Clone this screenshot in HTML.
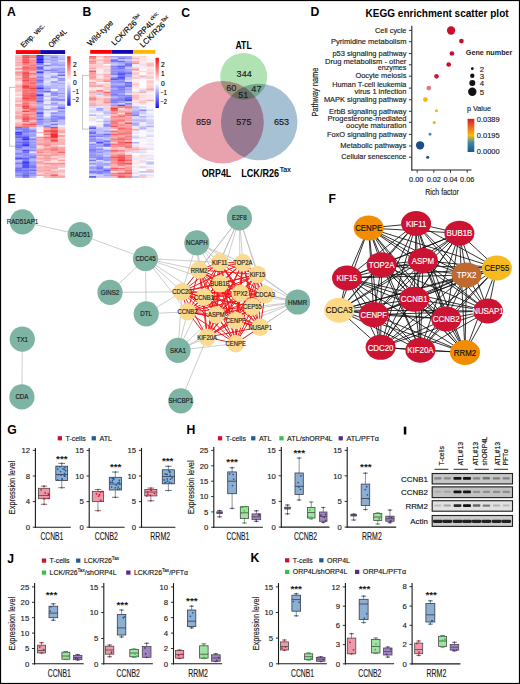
<!DOCTYPE html>
<html><head><meta charset="utf-8"><style>
html,body{margin:0;padding:0;background:#fff;}
svg{display:block;font-family:"Liberation Sans", sans-serif;}
</style></head><body>
<svg width="520" height="684" viewBox="0 0 520 684">
<defs>
<linearGradient id="hmgrad" x1="0" y1="0" x2="0" y2="1">
<stop offset="0" stop-color="#f80c10"/><stop offset="0.5" stop-color="#ffffff"/><stop offset="1" stop-color="#1010f8"/>
</linearGradient>
<linearGradient id="pgrad" x1="0" y1="0" x2="0" y2="1">
<stop offset="0" stop-color="#d01c2c"/><stop offset="0.25" stop-color="#ec6a20"/><stop offset="0.5" stop-color="#f6bc14"/>
<stop offset="0.72" stop-color="#3c8aa4"/><stop offset="1" stop-color="#1b5592"/>
</linearGradient>
<filter id="blur1" x="-50%" y="-50%" width="200%" height="200%"><feGaussianBlur stdDeviation="0.55"/></filter>
</defs>
<rect x="0" y="0" width="520" height="684" fill="#fff"/>
<text x="7.00" y="15.80" font-size="12.2" text-anchor="start" font-weight="bold" fill="#000" >A</text>
<text x="82.60" y="15.50" font-size="12.2" text-anchor="start" font-weight="bold" fill="#000" >B</text>
<rect x="15.80" y="50.10" width="24.40" height="3.90" fill="#fa0208" />
<rect x="40.20" y="50.10" width="24.90" height="3.90" fill="#1206b0" />
<rect x="15.20" y="55.00" width="7.35" height="1.88" fill="#fcc3c4" />
<rect x="22.30" y="55.00" width="7.35" height="1.88" fill="#f75d60" />
<rect x="29.40" y="55.00" width="7.35" height="1.88" fill="#f97e81" />
<rect x="36.50" y="55.00" width="7.35" height="1.88" fill="#2a2af5" />
<rect x="43.60" y="55.00" width="7.35" height="1.88" fill="#9f9ffa" />
<rect x="50.70" y="55.00" width="7.35" height="1.88" fill="#afaffb" />
<rect x="57.80" y="55.00" width="7.35" height="1.88" fill="#c6c6fc" />
<rect x="15.20" y="56.63" width="7.35" height="1.88" fill="#fbaeb0" />
<rect x="22.30" y="56.63" width="7.35" height="1.88" fill="#f74d51" />
<rect x="29.40" y="56.63" width="7.35" height="1.88" fill="#f87073" />
<rect x="36.50" y="56.63" width="7.35" height="1.88" fill="#4040f6" />
<rect x="43.60" y="56.63" width="7.35" height="1.88" fill="#c1c1fc" />
<rect x="50.70" y="56.63" width="7.35" height="1.88" fill="#8383f9" />
<rect x="57.80" y="56.63" width="7.35" height="1.88" fill="#bebefc" />
<rect x="15.20" y="58.27" width="7.35" height="1.88" fill="#fbacad" />
<rect x="22.30" y="58.27" width="7.35" height="1.88" fill="#f75d61" />
<rect x="29.40" y="58.27" width="7.35" height="1.88" fill="#fbabad" />
<rect x="36.50" y="58.27" width="7.35" height="1.88" fill="#1e1ef5" />
<rect x="43.60" y="58.27" width="7.35" height="1.88" fill="#a0a0fa" />
<rect x="50.70" y="58.27" width="7.35" height="1.88" fill="#a7a7fb" />
<rect x="57.80" y="58.27" width="7.35" height="1.88" fill="#aeaefb" />
<rect x="15.20" y="59.90" width="7.35" height="1.88" fill="#fcbcbe" />
<rect x="22.30" y="59.90" width="7.35" height="1.88" fill="#f75c60" />
<rect x="29.40" y="59.90" width="7.35" height="1.88" fill="#f98b8e" />
<rect x="36.50" y="59.90" width="7.35" height="1.88" fill="#3d3df6" />
<rect x="43.60" y="59.90" width="7.35" height="1.88" fill="#c7c7fc" />
<rect x="50.70" y="59.90" width="7.35" height="1.88" fill="#a1a1fa" />
<rect x="57.80" y="59.90" width="7.35" height="1.88" fill="#d9d9fd" />
<rect x="15.20" y="61.54" width="7.35" height="1.88" fill="#fbaaac" />
<rect x="22.30" y="61.54" width="7.35" height="1.88" fill="#f6484c" />
<rect x="29.40" y="61.54" width="7.35" height="1.88" fill="#f98a8d" />
<rect x="36.50" y="61.54" width="7.35" height="1.88" fill="#1e1ef5" />
<rect x="43.60" y="61.54" width="7.35" height="1.88" fill="#b1b1fb" />
<rect x="50.70" y="61.54" width="7.35" height="1.88" fill="#b2b2fb" />
<rect x="57.80" y="61.54" width="7.35" height="1.88" fill="#b8b8fb" />
<rect x="15.20" y="63.17" width="7.35" height="1.88" fill="#fbb3b5" />
<rect x="22.30" y="63.17" width="7.35" height="1.88" fill="#f97a7d" />
<rect x="29.40" y="63.17" width="7.35" height="1.88" fill="#fa9597" />
<rect x="36.50" y="63.17" width="7.35" height="1.88" fill="#7979f9" />
<rect x="43.60" y="63.17" width="7.35" height="1.88" fill="#e0e0fd" />
<rect x="50.70" y="63.17" width="7.35" height="1.88" fill="#9d9dfa" />
<rect x="57.80" y="63.17" width="7.35" height="1.88" fill="#acacfb" />
<rect x="15.20" y="64.81" width="7.35" height="1.88" fill="#fbaeb0" />
<rect x="22.30" y="64.81" width="7.35" height="1.88" fill="#fa9a9c" />
<rect x="29.40" y="64.81" width="7.35" height="1.88" fill="#f87679" />
<rect x="36.50" y="64.81" width="7.35" height="1.88" fill="#b0b0fb" />
<rect x="43.60" y="64.81" width="7.35" height="1.88" fill="#7e7ef9" />
<rect x="50.70" y="64.81" width="7.35" height="1.88" fill="#acacfb" />
<rect x="57.80" y="64.81" width="7.35" height="1.88" fill="#a1a1fa" />
<rect x="15.20" y="66.44" width="7.35" height="1.88" fill="#fdd4d5" />
<rect x="22.30" y="66.44" width="7.35" height="1.88" fill="#f75d61" />
<rect x="29.40" y="66.44" width="7.35" height="1.88" fill="#f9797c" />
<rect x="36.50" y="66.44" width="7.35" height="1.88" fill="#5c5cf7" />
<rect x="43.60" y="66.44" width="7.35" height="1.88" fill="#d4d4fd" />
<rect x="50.70" y="66.44" width="7.35" height="1.88" fill="#cacafc" />
<rect x="57.80" y="66.44" width="7.35" height="1.88" fill="#c1c1fc" />
<rect x="15.20" y="68.08" width="7.35" height="1.88" fill="#fa8f92" />
<rect x="22.30" y="68.08" width="7.35" height="1.88" fill="#f86165" />
<rect x="29.40" y="68.08" width="7.35" height="1.88" fill="#f87477" />
<rect x="36.50" y="68.08" width="7.35" height="1.88" fill="#6161f7" />
<rect x="43.60" y="68.08" width="7.35" height="1.88" fill="#cecefc" />
<rect x="50.70" y="68.08" width="7.35" height="1.88" fill="#a3a3fa" />
<rect x="57.80" y="68.08" width="7.35" height="1.88" fill="#9797fa" />
<rect x="15.20" y="69.71" width="7.35" height="1.88" fill="#fde1e2" />
<rect x="22.30" y="69.71" width="7.35" height="1.88" fill="#f98a8c" />
<rect x="29.40" y="69.71" width="7.35" height="1.88" fill="#f9888a" />
<rect x="36.50" y="69.71" width="7.35" height="1.88" fill="#b0b0fb" />
<rect x="43.60" y="69.71" width="7.35" height="1.88" fill="#7d7df9" />
<rect x="50.70" y="69.71" width="7.35" height="1.88" fill="#8989f9" />
<rect x="57.80" y="69.71" width="7.35" height="1.88" fill="#acacfb" />
<rect x="15.20" y="71.35" width="7.35" height="1.88" fill="#fa8f92" />
<rect x="22.30" y="71.35" width="7.35" height="1.88" fill="#f75b5e" />
<rect x="29.40" y="71.35" width="7.35" height="1.88" fill="#fbb1b3" />
<rect x="36.50" y="71.35" width="7.35" height="1.88" fill="#3c3cf6" />
<rect x="43.60" y="71.35" width="7.35" height="1.88" fill="#c6c6fc" />
<rect x="50.70" y="71.35" width="7.35" height="1.88" fill="#9f9ffa" />
<rect x="57.80" y="71.35" width="7.35" height="1.88" fill="#8282f9" />
<rect x="15.20" y="72.98" width="7.35" height="1.88" fill="#fa9d9f" />
<rect x="22.30" y="72.98" width="7.35" height="1.88" fill="#f74b4f" />
<rect x="29.40" y="72.98" width="7.35" height="1.88" fill="#f87376" />
<rect x="36.50" y="72.98" width="7.35" height="1.88" fill="#9090fa" />
<rect x="43.60" y="72.98" width="7.35" height="1.88" fill="#c8c8fc" />
<rect x="50.70" y="72.98" width="7.35" height="1.88" fill="#e6e6fd" />
<rect x="57.80" y="72.98" width="7.35" height="1.88" fill="#b7b7fb" />
<rect x="15.20" y="74.62" width="7.35" height="1.88" fill="#fbabad" />
<rect x="22.30" y="74.62" width="7.35" height="1.88" fill="#f75c5f" />
<rect x="29.40" y="74.62" width="7.35" height="1.88" fill="#fba7a9" />
<rect x="36.50" y="74.62" width="7.35" height="1.88" fill="#afaffb" />
<rect x="43.60" y="74.62" width="7.35" height="1.88" fill="#d8d8fd" />
<rect x="50.70" y="74.62" width="7.35" height="1.88" fill="#c5c5fc" />
<rect x="57.80" y="74.62" width="7.35" height="1.88" fill="#6969f8" />
<rect x="15.20" y="76.25" width="7.35" height="1.88" fill="#fccecf" />
<rect x="22.30" y="76.25" width="7.35" height="1.88" fill="#f75356" />
<rect x="29.40" y="76.25" width="7.35" height="1.88" fill="#fbafb0" />
<rect x="36.50" y="76.25" width="7.35" height="1.88" fill="#8383f9" />
<rect x="43.60" y="76.25" width="7.35" height="1.88" fill="#dadafd" />
<rect x="50.70" y="76.25" width="7.35" height="1.88" fill="#8e8ef9" />
<rect x="57.80" y="76.25" width="7.35" height="1.88" fill="#d5d5fd" />
<rect x="15.20" y="77.89" width="7.35" height="1.88" fill="#fbaaac" />
<rect x="22.30" y="77.89" width="7.35" height="1.88" fill="#f87174" />
<rect x="29.40" y="77.89" width="7.35" height="1.88" fill="#f86e71" />
<rect x="36.50" y="77.89" width="7.35" height="1.88" fill="#9c9cfa" />
<rect x="43.60" y="77.89" width="7.35" height="1.88" fill="#bfbffc" />
<rect x="50.70" y="77.89" width="7.35" height="1.88" fill="#d8d8fd" />
<rect x="57.80" y="77.89" width="7.35" height="1.88" fill="#9090fa" />
<rect x="15.20" y="79.52" width="7.35" height="1.88" fill="#fcc8c9" />
<rect x="22.30" y="79.52" width="7.35" height="1.88" fill="#f74d51" />
<rect x="29.40" y="79.52" width="7.35" height="1.88" fill="#f8777a" />
<rect x="36.50" y="79.52" width="7.35" height="1.88" fill="#6e6ef8" />
<rect x="43.60" y="79.52" width="7.35" height="1.88" fill="#d8d8fd" />
<rect x="50.70" y="79.52" width="7.35" height="1.88" fill="#e2e2fd" />
<rect x="57.80" y="79.52" width="7.35" height="1.88" fill="#9797fa" />
<rect x="15.20" y="81.15" width="7.35" height="1.88" fill="#fde5e5" />
<rect x="22.30" y="81.15" width="7.35" height="1.88" fill="#f87074" />
<rect x="29.40" y="81.15" width="7.35" height="1.88" fill="#f97c7f" />
<rect x="36.50" y="81.15" width="7.35" height="1.88" fill="#7f7ff9" />
<rect x="43.60" y="81.15" width="7.35" height="1.88" fill="#e6e6fd" />
<rect x="50.70" y="81.15" width="7.35" height="1.88" fill="#9696fa" />
<rect x="57.80" y="81.15" width="7.35" height="1.88" fill="#cbcbfc" />
<rect x="15.20" y="82.79" width="7.35" height="1.88" fill="#fde2e2" />
<rect x="22.30" y="82.79" width="7.35" height="1.88" fill="#f98487" />
<rect x="29.40" y="82.79" width="7.35" height="1.88" fill="#f86468" />
<rect x="36.50" y="82.79" width="7.35" height="1.88" fill="#ababfb" />
<rect x="43.60" y="82.79" width="7.35" height="1.88" fill="#d5d5fd" />
<rect x="50.70" y="82.79" width="7.35" height="1.88" fill="#c0c0fc" />
<rect x="57.80" y="82.79" width="7.35" height="1.88" fill="#a9a9fb" />
<rect x="15.20" y="84.42" width="7.35" height="1.88" fill="#fbb6b8" />
<rect x="22.30" y="84.42" width="7.35" height="1.88" fill="#f75b5e" />
<rect x="29.40" y="84.42" width="7.35" height="1.88" fill="#f97d80" />
<rect x="36.50" y="84.42" width="7.35" height="1.88" fill="#9191fa" />
<rect x="43.60" y="84.42" width="7.35" height="1.88" fill="#ccccfc" />
<rect x="50.70" y="84.42" width="7.35" height="1.88" fill="#b5b5fb" />
<rect x="57.80" y="84.42" width="7.35" height="1.88" fill="#bcbcfc" />
<rect x="15.20" y="86.06" width="7.35" height="1.88" fill="#fbaaac" />
<rect x="22.30" y="86.06" width="7.35" height="1.88" fill="#f52f34" />
<rect x="29.40" y="86.06" width="7.35" height="1.88" fill="#f86e71" />
<rect x="36.50" y="86.06" width="7.35" height="1.88" fill="#7b7bf9" />
<rect x="43.60" y="86.06" width="7.35" height="1.88" fill="#b0b0fb" />
<rect x="50.70" y="86.06" width="7.35" height="1.88" fill="#b5b5fb" />
<rect x="57.80" y="86.06" width="7.35" height="1.88" fill="#c1c1fc" />
<rect x="15.20" y="87.69" width="7.35" height="1.88" fill="#fcc5c6" />
<rect x="22.30" y="87.69" width="7.35" height="1.88" fill="#f76164" />
<rect x="29.40" y="87.69" width="7.35" height="1.88" fill="#f64044" />
<rect x="36.50" y="87.69" width="7.35" height="1.88" fill="#3a3af6" />
<rect x="43.60" y="87.69" width="7.35" height="1.88" fill="#9999fa" />
<rect x="50.70" y="87.69" width="7.35" height="1.88" fill="#bdbdfc" />
<rect x="57.80" y="87.69" width="7.35" height="1.88" fill="#b1b1fb" />
<rect x="15.20" y="89.33" width="7.35" height="1.88" fill="#fbb4b5" />
<rect x="22.30" y="89.33" width="7.35" height="1.88" fill="#f9797c" />
<rect x="29.40" y="89.33" width="7.35" height="1.88" fill="#f86467" />
<rect x="36.50" y="89.33" width="7.35" height="1.88" fill="#9191fa" />
<rect x="43.60" y="89.33" width="7.35" height="1.88" fill="#ababfb" />
<rect x="50.70" y="89.33" width="7.35" height="1.88" fill="#fefefe" />
<rect x="57.80" y="89.33" width="7.35" height="1.88" fill="#afaffb" />
<rect x="15.20" y="90.96" width="7.35" height="1.88" fill="#fccccd" />
<rect x="22.30" y="90.96" width="7.35" height="1.88" fill="#f86f72" />
<rect x="29.40" y="90.96" width="7.35" height="1.88" fill="#f97e81" />
<rect x="36.50" y="90.96" width="7.35" height="1.88" fill="#8686f9" />
<rect x="43.60" y="90.96" width="7.35" height="1.88" fill="#6868f8" />
<rect x="50.70" y="90.96" width="7.35" height="1.88" fill="#a7a7fb" />
<rect x="57.80" y="90.96" width="7.35" height="1.88" fill="#c3c3fc" />
<rect x="15.20" y="92.60" width="7.35" height="1.88" fill="#fddedf" />
<rect x="22.30" y="92.60" width="7.35" height="1.88" fill="#f86e71" />
<rect x="29.40" y="92.60" width="7.35" height="1.88" fill="#f75b5e" />
<rect x="36.50" y="92.60" width="7.35" height="1.88" fill="#a2a2fa" />
<rect x="43.60" y="92.60" width="7.35" height="1.88" fill="#e8e8fe" />
<rect x="50.70" y="92.60" width="7.35" height="1.88" fill="#8282f9" />
<rect x="57.80" y="92.60" width="7.35" height="1.88" fill="#9a9afa" />
<rect x="15.20" y="94.23" width="7.35" height="1.88" fill="#fcc5c7" />
<rect x="22.30" y="94.23" width="7.35" height="1.88" fill="#f7595d" />
<rect x="29.40" y="94.23" width="7.35" height="1.88" fill="#f7565a" />
<rect x="36.50" y="94.23" width="7.35" height="1.88" fill="#3737f6" />
<rect x="43.60" y="94.23" width="7.35" height="1.88" fill="#dcdcfd" />
<rect x="50.70" y="94.23" width="7.35" height="1.88" fill="#8989f9" />
<rect x="57.80" y="94.23" width="7.35" height="1.88" fill="#b9b9fb" />
<rect x="15.20" y="95.87" width="7.35" height="1.88" fill="#fee8e9" />
<rect x="22.30" y="95.87" width="7.35" height="1.88" fill="#f8676a" />
<rect x="29.40" y="95.87" width="7.35" height="1.88" fill="#f75357" />
<rect x="36.50" y="95.87" width="7.35" height="1.88" fill="#8484f9" />
<rect x="43.60" y="95.87" width="7.35" height="1.88" fill="#c1c1fc" />
<rect x="50.70" y="95.87" width="7.35" height="1.88" fill="#cecefc" />
<rect x="57.80" y="95.87" width="7.35" height="1.88" fill="#a9a9fb" />
<rect x="15.20" y="97.50" width="7.35" height="1.88" fill="#fcbebf" />
<rect x="22.30" y="97.50" width="7.35" height="1.88" fill="#f63e42" />
<rect x="29.40" y="97.50" width="7.35" height="1.88" fill="#f7585b" />
<rect x="36.50" y="97.50" width="7.35" height="1.88" fill="#7f7ff9" />
<rect x="43.60" y="97.50" width="7.35" height="1.88" fill="#feefef" />
<rect x="50.70" y="97.50" width="7.35" height="1.88" fill="#9393fa" />
<rect x="57.80" y="97.50" width="7.35" height="1.88" fill="#c0c0fc" />
<rect x="15.20" y="99.14" width="7.35" height="1.88" fill="#fcc3c4" />
<rect x="22.30" y="99.14" width="7.35" height="1.88" fill="#f8686c" />
<rect x="29.40" y="99.14" width="7.35" height="1.88" fill="#f86266" />
<rect x="36.50" y="99.14" width="7.35" height="1.88" fill="#8f8ffa" />
<rect x="43.60" y="99.14" width="7.35" height="1.88" fill="#cecefc" />
<rect x="50.70" y="99.14" width="7.35" height="1.88" fill="#8787f9" />
<rect x="57.80" y="99.14" width="7.35" height="1.88" fill="#7777f8" />
<rect x="15.20" y="100.77" width="7.35" height="1.88" fill="#fba8aa" />
<rect x="22.30" y="100.77" width="7.35" height="1.88" fill="#f98a8c" />
<rect x="29.40" y="100.77" width="7.35" height="1.88" fill="#fa9799" />
<rect x="36.50" y="100.77" width="7.35" height="1.88" fill="#5c5cf7" />
<rect x="43.60" y="100.77" width="7.35" height="1.88" fill="#e1e1fd" />
<rect x="50.70" y="100.77" width="7.35" height="1.88" fill="#ccccfc" />
<rect x="57.80" y="100.77" width="7.35" height="1.88" fill="#d1d1fc" />
<rect x="15.20" y="102.41" width="7.35" height="1.88" fill="#fdd7d8" />
<rect x="22.30" y="102.41" width="7.35" height="1.88" fill="#f86c6f" />
<rect x="29.40" y="102.41" width="7.35" height="1.88" fill="#fa9a9c" />
<rect x="36.50" y="102.41" width="7.35" height="1.88" fill="#a0a0fa" />
<rect x="43.60" y="102.41" width="7.35" height="1.88" fill="#ebebfe" />
<rect x="50.70" y="102.41" width="7.35" height="1.88" fill="#9a9afa" />
<rect x="57.80" y="102.41" width="7.35" height="1.88" fill="#d4d4fd" />
<rect x="15.20" y="104.04" width="7.35" height="1.88" fill="#fa9d9f" />
<rect x="22.30" y="104.04" width="7.35" height="1.88" fill="#f87275" />
<rect x="29.40" y="104.04" width="7.35" height="1.88" fill="#fbb3b5" />
<rect x="36.50" y="104.04" width="7.35" height="1.88" fill="#b3b3fb" />
<rect x="43.60" y="104.04" width="7.35" height="1.88" fill="#b8b8fb" />
<rect x="50.70" y="104.04" width="7.35" height="1.88" fill="#a3a3fa" />
<rect x="57.80" y="104.04" width="7.35" height="1.88" fill="#b1b1fb" />
<rect x="15.20" y="105.67" width="7.35" height="1.88" fill="#fbafb0" />
<rect x="22.30" y="105.67" width="7.35" height="1.88" fill="#f63f43" />
<rect x="29.40" y="105.67" width="7.35" height="1.88" fill="#fa9699" />
<rect x="36.50" y="105.67" width="7.35" height="1.88" fill="#ababfb" />
<rect x="43.60" y="105.67" width="7.35" height="1.88" fill="#e8e8fe" />
<rect x="50.70" y="105.67" width="7.35" height="1.88" fill="#e1e1fd" />
<rect x="57.80" y="105.67" width="7.35" height="1.88" fill="#9f9ffa" />
<rect x="15.20" y="107.31" width="7.35" height="1.88" fill="#fdd2d3" />
<rect x="22.30" y="107.31" width="7.35" height="1.88" fill="#f74d51" />
<rect x="29.40" y="107.31" width="7.35" height="1.88" fill="#f87477" />
<rect x="36.50" y="107.31" width="7.35" height="1.88" fill="#8c8cf9" />
<rect x="43.60" y="107.31" width="7.35" height="1.88" fill="#e6e6fd" />
<rect x="50.70" y="107.31" width="7.35" height="1.88" fill="#adadfb" />
<rect x="57.80" y="107.31" width="7.35" height="1.88" fill="#5f5ff7" />
<rect x="15.20" y="108.94" width="7.35" height="1.88" fill="#fcc7c8" />
<rect x="22.30" y="108.94" width="7.35" height="1.88" fill="#fba5a7" />
<rect x="29.40" y="108.94" width="7.35" height="1.88" fill="#f75f62" />
<rect x="36.50" y="108.94" width="7.35" height="1.88" fill="#9292fa" />
<rect x="43.60" y="108.94" width="7.35" height="1.88" fill="#a8a8fb" />
<rect x="50.70" y="108.94" width="7.35" height="1.88" fill="#b5b5fb" />
<rect x="57.80" y="108.94" width="7.35" height="1.88" fill="#bebefc" />
<rect x="15.20" y="110.58" width="7.35" height="1.88" fill="#fbb9ba" />
<rect x="22.30" y="110.58" width="7.35" height="1.88" fill="#f64448" />
<rect x="29.40" y="110.58" width="7.35" height="1.88" fill="#f9797c" />
<rect x="36.50" y="110.58" width="7.35" height="1.88" fill="#a8a8fb" />
<rect x="43.60" y="110.58" width="7.35" height="1.88" fill="#e8e8fe" />
<rect x="50.70" y="110.58" width="7.35" height="1.88" fill="#e6e6fd" />
<rect x="57.80" y="110.58" width="7.35" height="1.88" fill="#9090fa" />
<rect x="15.20" y="112.21" width="7.35" height="1.88" fill="#faa0a2" />
<rect x="22.30" y="112.21" width="7.35" height="1.88" fill="#fba5a7" />
<rect x="29.40" y="112.21" width="7.35" height="1.88" fill="#fa989b" />
<rect x="36.50" y="112.21" width="7.35" height="1.88" fill="#4d4df7" />
<rect x="43.60" y="112.21" width="7.35" height="1.88" fill="#dbdbfd" />
<rect x="50.70" y="112.21" width="7.35" height="1.88" fill="#9090fa" />
<rect x="57.80" y="112.21" width="7.35" height="1.88" fill="#a4a4fa" />
<rect x="15.20" y="113.85" width="7.35" height="1.88" fill="#fcc1c2" />
<rect x="22.30" y="113.85" width="7.35" height="1.88" fill="#f86d70" />
<rect x="29.40" y="113.85" width="7.35" height="1.88" fill="#f9898c" />
<rect x="36.50" y="113.85" width="7.35" height="1.88" fill="#8f8ffa" />
<rect x="43.60" y="113.85" width="7.35" height="1.88" fill="#f1f1fe" />
<rect x="50.70" y="113.85" width="7.35" height="1.88" fill="#b7b7fb" />
<rect x="57.80" y="113.85" width="7.35" height="1.88" fill="#b5b5fb" />
<rect x="15.20" y="115.48" width="7.35" height="1.88" fill="#fa9d9f" />
<rect x="22.30" y="115.48" width="7.35" height="1.88" fill="#f87275" />
<rect x="29.40" y="115.48" width="7.35" height="1.88" fill="#fa9ea0" />
<rect x="36.50" y="115.48" width="7.35" height="1.88" fill="#7878f9" />
<rect x="43.60" y="115.48" width="7.35" height="1.88" fill="#dcdcfd" />
<rect x="50.70" y="115.48" width="7.35" height="1.88" fill="#8383f9" />
<rect x="57.80" y="115.48" width="7.35" height="1.88" fill="#9292fa" />
<rect x="15.20" y="117.12" width="7.35" height="1.88" fill="#fa9c9f" />
<rect x="22.30" y="117.12" width="7.35" height="1.88" fill="#f75458" />
<rect x="29.40" y="117.12" width="7.35" height="1.88" fill="#f8777a" />
<rect x="36.50" y="117.12" width="7.35" height="1.88" fill="#a1a1fa" />
<rect x="43.60" y="117.12" width="7.35" height="1.88" fill="#c0c0fc" />
<rect x="50.70" y="117.12" width="7.35" height="1.88" fill="#9292fa" />
<rect x="57.80" y="117.12" width="7.35" height="1.88" fill="#7575f8" />
<rect x="15.20" y="118.75" width="7.35" height="1.88" fill="#fccecf" />
<rect x="22.30" y="118.75" width="7.35" height="1.88" fill="#f75054" />
<rect x="29.40" y="118.75" width="7.35" height="1.88" fill="#f9898b" />
<rect x="36.50" y="118.75" width="7.35" height="1.88" fill="#6d6df8" />
<rect x="43.60" y="118.75" width="7.35" height="1.88" fill="#a4a4fa" />
<rect x="50.70" y="118.75" width="7.35" height="1.88" fill="#8787f9" />
<rect x="57.80" y="118.75" width="7.35" height="1.88" fill="#a1a1fa" />
<rect x="15.20" y="120.39" width="7.35" height="1.88" fill="#fddfe0" />
<rect x="22.30" y="120.39" width="7.35" height="1.88" fill="#f86165" />
<rect x="29.40" y="120.39" width="7.35" height="1.88" fill="#fcbfc1" />
<rect x="36.50" y="120.39" width="7.35" height="1.88" fill="#9292fa" />
<rect x="43.60" y="120.39" width="7.35" height="1.88" fill="#a8a8fb" />
<rect x="50.70" y="120.39" width="7.35" height="1.88" fill="#7a7af9" />
<rect x="57.80" y="120.39" width="7.35" height="1.88" fill="#bbbbfb" />
<rect x="15.20" y="122.02" width="7.35" height="1.88" fill="#fcc3c5" />
<rect x="22.30" y="122.02" width="7.35" height="1.88" fill="#fbb0b2" />
<rect x="29.40" y="122.02" width="7.35" height="1.88" fill="#fa9294" />
<rect x="36.50" y="122.02" width="7.35" height="1.88" fill="#9191fa" />
<rect x="43.60" y="122.02" width="7.35" height="1.88" fill="#adadfb" />
<rect x="50.70" y="122.02" width="7.35" height="1.88" fill="#cdcdfc" />
<rect x="57.80" y="122.02" width="7.35" height="1.88" fill="#bbbbfc" />
<rect x="15.20" y="123.66" width="7.35" height="1.88" fill="#fba7a9" />
<rect x="22.30" y="123.66" width="7.35" height="1.88" fill="#f86266" />
<rect x="29.40" y="123.66" width="7.35" height="1.88" fill="#f74f53" />
<rect x="36.50" y="123.66" width="7.35" height="1.88" fill="#9c9cfa" />
<rect x="43.60" y="123.66" width="7.35" height="1.88" fill="#c9c9fc" />
<rect x="50.70" y="123.66" width="7.35" height="1.88" fill="#7676f8" />
<rect x="57.80" y="123.66" width="7.35" height="1.88" fill="#c0c0fc" />
<rect x="15.20" y="125.29" width="7.35" height="1.88" fill="#fa9396" />
<rect x="22.30" y="125.29" width="7.35" height="1.88" fill="#f87578" />
<rect x="29.40" y="125.29" width="7.35" height="1.88" fill="#f98688" />
<rect x="36.50" y="125.29" width="7.35" height="1.88" fill="#c3c3fc" />
<rect x="43.60" y="125.29" width="7.35" height="1.88" fill="#8686f9" />
<rect x="50.70" y="125.29" width="7.35" height="1.88" fill="#c4c4fc" />
<rect x="57.80" y="125.29" width="7.35" height="1.88" fill="#eeeefe" />
<rect x="15.20" y="126.93" width="7.35" height="1.88" fill="#6c6cf8" />
<rect x="22.30" y="126.93" width="7.35" height="1.88" fill="#8787f9" />
<rect x="29.40" y="126.93" width="7.35" height="1.88" fill="#cdcdfc" />
<rect x="36.50" y="126.93" width="7.35" height="1.88" fill="#feecec" />
<rect x="43.60" y="126.93" width="7.35" height="1.88" fill="#f98e90" />
<rect x="50.70" y="126.93" width="7.35" height="1.88" fill="#f64044" />
<rect x="57.80" y="126.93" width="7.35" height="1.88" fill="#fcd1d2" />
<rect x="15.20" y="128.56" width="7.35" height="1.88" fill="#8686f9" />
<rect x="22.30" y="128.56" width="7.35" height="1.88" fill="#7b7bf9" />
<rect x="29.40" y="128.56" width="7.35" height="1.88" fill="#adadfb" />
<rect x="36.50" y="128.56" width="7.35" height="1.88" fill="#fee9ea" />
<rect x="43.60" y="128.56" width="7.35" height="1.88" fill="#fba5a7" />
<rect x="50.70" y="128.56" width="7.35" height="1.88" fill="#f97a7d" />
<rect x="57.80" y="128.56" width="7.35" height="1.88" fill="#fcc0c2" />
<rect x="15.20" y="130.19" width="7.35" height="1.88" fill="#a3a3fa" />
<rect x="22.30" y="130.19" width="7.35" height="1.88" fill="#7575f8" />
<rect x="29.40" y="130.19" width="7.35" height="1.88" fill="#7a7af9" />
<rect x="36.50" y="130.19" width="7.35" height="1.88" fill="#fbfbfe" />
<rect x="43.60" y="130.19" width="7.35" height="1.88" fill="#f74e52" />
<rect x="50.70" y="130.19" width="7.35" height="1.88" fill="#f6393d" />
<rect x="57.80" y="130.19" width="7.35" height="1.88" fill="#faa2a4" />
<rect x="15.20" y="131.83" width="7.35" height="1.88" fill="#3a3af6" />
<rect x="22.30" y="131.83" width="7.35" height="1.88" fill="#8585f9" />
<rect x="29.40" y="131.83" width="7.35" height="1.88" fill="#a2a2fa" />
<rect x="36.50" y="131.83" width="7.35" height="1.88" fill="#fbb5b6" />
<rect x="43.60" y="131.83" width="7.35" height="1.88" fill="#fa9294" />
<rect x="50.70" y="131.83" width="7.35" height="1.88" fill="#f75d61" />
<rect x="57.80" y="131.83" width="7.35" height="1.88" fill="#fba6a7" />
<rect x="15.20" y="133.46" width="7.35" height="1.88" fill="#4d4df7" />
<rect x="22.30" y="133.46" width="7.35" height="1.88" fill="#9191fa" />
<rect x="29.40" y="133.46" width="7.35" height="1.88" fill="#9d9dfa" />
<rect x="36.50" y="133.46" width="7.35" height="1.88" fill="#fefdfd" />
<rect x="43.60" y="133.46" width="7.35" height="1.88" fill="#f8777a" />
<rect x="50.70" y="133.46" width="7.35" height="1.88" fill="#f52429" />
<rect x="57.80" y="133.46" width="7.35" height="1.88" fill="#fde0e1" />
<rect x="15.20" y="135.10" width="7.35" height="1.88" fill="#7474f8" />
<rect x="22.30" y="135.10" width="7.35" height="1.88" fill="#7b7bf9" />
<rect x="29.40" y="135.10" width="7.35" height="1.88" fill="#9999fa" />
<rect x="36.50" y="135.10" width="7.35" height="1.88" fill="#fef4f4" />
<rect x="43.60" y="135.10" width="7.35" height="1.88" fill="#fcbcbe" />
<rect x="50.70" y="135.10" width="7.35" height="1.88" fill="#f51e23" />
<rect x="57.80" y="135.10" width="7.35" height="1.88" fill="#fa9698" />
<rect x="15.20" y="136.73" width="7.35" height="1.88" fill="#6464f8" />
<rect x="22.30" y="136.73" width="7.35" height="1.88" fill="#4949f6" />
<rect x="29.40" y="136.73" width="7.35" height="1.88" fill="#c7c7fc" />
<rect x="36.50" y="136.73" width="7.35" height="1.88" fill="#fa9294" />
<rect x="43.60" y="136.73" width="7.35" height="1.88" fill="#f8686b" />
<rect x="50.70" y="136.73" width="7.35" height="1.88" fill="#f64347" />
<rect x="57.80" y="136.73" width="7.35" height="1.88" fill="#fcd0d1" />
<rect x="15.20" y="138.37" width="7.35" height="1.88" fill="#9090fa" />
<rect x="22.30" y="138.37" width="7.35" height="1.88" fill="#3030f5" />
<rect x="29.40" y="138.37" width="7.35" height="1.88" fill="#7d7df9" />
<rect x="36.50" y="138.37" width="7.35" height="1.88" fill="#fbb2b3" />
<rect x="43.60" y="138.37" width="7.35" height="1.88" fill="#fa8f91" />
<rect x="50.70" y="138.37" width="7.35" height="1.88" fill="#f87175" />
<rect x="57.80" y="138.37" width="7.35" height="1.88" fill="#fbb9bb" />
<rect x="15.20" y="140.00" width="7.35" height="1.88" fill="#9696fa" />
<rect x="22.30" y="140.00" width="7.35" height="1.88" fill="#7d7df9" />
<rect x="29.40" y="140.00" width="7.35" height="1.88" fill="#a7a7fb" />
<rect x="36.50" y="140.00" width="7.35" height="1.88" fill="#fba9ab" />
<rect x="43.60" y="140.00" width="7.35" height="1.88" fill="#fba9ab" />
<rect x="50.70" y="140.00" width="7.35" height="1.88" fill="#f64348" />
<rect x="57.80" y="140.00" width="7.35" height="1.88" fill="#fbb4b6" />
<rect x="15.20" y="141.64" width="7.35" height="1.88" fill="#6f6ff8" />
<rect x="22.30" y="141.64" width="7.35" height="1.88" fill="#5f5ff7" />
<rect x="29.40" y="141.64" width="7.35" height="1.88" fill="#9494fa" />
<rect x="36.50" y="141.64" width="7.35" height="1.88" fill="#fbb3b5" />
<rect x="43.60" y="141.64" width="7.35" height="1.88" fill="#fa9a9c" />
<rect x="50.70" y="141.64" width="7.35" height="1.88" fill="#fba5a7" />
<rect x="57.80" y="141.64" width="7.35" height="1.88" fill="#fbb0b2" />
<rect x="15.20" y="143.27" width="7.35" height="1.88" fill="#8484f9" />
<rect x="22.30" y="143.27" width="7.35" height="1.88" fill="#4c4cf7" />
<rect x="29.40" y="143.27" width="7.35" height="1.88" fill="#a0a0fa" />
<rect x="36.50" y="143.27" width="7.35" height="1.88" fill="#fa9092" />
<rect x="43.60" y="143.27" width="7.35" height="1.88" fill="#fa9294" />
<rect x="50.70" y="143.27" width="7.35" height="1.88" fill="#fbaaac" />
<rect x="57.80" y="143.27" width="7.35" height="1.88" fill="#fba8aa" />
<rect x="15.20" y="144.91" width="7.35" height="1.88" fill="#6b6bf8" />
<rect x="22.30" y="144.91" width="7.35" height="1.88" fill="#3838f6" />
<rect x="29.40" y="144.91" width="7.35" height="1.88" fill="#9595fa" />
<rect x="36.50" y="144.91" width="7.35" height="1.88" fill="#fccccd" />
<rect x="43.60" y="144.91" width="7.35" height="1.88" fill="#f9888b" />
<rect x="50.70" y="144.91" width="7.35" height="1.88" fill="#fcc5c7" />
<rect x="57.80" y="144.91" width="7.35" height="1.88" fill="#f8f8fe" />
<rect x="15.20" y="146.54" width="7.35" height="1.88" fill="#6969f8" />
<rect x="22.30" y="146.54" width="7.35" height="1.88" fill="#a2a2fa" />
<rect x="29.40" y="146.54" width="7.35" height="1.88" fill="#8888f9" />
<rect x="36.50" y="146.54" width="7.35" height="1.88" fill="#fdd9da" />
<rect x="43.60" y="146.54" width="7.35" height="1.88" fill="#fbb6b8" />
<rect x="50.70" y="146.54" width="7.35" height="1.88" fill="#fa9597" />
<rect x="57.80" y="146.54" width="7.35" height="1.88" fill="#fba6a8" />
<rect x="15.20" y="148.18" width="7.35" height="1.88" fill="#8e8ef9" />
<rect x="22.30" y="148.18" width="7.35" height="1.88" fill="#9f9ffa" />
<rect x="29.40" y="148.18" width="7.35" height="1.88" fill="#a9a9fb" />
<rect x="36.50" y="148.18" width="7.35" height="1.88" fill="#fbb0b2" />
<rect x="43.60" y="148.18" width="7.35" height="1.88" fill="#f98d8f" />
<rect x="50.70" y="148.18" width="7.35" height="1.88" fill="#f87275" />
<rect x="57.80" y="148.18" width="7.35" height="1.88" fill="#fa989a" />
<rect x="15.20" y="149.81" width="7.35" height="1.88" fill="#a7a7fb" />
<rect x="22.30" y="149.81" width="7.35" height="1.88" fill="#5151f7" />
<rect x="29.40" y="149.81" width="7.35" height="1.88" fill="#8f8ffa" />
<rect x="36.50" y="149.81" width="7.35" height="1.88" fill="#fa9a9c" />
<rect x="43.60" y="149.81" width="7.35" height="1.88" fill="#fba8aa" />
<rect x="50.70" y="149.81" width="7.35" height="1.88" fill="#f98487" />
<rect x="57.80" y="149.81" width="7.35" height="1.88" fill="#faa3a5" />
<rect x="15.20" y="151.45" width="7.35" height="1.88" fill="#a4a4fa" />
<rect x="22.30" y="151.45" width="7.35" height="1.88" fill="#6b6bf8" />
<rect x="29.40" y="151.45" width="7.35" height="1.88" fill="#e1e1fd" />
<rect x="36.50" y="151.45" width="7.35" height="1.88" fill="#f98a8d" />
<rect x="43.60" y="151.45" width="7.35" height="1.88" fill="#fba5a7" />
<rect x="50.70" y="151.45" width="7.35" height="1.88" fill="#faa2a4" />
<rect x="57.80" y="151.45" width="7.35" height="1.88" fill="#f8676a" />
<rect x="15.20" y="153.08" width="7.35" height="1.88" fill="#7e7ef9" />
<rect x="22.30" y="153.08" width="7.35" height="1.88" fill="#8c8cf9" />
<rect x="29.40" y="153.08" width="7.35" height="1.88" fill="#b1b1fb" />
<rect x="36.50" y="153.08" width="7.35" height="1.88" fill="#fbb0b1" />
<rect x="43.60" y="153.08" width="7.35" height="1.88" fill="#fcc2c4" />
<rect x="50.70" y="153.08" width="7.35" height="1.88" fill="#fa9fa1" />
<rect x="57.80" y="153.08" width="7.35" height="1.88" fill="#fbaaac" />
<rect x="15.20" y="154.71" width="7.35" height="1.88" fill="#ababfb" />
<rect x="22.30" y="154.71" width="7.35" height="1.88" fill="#8a8af9" />
<rect x="29.40" y="154.71" width="7.35" height="1.88" fill="#9494fa" />
<rect x="36.50" y="154.71" width="7.35" height="1.88" fill="#fa9698" />
<rect x="43.60" y="154.71" width="7.35" height="1.88" fill="#fa8e91" />
<rect x="50.70" y="154.71" width="7.35" height="1.88" fill="#fa9ea0" />
<rect x="57.80" y="154.71" width="7.35" height="1.88" fill="#fbb4b5" />
<rect x="15.20" y="156.35" width="7.35" height="1.88" fill="#8181f9" />
<rect x="22.30" y="156.35" width="7.35" height="1.88" fill="#8787f9" />
<rect x="29.40" y="156.35" width="7.35" height="1.88" fill="#7474f8" />
<rect x="36.50" y="156.35" width="7.35" height="1.88" fill="#fcc3c4" />
<rect x="43.60" y="156.35" width="7.35" height="1.88" fill="#fa9fa1" />
<rect x="50.70" y="156.35" width="7.35" height="1.88" fill="#fcd1d2" />
<rect x="57.80" y="156.35" width="7.35" height="1.88" fill="#fcc3c4" />
<rect x="15.20" y="157.98" width="7.35" height="1.88" fill="#4b4bf7" />
<rect x="22.30" y="157.98" width="7.35" height="1.88" fill="#5d5df7" />
<rect x="29.40" y="157.98" width="7.35" height="1.88" fill="#a5a5fb" />
<rect x="36.50" y="157.98" width="7.35" height="1.88" fill="#fa9fa1" />
<rect x="43.60" y="157.98" width="7.35" height="1.88" fill="#faa1a3" />
<rect x="50.70" y="157.98" width="7.35" height="1.88" fill="#fbacad" />
<rect x="57.80" y="157.98" width="7.35" height="1.88" fill="#fde0e1" />
<rect x="15.20" y="159.62" width="7.35" height="1.88" fill="#c0c0fc" />
<rect x="22.30" y="159.62" width="7.35" height="1.88" fill="#8282f9" />
<rect x="29.40" y="159.62" width="7.35" height="1.88" fill="#b5b5fb" />
<rect x="36.50" y="159.62" width="7.35" height="1.88" fill="#fccbcc" />
<rect x="43.60" y="159.62" width="7.35" height="1.88" fill="#fba5a7" />
<rect x="50.70" y="159.62" width="7.35" height="1.88" fill="#fddcdd" />
<rect x="57.80" y="159.62" width="7.35" height="1.88" fill="#fa9ea0" />
<rect x="15.20" y="161.25" width="7.35" height="1.88" fill="#a5a5fb" />
<rect x="22.30" y="161.25" width="7.35" height="1.88" fill="#3838f6" />
<rect x="29.40" y="161.25" width="7.35" height="1.88" fill="#9292fa" />
<rect x="36.50" y="161.25" width="7.35" height="1.88" fill="#fa9d9f" />
<rect x="43.60" y="161.25" width="7.35" height="1.88" fill="#fdd4d5" />
<rect x="50.70" y="161.25" width="7.35" height="1.88" fill="#fddcdd" />
<rect x="57.80" y="161.25" width="7.35" height="1.88" fill="#fdd6d7" />
<rect x="15.20" y="162.89" width="7.35" height="1.88" fill="#7575f8" />
<rect x="22.30" y="162.89" width="7.35" height="1.88" fill="#4747f6" />
<rect x="29.40" y="162.89" width="7.35" height="1.88" fill="#9595fa" />
<rect x="36.50" y="162.89" width="7.35" height="1.88" fill="#fba8aa" />
<rect x="43.60" y="162.89" width="7.35" height="1.88" fill="#f98c8e" />
<rect x="50.70" y="162.89" width="7.35" height="1.88" fill="#fa8f92" />
<rect x="57.80" y="162.89" width="7.35" height="1.88" fill="#f9888a" />
<rect x="15.20" y="164.52" width="7.35" height="1.88" fill="#acacfb" />
<rect x="22.30" y="164.52" width="7.35" height="1.88" fill="#4a4af6" />
<rect x="29.40" y="164.52" width="7.35" height="1.88" fill="#8484f9" />
<rect x="36.50" y="164.52" width="7.35" height="1.88" fill="#fcd0d1" />
<rect x="43.60" y="164.52" width="7.35" height="1.88" fill="#fcc0c1" />
<rect x="50.70" y="164.52" width="7.35" height="1.88" fill="#fba7a9" />
<rect x="57.80" y="164.52" width="7.35" height="1.88" fill="#fbb5b7" />
<rect x="15.20" y="166.16" width="7.35" height="1.88" fill="#9797fa" />
<rect x="22.30" y="166.16" width="7.35" height="1.88" fill="#4242f6" />
<rect x="29.40" y="166.16" width="7.35" height="1.88" fill="#6e6ef8" />
<rect x="36.50" y="166.16" width="7.35" height="1.88" fill="#fbb0b2" />
<rect x="43.60" y="166.16" width="7.35" height="1.88" fill="#fba5a7" />
<rect x="50.70" y="166.16" width="7.35" height="1.88" fill="#fbaeb0" />
<rect x="57.80" y="166.16" width="7.35" height="1.88" fill="#fbb7b9" />
<rect x="15.20" y="167.79" width="7.35" height="1.88" fill="#7171f8" />
<rect x="22.30" y="167.79" width="7.35" height="1.88" fill="#8787f9" />
<rect x="29.40" y="167.79" width="7.35" height="1.88" fill="#9e9efa" />
<rect x="36.50" y="167.79" width="7.35" height="1.88" fill="#fbb2b4" />
<rect x="43.60" y="167.79" width="7.35" height="1.88" fill="#fbb3b5" />
<rect x="50.70" y="167.79" width="7.35" height="1.88" fill="#fbaaac" />
<rect x="57.80" y="167.79" width="7.35" height="1.88" fill="#f5f5fe" />
<rect x="15.20" y="169.43" width="7.35" height="1.88" fill="#6b6bf8" />
<rect x="22.30" y="169.43" width="7.35" height="1.88" fill="#7373f8" />
<rect x="29.40" y="169.43" width="7.35" height="1.88" fill="#6666f8" />
<rect x="36.50" y="169.43" width="7.35" height="1.88" fill="#fbaaac" />
<rect x="43.60" y="169.43" width="7.35" height="1.88" fill="#fa9a9d" />
<rect x="50.70" y="169.43" width="7.35" height="1.88" fill="#fccecf" />
<rect x="57.80" y="169.43" width="7.35" height="1.88" fill="#fcbdbe" />
<rect x="15.20" y="171.06" width="7.35" height="1.88" fill="#7f7ff9" />
<rect x="22.30" y="171.06" width="7.35" height="1.88" fill="#8080f9" />
<rect x="29.40" y="171.06" width="7.35" height="1.88" fill="#a6a6fb" />
<rect x="36.50" y="171.06" width="7.35" height="1.88" fill="#fbb1b3" />
<rect x="43.60" y="171.06" width="7.35" height="1.88" fill="#fbb9ba" />
<rect x="50.70" y="171.06" width="7.35" height="1.88" fill="#fba9ab" />
<rect x="57.80" y="171.06" width="7.35" height="1.88" fill="#fbb7b9" />
<rect x="15.20" y="172.70" width="7.35" height="1.88" fill="#9f9ffa" />
<rect x="22.30" y="172.70" width="7.35" height="1.88" fill="#7b7bf9" />
<rect x="29.40" y="172.70" width="7.35" height="1.88" fill="#7e7ef9" />
<rect x="36.50" y="172.70" width="7.35" height="1.88" fill="#fdd9da" />
<rect x="43.60" y="172.70" width="7.35" height="1.88" fill="#fbaaac" />
<rect x="50.70" y="172.70" width="7.35" height="1.88" fill="#fbbbbc" />
<rect x="57.80" y="172.70" width="7.35" height="1.88" fill="#fdd7d8" />
<rect x="15.20" y="174.33" width="7.35" height="1.88" fill="#8585f9" />
<rect x="22.30" y="174.33" width="7.35" height="1.88" fill="#6363f8" />
<rect x="29.40" y="174.33" width="7.35" height="1.88" fill="#9797fa" />
<rect x="36.50" y="174.33" width="7.35" height="1.88" fill="#faa0a2" />
<rect x="43.60" y="174.33" width="7.35" height="1.88" fill="#fbabad" />
<rect x="50.70" y="174.33" width="7.35" height="1.88" fill="#f75e61" />
<rect x="57.80" y="174.33" width="7.35" height="1.88" fill="#fcbfc1" />
<rect x="15.20" y="175.97" width="7.35" height="1.88" fill="#aaaafb" />
<rect x="22.30" y="175.97" width="7.35" height="1.88" fill="#7676f8" />
<rect x="29.40" y="175.97" width="7.35" height="1.88" fill="#b6b6fb" />
<rect x="36.50" y="175.97" width="7.35" height="1.88" fill="#fef8f8" />
<rect x="43.60" y="175.97" width="7.35" height="1.88" fill="#fbb6b7" />
<rect x="50.70" y="175.97" width="7.35" height="1.88" fill="#fa9d9f" />
<rect x="57.80" y="175.97" width="7.35" height="1.88" fill="#faa3a5" />
<line x1="9.60" y1="87.40" x2="9.60" y2="146.20" stroke="#b4b4b4" stroke-width="0.8" />
<line x1="9.20" y1="87.40" x2="15.20" y2="87.40" stroke="#b4b4b4" stroke-width="0.8" />
<line x1="9.20" y1="146.20" x2="15.20" y2="146.20" stroke="#b4b4b4" stroke-width="0.8" />
<rect x="67.2" y="56.3" width="3.4" height="49.400000000000006" fill="url(#hmgrad)"/>
<text x="72.90" y="67.20" font-size="6.6" text-anchor="start" font-weight="normal" fill="#000" stroke="#000" stroke-width="0.15" >2</text>
<text x="72.90" y="75.80" font-size="6.6" text-anchor="start" font-weight="normal" fill="#000" stroke="#000" stroke-width="0.15" >1</text>
<text x="72.90" y="84.70" font-size="6.6" text-anchor="start" font-weight="normal" fill="#000" stroke="#000" stroke-width="0.15" >0</text>
<text x="72.60" y="93.50" font-size="6.6" text-anchor="start" font-weight="normal" fill="#000" stroke="#000" stroke-width="0.15" textLength="6.40" lengthAdjust="spacingAndGlyphs" >−1</text>
<text x="72.60" y="102.40" font-size="6.6" text-anchor="start" font-weight="normal" fill="#000" stroke="#000" stroke-width="0.15" textLength="6.40" lengthAdjust="spacingAndGlyphs" >−2</text>
<text transform="translate(23.80,48.00) rotate(-45)" x="0" y="0" font-size="7.6" text-anchor="start" font-weight="normal" fill="#000" stroke="#000" stroke-width="0.15" textLength="30.41" lengthAdjust="spacingAndGlyphs">Emp. vec.</text>
<text transform="translate(51.60,48.00) rotate(-45)" x="0" y="0" font-size="7.6" text-anchor="start" font-weight="normal" fill="#000" stroke="#000" stroke-width="0.15" textLength="22.43" lengthAdjust="spacingAndGlyphs">ORP4L</text>
<rect x="90.20" y="50.00" width="21.60" height="3.80" fill="#fa0208" />
<rect x="111.80" y="50.00" width="21.50" height="3.80" fill="#1206b0" />
<rect x="133.30" y="50.00" width="22.00" height="3.80" fill="#ffb800" />
<rect x="89.10" y="56.00" width="7.42" height="1.87" fill="#f8676a" />
<rect x="96.27" y="56.00" width="7.42" height="1.87" fill="#fcc1c2" />
<rect x="103.43" y="56.00" width="7.42" height="1.87" fill="#fa9598" />
<rect x="110.60" y="56.00" width="7.42" height="1.87" fill="#a2a2fa" />
<rect x="117.77" y="56.00" width="7.42" height="1.87" fill="#a3a3fa" />
<rect x="124.93" y="56.00" width="7.42" height="1.87" fill="#a5a5fb" />
<rect x="132.10" y="56.00" width="7.42" height="1.87" fill="#fde2e3" />
<rect x="139.27" y="56.00" width="7.42" height="1.87" fill="#fdd5d5" />
<rect x="146.43" y="56.00" width="7.42" height="1.87" fill="#fcfcfe" />
<rect x="89.10" y="57.62" width="7.42" height="1.87" fill="#f98e90" />
<rect x="96.27" y="57.62" width="7.42" height="1.87" fill="#feeeef" />
<rect x="103.43" y="57.62" width="7.42" height="1.87" fill="#fbb8ba" />
<rect x="110.60" y="57.62" width="7.42" height="1.87" fill="#d0d0fc" />
<rect x="117.77" y="57.62" width="7.42" height="1.87" fill="#7b7bf9" />
<rect x="124.93" y="57.62" width="7.42" height="1.87" fill="#9494fa" />
<rect x="132.10" y="57.62" width="7.42" height="1.87" fill="#fbb5b7" />
<rect x="139.27" y="57.62" width="7.42" height="1.87" fill="#fde5e5" />
<rect x="146.43" y="57.62" width="7.42" height="1.87" fill="#fef8f8" />
<rect x="89.10" y="59.24" width="7.42" height="1.87" fill="#fbadae" />
<rect x="96.27" y="59.24" width="7.42" height="1.87" fill="#fbb8ba" />
<rect x="103.43" y="59.24" width="7.42" height="1.87" fill="#fba9ab" />
<rect x="110.60" y="59.24" width="7.42" height="1.87" fill="#6e6ef8" />
<rect x="117.77" y="59.24" width="7.42" height="1.87" fill="#bebefc" />
<rect x="124.93" y="59.24" width="7.42" height="1.87" fill="#ccccfc" />
<rect x="132.10" y="59.24" width="7.42" height="1.87" fill="#fddcdd" />
<rect x="139.27" y="59.24" width="7.42" height="1.87" fill="#fddddd" />
<rect x="146.43" y="59.24" width="7.42" height="1.87" fill="#feebec" />
<rect x="89.10" y="60.86" width="7.42" height="1.87" fill="#f98688" />
<rect x="96.27" y="60.86" width="7.42" height="1.87" fill="#fde4e4" />
<rect x="103.43" y="60.86" width="7.42" height="1.87" fill="#fbaaac" />
<rect x="110.60" y="60.86" width="7.42" height="1.87" fill="#7878f9" />
<rect x="117.77" y="60.86" width="7.42" height="1.87" fill="#6b6bf8" />
<rect x="124.93" y="60.86" width="7.42" height="1.87" fill="#acacfb" />
<rect x="132.10" y="60.86" width="7.42" height="1.87" fill="#fbb0b1" />
<rect x="139.27" y="60.86" width="7.42" height="1.87" fill="#fde6e7" />
<rect x="146.43" y="60.86" width="7.42" height="1.87" fill="#fef4f4" />
<rect x="89.10" y="62.49" width="7.42" height="1.87" fill="#fa9a9c" />
<rect x="96.27" y="62.49" width="7.42" height="1.87" fill="#fccecf" />
<rect x="103.43" y="62.49" width="7.42" height="1.87" fill="#fbb6b8" />
<rect x="110.60" y="62.49" width="7.42" height="1.87" fill="#bcbcfc" />
<rect x="117.77" y="62.49" width="7.42" height="1.87" fill="#a9a9fb" />
<rect x="124.93" y="62.49" width="7.42" height="1.87" fill="#8282f9" />
<rect x="132.10" y="62.49" width="7.42" height="1.87" fill="#fa9092" />
<rect x="139.27" y="62.49" width="7.42" height="1.87" fill="#fde6e6" />
<rect x="146.43" y="62.49" width="7.42" height="1.87" fill="#fcc2c4" />
<rect x="89.10" y="64.11" width="7.42" height="1.87" fill="#fccbcc" />
<rect x="96.27" y="64.11" width="7.42" height="1.87" fill="#fccdce" />
<rect x="103.43" y="64.11" width="7.42" height="1.87" fill="#fefcfc" />
<rect x="110.60" y="64.11" width="7.42" height="1.87" fill="#c5c5fc" />
<rect x="117.77" y="64.11" width="7.42" height="1.87" fill="#b1b1fb" />
<rect x="124.93" y="64.11" width="7.42" height="1.87" fill="#6b6bf8" />
<rect x="132.10" y="64.11" width="7.42" height="1.87" fill="#ededfe" />
<rect x="139.27" y="64.11" width="7.42" height="1.87" fill="#e1e1fd" />
<rect x="146.43" y="64.11" width="7.42" height="1.87" fill="#fbb5b7" />
<rect x="89.10" y="65.73" width="7.42" height="1.87" fill="#fcc5c6" />
<rect x="96.27" y="65.73" width="7.42" height="1.87" fill="#fccecf" />
<rect x="103.43" y="65.73" width="7.42" height="1.87" fill="#fccbcc" />
<rect x="110.60" y="65.73" width="7.42" height="1.87" fill="#8484f9" />
<rect x="117.77" y="65.73" width="7.42" height="1.87" fill="#5e5ef7" />
<rect x="124.93" y="65.73" width="7.42" height="1.87" fill="#9494fa" />
<rect x="132.10" y="65.73" width="7.42" height="1.87" fill="#f0f0fe" />
<rect x="139.27" y="65.73" width="7.42" height="1.87" fill="#fee8e9" />
<rect x="146.43" y="65.73" width="7.42" height="1.87" fill="#fdd2d3" />
<rect x="89.10" y="67.35" width="7.42" height="1.87" fill="#fba6a8" />
<rect x="96.27" y="67.35" width="7.42" height="1.87" fill="#fdd4d5" />
<rect x="103.43" y="67.35" width="7.42" height="1.87" fill="#fddfe0" />
<rect x="110.60" y="67.35" width="7.42" height="1.87" fill="#8e8ef9" />
<rect x="117.77" y="67.35" width="7.42" height="1.87" fill="#7272f8" />
<rect x="124.93" y="67.35" width="7.42" height="1.87" fill="#c8c8fc" />
<rect x="132.10" y="67.35" width="7.42" height="1.87" fill="#fcc3c4" />
<rect x="139.27" y="67.35" width="7.42" height="1.87" fill="#feeaea" />
<rect x="146.43" y="67.35" width="7.42" height="1.87" fill="#feeded" />
<rect x="89.10" y="68.97" width="7.42" height="1.87" fill="#fccdce" />
<rect x="96.27" y="68.97" width="7.42" height="1.87" fill="#feecec" />
<rect x="103.43" y="68.97" width="7.42" height="1.87" fill="#fccdce" />
<rect x="110.60" y="68.97" width="7.42" height="1.87" fill="#9292fa" />
<rect x="117.77" y="68.97" width="7.42" height="1.87" fill="#9494fa" />
<rect x="124.93" y="68.97" width="7.42" height="1.87" fill="#a7a7fb" />
<rect x="132.10" y="68.97" width="7.42" height="1.87" fill="#fa9698" />
<rect x="139.27" y="68.97" width="7.42" height="1.87" fill="#fefefe" />
<rect x="146.43" y="68.97" width="7.42" height="1.87" fill="#fddcdd" />
<rect x="89.10" y="70.59" width="7.42" height="1.87" fill="#f7575b" />
<rect x="96.27" y="70.59" width="7.42" height="1.87" fill="#f2f2fe" />
<rect x="103.43" y="70.59" width="7.42" height="1.87" fill="#fdd2d3" />
<rect x="110.60" y="70.59" width="7.42" height="1.87" fill="#8e8efa" />
<rect x="117.77" y="70.59" width="7.42" height="1.87" fill="#8888f9" />
<rect x="124.93" y="70.59" width="7.42" height="1.87" fill="#a1a1fa" />
<rect x="132.10" y="70.59" width="7.42" height="1.87" fill="#fde5e5" />
<rect x="139.27" y="70.59" width="7.42" height="1.87" fill="#fdd9da" />
<rect x="146.43" y="70.59" width="7.42" height="1.87" fill="#fddbdc" />
<rect x="89.10" y="72.21" width="7.42" height="1.87" fill="#fa9b9e" />
<rect x="96.27" y="72.21" width="7.42" height="1.87" fill="#f1f1fe" />
<rect x="103.43" y="72.21" width="7.42" height="1.87" fill="#fddedf" />
<rect x="110.60" y="72.21" width="7.42" height="1.87" fill="#8888f9" />
<rect x="117.77" y="72.21" width="7.42" height="1.87" fill="#6060f7" />
<rect x="124.93" y="72.21" width="7.42" height="1.87" fill="#7070f8" />
<rect x="132.10" y="72.21" width="7.42" height="1.87" fill="#fcc8c9" />
<rect x="139.27" y="72.21" width="7.42" height="1.87" fill="#fefcfc" />
<rect x="146.43" y="72.21" width="7.42" height="1.87" fill="#fcc7c9" />
<rect x="89.10" y="73.83" width="7.42" height="1.87" fill="#fa9c9e" />
<rect x="96.27" y="73.83" width="7.42" height="1.87" fill="#fcc2c3" />
<rect x="103.43" y="73.83" width="7.42" height="1.87" fill="#fbafb1" />
<rect x="110.60" y="73.83" width="7.42" height="1.87" fill="#8585f9" />
<rect x="117.77" y="73.83" width="7.42" height="1.87" fill="#5353f7" />
<rect x="124.93" y="73.83" width="7.42" height="1.87" fill="#9393fa" />
<rect x="132.10" y="73.83" width="7.42" height="1.87" fill="#fccdcf" />
<rect x="139.27" y="73.83" width="7.42" height="1.87" fill="#fef8f8" />
<rect x="146.43" y="73.83" width="7.42" height="1.87" fill="#fde0e1" />
<rect x="89.10" y="75.46" width="7.42" height="1.87" fill="#fa9c9e" />
<rect x="96.27" y="75.46" width="7.42" height="1.87" fill="#feeaea" />
<rect x="103.43" y="75.46" width="7.42" height="1.87" fill="#fbabad" />
<rect x="110.60" y="75.46" width="7.42" height="1.87" fill="#c7c7fc" />
<rect x="117.77" y="75.46" width="7.42" height="1.87" fill="#7070f8" />
<rect x="124.93" y="75.46" width="7.42" height="1.87" fill="#9999fa" />
<rect x="132.10" y="75.46" width="7.42" height="1.87" fill="#fde2e2" />
<rect x="139.27" y="75.46" width="7.42" height="1.87" fill="#fbb2b3" />
<rect x="146.43" y="75.46" width="7.42" height="1.87" fill="#fdd2d3" />
<rect x="89.10" y="77.08" width="7.42" height="1.87" fill="#fa9799" />
<rect x="96.27" y="77.08" width="7.42" height="1.87" fill="#fde3e4" />
<rect x="103.43" y="77.08" width="7.42" height="1.87" fill="#fcc1c3" />
<rect x="110.60" y="77.08" width="7.42" height="1.87" fill="#8888f9" />
<rect x="117.77" y="77.08" width="7.42" height="1.87" fill="#4747f6" />
<rect x="124.93" y="77.08" width="7.42" height="1.87" fill="#c4c4fc" />
<rect x="132.10" y="77.08" width="7.42" height="1.87" fill="#fcbec0" />
<rect x="139.27" y="77.08" width="7.42" height="1.87" fill="#dcdcfd" />
<rect x="146.43" y="77.08" width="7.42" height="1.87" fill="#fcc4c5" />
<rect x="89.10" y="78.70" width="7.42" height="1.87" fill="#fbbabb" />
<rect x="96.27" y="78.70" width="7.42" height="1.87" fill="#fcbdbe" />
<rect x="103.43" y="78.70" width="7.42" height="1.87" fill="#fbb4b6" />
<rect x="110.60" y="78.70" width="7.42" height="1.87" fill="#5656f7" />
<rect x="117.77" y="78.70" width="7.42" height="1.87" fill="#7c7cf9" />
<rect x="124.93" y="78.70" width="7.42" height="1.87" fill="#c6c6fc" />
<rect x="132.10" y="78.70" width="7.42" height="1.87" fill="#fef0f0" />
<rect x="139.27" y="78.70" width="7.42" height="1.87" fill="#f5f5fe" />
<rect x="146.43" y="78.70" width="7.42" height="1.87" fill="#f2f2fe" />
<rect x="89.10" y="80.32" width="7.42" height="1.87" fill="#fddfdf" />
<rect x="96.27" y="80.32" width="7.42" height="1.87" fill="#fcc1c2" />
<rect x="103.43" y="80.32" width="7.42" height="1.87" fill="#f9888a" />
<rect x="110.60" y="80.32" width="7.42" height="1.87" fill="#9797fa" />
<rect x="117.77" y="80.32" width="7.42" height="1.87" fill="#8b8bf9" />
<rect x="124.93" y="80.32" width="7.42" height="1.87" fill="#dfdffd" />
<rect x="132.10" y="80.32" width="7.42" height="1.87" fill="#feeeef" />
<rect x="139.27" y="80.32" width="7.42" height="1.87" fill="#fefcfd" />
<rect x="146.43" y="80.32" width="7.42" height="1.87" fill="#fccbcc" />
<rect x="89.10" y="81.94" width="7.42" height="1.87" fill="#faa3a5" />
<rect x="96.27" y="81.94" width="7.42" height="1.87" fill="#feeeee" />
<rect x="103.43" y="81.94" width="7.42" height="1.87" fill="#fee8e9" />
<rect x="110.60" y="81.94" width="7.42" height="1.87" fill="#9292fa" />
<rect x="117.77" y="81.94" width="7.42" height="1.87" fill="#8b8bf9" />
<rect x="124.93" y="81.94" width="7.42" height="1.87" fill="#6868f8" />
<rect x="132.10" y="81.94" width="7.42" height="1.87" fill="#fde4e4" />
<rect x="139.27" y="81.94" width="7.42" height="1.87" fill="#fef8f8" />
<rect x="146.43" y="81.94" width="7.42" height="1.87" fill="#fccdce" />
<rect x="89.10" y="83.56" width="7.42" height="1.87" fill="#fbb9bb" />
<rect x="96.27" y="83.56" width="7.42" height="1.87" fill="#fccfd0" />
<rect x="103.43" y="83.56" width="7.42" height="1.87" fill="#fccdce" />
<rect x="110.60" y="83.56" width="7.42" height="1.87" fill="#acacfb" />
<rect x="117.77" y="83.56" width="7.42" height="1.87" fill="#b2b2fb" />
<rect x="124.93" y="83.56" width="7.42" height="1.87" fill="#8787f9" />
<rect x="132.10" y="83.56" width="7.42" height="1.87" fill="#fcc0c2" />
<rect x="139.27" y="83.56" width="7.42" height="1.87" fill="#fefefe" />
<rect x="146.43" y="83.56" width="7.42" height="1.87" fill="#fddadb" />
<rect x="89.10" y="85.18" width="7.42" height="1.87" fill="#fa9c9e" />
<rect x="96.27" y="85.18" width="7.42" height="1.87" fill="#fa999b" />
<rect x="103.43" y="85.18" width="7.42" height="1.87" fill="#fccecf" />
<rect x="110.60" y="85.18" width="7.42" height="1.87" fill="#8686f9" />
<rect x="117.77" y="85.18" width="7.42" height="1.87" fill="#8989f9" />
<rect x="124.93" y="85.18" width="7.42" height="1.87" fill="#6161f8" />
<rect x="132.10" y="85.18" width="7.42" height="1.87" fill="#fddcdd" />
<rect x="139.27" y="85.18" width="7.42" height="1.87" fill="#fefdfd" />
<rect x="146.43" y="85.18" width="7.42" height="1.87" fill="#fcd0d1" />
<rect x="89.10" y="86.81" width="7.42" height="1.87" fill="#fddcdc" />
<rect x="96.27" y="86.81" width="7.42" height="1.87" fill="#eeeefe" />
<rect x="103.43" y="86.81" width="7.42" height="1.87" fill="#fcbfc1" />
<rect x="110.60" y="86.81" width="7.42" height="1.87" fill="#9191fa" />
<rect x="117.77" y="86.81" width="7.42" height="1.87" fill="#7070f8" />
<rect x="124.93" y="86.81" width="7.42" height="1.87" fill="#b2b2fb" />
<rect x="132.10" y="86.81" width="7.42" height="1.87" fill="#fde6e7" />
<rect x="139.27" y="86.81" width="7.42" height="1.87" fill="#fefafa" />
<rect x="146.43" y="86.81" width="7.42" height="1.87" fill="#fccdce" />
<rect x="89.10" y="88.43" width="7.42" height="1.87" fill="#feeaeb" />
<rect x="96.27" y="88.43" width="7.42" height="1.87" fill="#fde3e3" />
<rect x="103.43" y="88.43" width="7.42" height="1.87" fill="#fcc1c3" />
<rect x="110.60" y="88.43" width="7.42" height="1.87" fill="#a5a5fb" />
<rect x="117.77" y="88.43" width="7.42" height="1.87" fill="#7d7df9" />
<rect x="124.93" y="88.43" width="7.42" height="1.87" fill="#9e9efa" />
<rect x="132.10" y="88.43" width="7.42" height="1.87" fill="#fef3f3" />
<rect x="139.27" y="88.43" width="7.42" height="1.87" fill="#fddcdc" />
<rect x="146.43" y="88.43" width="7.42" height="1.87" fill="#fba5a7" />
<rect x="89.10" y="90.05" width="7.42" height="1.87" fill="#fccdce" />
<rect x="96.27" y="90.05" width="7.42" height="1.87" fill="#f97c7f" />
<rect x="103.43" y="90.05" width="7.42" height="1.87" fill="#fdd6d7" />
<rect x="110.60" y="90.05" width="7.42" height="1.87" fill="#8989f9" />
<rect x="117.77" y="90.05" width="7.42" height="1.87" fill="#8989f9" />
<rect x="124.93" y="90.05" width="7.42" height="1.87" fill="#b6b6fb" />
<rect x="132.10" y="90.05" width="7.42" height="1.87" fill="#f7f7fe" />
<rect x="139.27" y="90.05" width="7.42" height="1.87" fill="#d0d0fc" />
<rect x="146.43" y="90.05" width="7.42" height="1.87" fill="#fcc8ca" />
<rect x="89.10" y="91.67" width="7.42" height="1.87" fill="#fa9b9d" />
<rect x="96.27" y="91.67" width="7.42" height="1.87" fill="#fbb7b8" />
<rect x="103.43" y="91.67" width="7.42" height="1.87" fill="#f8686b" />
<rect x="110.60" y="91.67" width="7.42" height="1.87" fill="#8f8ffa" />
<rect x="117.77" y="91.67" width="7.42" height="1.87" fill="#8b8bf9" />
<rect x="124.93" y="91.67" width="7.42" height="1.87" fill="#b3b3fb" />
<rect x="132.10" y="91.67" width="7.42" height="1.87" fill="#fcd0d1" />
<rect x="139.27" y="91.67" width="7.42" height="1.87" fill="#fbaeaf" />
<rect x="146.43" y="91.67" width="7.42" height="1.87" fill="#f6f6fe" />
<rect x="89.10" y="93.29" width="7.42" height="1.87" fill="#fcc2c3" />
<rect x="96.27" y="93.29" width="7.42" height="1.87" fill="#bdbdfc" />
<rect x="103.43" y="93.29" width="7.42" height="1.87" fill="#fba5a7" />
<rect x="110.60" y="93.29" width="7.42" height="1.87" fill="#7c7cf9" />
<rect x="117.77" y="93.29" width="7.42" height="1.87" fill="#a2a2fa" />
<rect x="124.93" y="93.29" width="7.42" height="1.87" fill="#dcdcfd" />
<rect x="132.10" y="93.29" width="7.42" height="1.87" fill="#fdddde" />
<rect x="139.27" y="93.29" width="7.42" height="1.87" fill="#feeeef" />
<rect x="146.43" y="93.29" width="7.42" height="1.87" fill="#feeeee" />
<rect x="89.10" y="94.91" width="7.42" height="1.87" fill="#fdd2d3" />
<rect x="96.27" y="94.91" width="7.42" height="1.87" fill="#fde1e2" />
<rect x="103.43" y="94.91" width="7.42" height="1.87" fill="#fbabad" />
<rect x="110.60" y="94.91" width="7.42" height="1.87" fill="#8a8af9" />
<rect x="117.77" y="94.91" width="7.42" height="1.87" fill="#8585f9" />
<rect x="124.93" y="94.91" width="7.42" height="1.87" fill="#8e8ef9" />
<rect x="132.10" y="94.91" width="7.42" height="1.87" fill="#fcbebf" />
<rect x="139.27" y="94.91" width="7.42" height="1.87" fill="#fdd5d6" />
<rect x="146.43" y="94.91" width="7.42" height="1.87" fill="#fde2e2" />
<rect x="89.10" y="96.53" width="7.42" height="1.87" fill="#fa9fa1" />
<rect x="96.27" y="96.53" width="7.42" height="1.87" fill="#fcd1d2" />
<rect x="103.43" y="96.53" width="7.42" height="1.87" fill="#fde8e8" />
<rect x="110.60" y="96.53" width="7.42" height="1.87" fill="#b9b9fb" />
<rect x="117.77" y="96.53" width="7.42" height="1.87" fill="#9292fa" />
<rect x="124.93" y="96.53" width="7.42" height="1.87" fill="#7373f8" />
<rect x="132.10" y="96.53" width="7.42" height="1.87" fill="#fbb8ba" />
<rect x="139.27" y="96.53" width="7.42" height="1.87" fill="#fddadb" />
<rect x="146.43" y="96.53" width="7.42" height="1.87" fill="#ebebfe" />
<rect x="89.10" y="98.15" width="7.42" height="1.87" fill="#f97f82" />
<rect x="96.27" y="98.15" width="7.42" height="1.87" fill="#fcc1c2" />
<rect x="103.43" y="98.15" width="7.42" height="1.87" fill="#faa3a5" />
<rect x="110.60" y="98.15" width="7.42" height="1.87" fill="#8f8ffa" />
<rect x="117.77" y="98.15" width="7.42" height="1.87" fill="#7e7ef9" />
<rect x="124.93" y="98.15" width="7.42" height="1.87" fill="#5f5ff7" />
<rect x="132.10" y="98.15" width="7.42" height="1.87" fill="#fcbcbd" />
<rect x="139.27" y="98.15" width="7.42" height="1.87" fill="#fde5e5" />
<rect x="146.43" y="98.15" width="7.42" height="1.87" fill="#fde6e7" />
<rect x="89.10" y="99.78" width="7.42" height="1.87" fill="#fbaaab" />
<rect x="96.27" y="99.78" width="7.42" height="1.87" fill="#fcc9ca" />
<rect x="103.43" y="99.78" width="7.42" height="1.87" fill="#fbaaac" />
<rect x="110.60" y="99.78" width="7.42" height="1.87" fill="#7c7cf9" />
<rect x="117.77" y="99.78" width="7.42" height="1.87" fill="#8282f9" />
<rect x="124.93" y="99.78" width="7.42" height="1.87" fill="#4b4bf7" />
<rect x="132.10" y="99.78" width="7.42" height="1.87" fill="#feebeb" />
<rect x="139.27" y="99.78" width="7.42" height="1.87" fill="#fccfd0" />
<rect x="146.43" y="99.78" width="7.42" height="1.87" fill="#fbb0b1" />
<rect x="89.10" y="101.40" width="7.42" height="1.87" fill="#fcc2c3" />
<rect x="96.27" y="101.40" width="7.42" height="1.87" fill="#fcd0d1" />
<rect x="103.43" y="101.40" width="7.42" height="1.87" fill="#f98b8e" />
<rect x="110.60" y="101.40" width="7.42" height="1.87" fill="#7d7df9" />
<rect x="117.77" y="101.40" width="7.42" height="1.87" fill="#9c9cfa" />
<rect x="124.93" y="101.40" width="7.42" height="1.87" fill="#ccccfc" />
<rect x="132.10" y="101.40" width="7.42" height="1.87" fill="#fddbdc" />
<rect x="139.27" y="101.40" width="7.42" height="1.87" fill="#fcbcbe" />
<rect x="146.43" y="101.40" width="7.42" height="1.87" fill="#fef5f5" />
<rect x="89.10" y="103.02" width="7.42" height="1.87" fill="#fbaeb0" />
<rect x="96.27" y="103.02" width="7.42" height="1.87" fill="#fcced0" />
<rect x="103.43" y="103.02" width="7.42" height="1.87" fill="#fcbdbe" />
<rect x="110.60" y="103.02" width="7.42" height="1.87" fill="#afaffb" />
<rect x="117.77" y="103.02" width="7.42" height="1.87" fill="#d3d3fd" />
<rect x="124.93" y="103.02" width="7.42" height="1.87" fill="#7d7df9" />
<rect x="132.10" y="103.02" width="7.42" height="1.87" fill="#fef0f0" />
<rect x="139.27" y="103.02" width="7.42" height="1.87" fill="#fdd5d6" />
<rect x="146.43" y="103.02" width="7.42" height="1.87" fill="#fdfdfe" />
<rect x="89.10" y="104.64" width="7.42" height="1.87" fill="#fba5a7" />
<rect x="96.27" y="104.64" width="7.42" height="1.87" fill="#fbb9ba" />
<rect x="103.43" y="104.64" width="7.42" height="1.87" fill="#fccacb" />
<rect x="110.60" y="104.64" width="7.42" height="1.87" fill="#9a9afa" />
<rect x="117.77" y="104.64" width="7.42" height="1.87" fill="#4e4ef7" />
<rect x="124.93" y="104.64" width="7.42" height="1.87" fill="#adadfb" />
<rect x="132.10" y="104.64" width="7.42" height="1.87" fill="#ececfe" />
<rect x="139.27" y="104.64" width="7.42" height="1.87" fill="#fefdfd" />
<rect x="146.43" y="104.64" width="7.42" height="1.87" fill="#fef0f0" />
<rect x="89.10" y="106.26" width="7.42" height="1.87" fill="#d5d5fd" />
<rect x="96.27" y="106.26" width="7.42" height="1.87" fill="#e9e9fe" />
<rect x="103.43" y="106.26" width="7.42" height="1.87" fill="#dadafd" />
<rect x="110.60" y="106.26" width="7.42" height="1.87" fill="#f98b8d" />
<rect x="117.77" y="106.26" width="7.42" height="1.87" fill="#f98184" />
<rect x="124.93" y="106.26" width="7.42" height="1.87" fill="#f86a6d" />
<rect x="132.10" y="106.26" width="7.42" height="1.87" fill="#bbbbfc" />
<rect x="139.27" y="106.26" width="7.42" height="1.87" fill="#d8d8fd" />
<rect x="146.43" y="106.26" width="7.42" height="1.87" fill="#fef6f7" />
<rect x="89.10" y="107.88" width="7.42" height="1.87" fill="#ebebfe" />
<rect x="96.27" y="107.88" width="7.42" height="1.87" fill="#a1a1fa" />
<rect x="103.43" y="107.88" width="7.42" height="1.87" fill="#fdd2d3" />
<rect x="110.60" y="107.88" width="7.42" height="1.87" fill="#f53337" />
<rect x="117.77" y="107.88" width="7.42" height="1.87" fill="#fdd7d8" />
<rect x="124.93" y="107.88" width="7.42" height="1.87" fill="#faa0a2" />
<rect x="132.10" y="107.88" width="7.42" height="1.87" fill="#c9c9fc" />
<rect x="139.27" y="107.88" width="7.42" height="1.87" fill="#ececfe" />
<rect x="146.43" y="107.88" width="7.42" height="1.87" fill="#f3f3fe" />
<rect x="89.10" y="109.50" width="7.42" height="1.87" fill="#d9d9fd" />
<rect x="96.27" y="109.50" width="7.42" height="1.87" fill="#a8a8fb" />
<rect x="103.43" y="109.50" width="7.42" height="1.87" fill="#dbdbfd" />
<rect x="110.60" y="109.50" width="7.42" height="1.87" fill="#f75a5e" />
<rect x="117.77" y="109.50" width="7.42" height="1.87" fill="#fbb8ba" />
<rect x="124.93" y="109.50" width="7.42" height="1.87" fill="#fcc2c3" />
<rect x="132.10" y="109.50" width="7.42" height="1.87" fill="#babafb" />
<rect x="139.27" y="109.50" width="7.42" height="1.87" fill="#8a8af9" />
<rect x="146.43" y="109.50" width="7.42" height="1.87" fill="#d4d4fd" />
<rect x="89.10" y="111.13" width="7.42" height="1.87" fill="#d4d4fd" />
<rect x="96.27" y="111.13" width="7.42" height="1.87" fill="#dbdbfd" />
<rect x="103.43" y="111.13" width="7.42" height="1.87" fill="#bfbffc" />
<rect x="110.60" y="111.13" width="7.42" height="1.87" fill="#fa9b9d" />
<rect x="117.77" y="111.13" width="7.42" height="1.87" fill="#faa1a3" />
<rect x="124.93" y="111.13" width="7.42" height="1.87" fill="#faa1a3" />
<rect x="132.10" y="111.13" width="7.42" height="1.87" fill="#a5a5fb" />
<rect x="139.27" y="111.13" width="7.42" height="1.87" fill="#ccccfc" />
<rect x="146.43" y="111.13" width="7.42" height="1.87" fill="#f6f6fe" />
<rect x="89.10" y="112.75" width="7.42" height="1.87" fill="#fef3f3" />
<rect x="96.27" y="112.75" width="7.42" height="1.87" fill="#fef8f8" />
<rect x="103.43" y="112.75" width="7.42" height="1.87" fill="#bdbdfc" />
<rect x="110.60" y="112.75" width="7.42" height="1.87" fill="#f98b8e" />
<rect x="117.77" y="112.75" width="7.42" height="1.87" fill="#fde7e8" />
<rect x="124.93" y="112.75" width="7.42" height="1.87" fill="#f75f62" />
<rect x="132.10" y="112.75" width="7.42" height="1.87" fill="#a3a3fa" />
<rect x="139.27" y="112.75" width="7.42" height="1.87" fill="#cbcbfc" />
<rect x="146.43" y="112.75" width="7.42" height="1.87" fill="#eeeefe" />
<rect x="89.10" y="114.37" width="7.42" height="1.87" fill="#b5b5fb" />
<rect x="96.27" y="114.37" width="7.42" height="1.87" fill="#dcdcfd" />
<rect x="103.43" y="114.37" width="7.42" height="1.87" fill="#d6d6fd" />
<rect x="110.60" y="114.37" width="7.42" height="1.87" fill="#fbbbbc" />
<rect x="117.77" y="114.37" width="7.42" height="1.87" fill="#f98a8c" />
<rect x="124.93" y="114.37" width="7.42" height="1.87" fill="#f8777a" />
<rect x="132.10" y="114.37" width="7.42" height="1.87" fill="#7c7cf9" />
<rect x="139.27" y="114.37" width="7.42" height="1.87" fill="#e7e7fd" />
<rect x="146.43" y="114.37" width="7.42" height="1.87" fill="#e4e4fd" />
<rect x="89.10" y="115.99" width="7.42" height="1.87" fill="#f2f2fe" />
<rect x="96.27" y="115.99" width="7.42" height="1.87" fill="#dbdbfd" />
<rect x="103.43" y="115.99" width="7.42" height="1.87" fill="#fefafa" />
<rect x="110.60" y="115.99" width="7.42" height="1.87" fill="#f98587" />
<rect x="117.77" y="115.99" width="7.42" height="1.87" fill="#f87679" />
<rect x="124.93" y="115.99" width="7.42" height="1.87" fill="#fbadaf" />
<rect x="132.10" y="115.99" width="7.42" height="1.87" fill="#d4d4fd" />
<rect x="139.27" y="115.99" width="7.42" height="1.87" fill="#b0b0fb" />
<rect x="146.43" y="115.99" width="7.42" height="1.87" fill="#d9d9fd" />
<rect x="89.10" y="117.61" width="7.42" height="1.87" fill="#fde0e1" />
<rect x="96.27" y="117.61" width="7.42" height="1.87" fill="#dbdbfd" />
<rect x="103.43" y="117.61" width="7.42" height="1.87" fill="#d2d2fd" />
<rect x="110.60" y="117.61" width="7.42" height="1.87" fill="#faa4a6" />
<rect x="117.77" y="117.61" width="7.42" height="1.87" fill="#fbaeb0" />
<rect x="124.93" y="117.61" width="7.42" height="1.87" fill="#fa989b" />
<rect x="132.10" y="117.61" width="7.42" height="1.87" fill="#dbdbfd" />
<rect x="139.27" y="117.61" width="7.42" height="1.87" fill="#dadafd" />
<rect x="146.43" y="117.61" width="7.42" height="1.87" fill="#eeeefe" />
<rect x="89.10" y="119.23" width="7.42" height="1.87" fill="#e1e1fd" />
<rect x="96.27" y="119.23" width="7.42" height="1.87" fill="#fafafe" />
<rect x="103.43" y="119.23" width="7.42" height="1.87" fill="#cacafc" />
<rect x="110.60" y="119.23" width="7.42" height="1.87" fill="#fa9092" />
<rect x="117.77" y="119.23" width="7.42" height="1.87" fill="#f87679" />
<rect x="124.93" y="119.23" width="7.42" height="1.87" fill="#fa9d9f" />
<rect x="132.10" y="119.23" width="7.42" height="1.87" fill="#b2b2fb" />
<rect x="139.27" y="119.23" width="7.42" height="1.87" fill="#b8b8fb" />
<rect x="146.43" y="119.23" width="7.42" height="1.87" fill="#d4d4fd" />
<rect x="89.10" y="120.85" width="7.42" height="1.87" fill="#f7f7fe" />
<rect x="96.27" y="120.85" width="7.42" height="1.87" fill="#d8d8fd" />
<rect x="103.43" y="120.85" width="7.42" height="1.87" fill="#aeaefb" />
<rect x="110.60" y="120.85" width="7.42" height="1.87" fill="#f86f72" />
<rect x="117.77" y="120.85" width="7.42" height="1.87" fill="#f98e90" />
<rect x="124.93" y="120.85" width="7.42" height="1.87" fill="#fcc1c2" />
<rect x="132.10" y="120.85" width="7.42" height="1.87" fill="#d5d5fd" />
<rect x="139.27" y="120.85" width="7.42" height="1.87" fill="#c2c2fc" />
<rect x="146.43" y="120.85" width="7.42" height="1.87" fill="#d1d1fc" />
<rect x="89.10" y="122.47" width="7.42" height="1.87" fill="#fdfdfe" />
<rect x="96.27" y="122.47" width="7.42" height="1.87" fill="#f8f8fe" />
<rect x="103.43" y="122.47" width="7.42" height="1.87" fill="#c0c0fc" />
<rect x="110.60" y="122.47" width="7.42" height="1.87" fill="#f86e72" />
<rect x="117.77" y="122.47" width="7.42" height="1.87" fill="#fbb1b3" />
<rect x="124.93" y="122.47" width="7.42" height="1.87" fill="#f75155" />
<rect x="132.10" y="122.47" width="7.42" height="1.87" fill="#aaaafb" />
<rect x="139.27" y="122.47" width="7.42" height="1.87" fill="#f4f4fe" />
<rect x="146.43" y="122.47" width="7.42" height="1.87" fill="#c7c7fc" />
<rect x="89.10" y="124.10" width="7.42" height="1.87" fill="#fefefe" />
<rect x="96.27" y="124.10" width="7.42" height="1.87" fill="#fde6e7" />
<rect x="103.43" y="124.10" width="7.42" height="1.87" fill="#8181f9" />
<rect x="110.60" y="124.10" width="7.42" height="1.87" fill="#f98c8e" />
<rect x="117.77" y="124.10" width="7.42" height="1.87" fill="#f98385" />
<rect x="124.93" y="124.10" width="7.42" height="1.87" fill="#faa2a4" />
<rect x="132.10" y="124.10" width="7.42" height="1.87" fill="#a4a4fa" />
<rect x="139.27" y="124.10" width="7.42" height="1.87" fill="#fee8e9" />
<rect x="146.43" y="124.10" width="7.42" height="1.87" fill="#dfdffd" />
<rect x="89.10" y="125.72" width="7.42" height="1.87" fill="#ababfb" />
<rect x="96.27" y="125.72" width="7.42" height="1.87" fill="#e9e9fe" />
<rect x="103.43" y="125.72" width="7.42" height="1.87" fill="#9d9dfa" />
<rect x="110.60" y="125.72" width="7.42" height="1.87" fill="#f7565a" />
<rect x="117.77" y="125.72" width="7.42" height="1.87" fill="#fba7a9" />
<rect x="124.93" y="125.72" width="7.42" height="1.87" fill="#fa9a9c" />
<rect x="132.10" y="125.72" width="7.42" height="1.87" fill="#e6e6fd" />
<rect x="139.27" y="125.72" width="7.42" height="1.87" fill="#d0d0fc" />
<rect x="146.43" y="125.72" width="7.42" height="1.87" fill="#aeaefb" />
<rect x="89.10" y="127.34" width="7.42" height="1.87" fill="#5a5af7" />
<rect x="96.27" y="127.34" width="7.42" height="1.87" fill="#c7c7fc" />
<rect x="103.43" y="127.34" width="7.42" height="1.87" fill="#c9c9fc" />
<rect x="110.60" y="127.34" width="7.42" height="1.87" fill="#fbaaab" />
<rect x="117.77" y="127.34" width="7.42" height="1.87" fill="#f86669" />
<rect x="124.93" y="127.34" width="7.42" height="1.87" fill="#f98386" />
<rect x="132.10" y="127.34" width="7.42" height="1.87" fill="#fde3e4" />
<rect x="139.27" y="127.34" width="7.42" height="1.87" fill="#adadfb" />
<rect x="146.43" y="127.34" width="7.42" height="1.87" fill="#ebebfe" />
<rect x="89.10" y="128.96" width="7.42" height="1.87" fill="#b2b2fb" />
<rect x="96.27" y="128.96" width="7.42" height="1.87" fill="#b8b8fb" />
<rect x="103.43" y="128.96" width="7.42" height="1.87" fill="#cdcdfc" />
<rect x="110.60" y="128.96" width="7.42" height="1.87" fill="#fde1e2" />
<rect x="117.77" y="128.96" width="7.42" height="1.87" fill="#f97d80" />
<rect x="124.93" y="128.96" width="7.42" height="1.87" fill="#f98386" />
<rect x="132.10" y="128.96" width="7.42" height="1.87" fill="#faa3a5" />
<rect x="139.27" y="128.96" width="7.42" height="1.87" fill="#d9d9fd" />
<rect x="146.43" y="128.96" width="7.42" height="1.87" fill="#eaeafe" />
<rect x="89.10" y="130.58" width="7.42" height="1.87" fill="#9595fa" />
<rect x="96.27" y="130.58" width="7.42" height="1.87" fill="#bdbdfc" />
<rect x="103.43" y="130.58" width="7.42" height="1.87" fill="#a1a1fa" />
<rect x="110.60" y="130.58" width="7.42" height="1.87" fill="#f8676b" />
<rect x="117.77" y="130.58" width="7.42" height="1.87" fill="#fa9da0" />
<rect x="124.93" y="130.58" width="7.42" height="1.87" fill="#f98b8d" />
<rect x="132.10" y="130.58" width="7.42" height="1.87" fill="#f2f2fe" />
<rect x="139.27" y="130.58" width="7.42" height="1.87" fill="#fefefe" />
<rect x="146.43" y="130.58" width="7.42" height="1.87" fill="#dedefd" />
<rect x="89.10" y="132.20" width="7.42" height="1.87" fill="#5e5ef7" />
<rect x="96.27" y="132.20" width="7.42" height="1.87" fill="#c4c4fc" />
<rect x="103.43" y="132.20" width="7.42" height="1.87" fill="#babafb" />
<rect x="110.60" y="132.20" width="7.42" height="1.87" fill="#faa1a3" />
<rect x="117.77" y="132.20" width="7.42" height="1.87" fill="#f97c7f" />
<rect x="124.93" y="132.20" width="7.42" height="1.87" fill="#f87275" />
<rect x="132.10" y="132.20" width="7.42" height="1.87" fill="#e3e3fd" />
<rect x="139.27" y="132.20" width="7.42" height="1.87" fill="#f5f5fe" />
<rect x="146.43" y="132.20" width="7.42" height="1.87" fill="#fef5f6" />
<rect x="89.10" y="133.82" width="7.42" height="1.87" fill="#a5a5fb" />
<rect x="96.27" y="133.82" width="7.42" height="1.87" fill="#9494fa" />
<rect x="103.43" y="133.82" width="7.42" height="1.87" fill="#6969f8" />
<rect x="110.60" y="133.82" width="7.42" height="1.87" fill="#f86467" />
<rect x="117.77" y="133.82" width="7.42" height="1.87" fill="#f9787b" />
<rect x="124.93" y="133.82" width="7.42" height="1.87" fill="#fa9396" />
<rect x="132.10" y="133.82" width="7.42" height="1.87" fill="#fbfbfe" />
<rect x="139.27" y="133.82" width="7.42" height="1.87" fill="#fefbfb" />
<rect x="146.43" y="133.82" width="7.42" height="1.87" fill="#e7e7fd" />
<rect x="89.10" y="135.45" width="7.42" height="1.87" fill="#7171f8" />
<rect x="96.27" y="135.45" width="7.42" height="1.87" fill="#8686f9" />
<rect x="103.43" y="135.45" width="7.42" height="1.87" fill="#9c9cfa" />
<rect x="110.60" y="135.45" width="7.42" height="1.87" fill="#faa3a5" />
<rect x="117.77" y="135.45" width="7.42" height="1.87" fill="#fbaaac" />
<rect x="124.93" y="135.45" width="7.42" height="1.87" fill="#f97e81" />
<rect x="132.10" y="135.45" width="7.42" height="1.87" fill="#d8d8fd" />
<rect x="139.27" y="135.45" width="7.42" height="1.87" fill="#feeeee" />
<rect x="146.43" y="135.45" width="7.42" height="1.87" fill="#d3d3fd" />
<rect x="89.10" y="137.07" width="7.42" height="1.87" fill="#a0a0fa" />
<rect x="96.27" y="137.07" width="7.42" height="1.87" fill="#cdcdfc" />
<rect x="103.43" y="137.07" width="7.42" height="1.87" fill="#b7b7fb" />
<rect x="110.60" y="137.07" width="7.42" height="1.87" fill="#fba7a9" />
<rect x="117.77" y="137.07" width="7.42" height="1.87" fill="#f98184" />
<rect x="124.93" y="137.07" width="7.42" height="1.87" fill="#fa8f91" />
<rect x="132.10" y="137.07" width="7.42" height="1.87" fill="#cacafc" />
<rect x="139.27" y="137.07" width="7.42" height="1.87" fill="#e4e4fd" />
<rect x="146.43" y="137.07" width="7.42" height="1.87" fill="#fbfbfe" />
<rect x="89.10" y="138.69" width="7.42" height="1.87" fill="#8484f9" />
<rect x="96.27" y="138.69" width="7.42" height="1.87" fill="#a2a2fa" />
<rect x="103.43" y="138.69" width="7.42" height="1.87" fill="#c9c9fc" />
<rect x="110.60" y="138.69" width="7.42" height="1.87" fill="#f87477" />
<rect x="117.77" y="138.69" width="7.42" height="1.87" fill="#f86468" />
<rect x="124.93" y="138.69" width="7.42" height="1.87" fill="#f98083" />
<rect x="132.10" y="138.69" width="7.42" height="1.87" fill="#fafafe" />
<rect x="139.27" y="138.69" width="7.42" height="1.87" fill="#f8f8fe" />
<rect x="146.43" y="138.69" width="7.42" height="1.87" fill="#ececfe" />
<rect x="89.10" y="140.31" width="7.42" height="1.87" fill="#8989f9" />
<rect x="96.27" y="140.31" width="7.42" height="1.87" fill="#9999fa" />
<rect x="103.43" y="140.31" width="7.42" height="1.87" fill="#7676f8" />
<rect x="110.60" y="140.31" width="7.42" height="1.87" fill="#fa999b" />
<rect x="117.77" y="140.31" width="7.42" height="1.87" fill="#f98486" />
<rect x="124.93" y="140.31" width="7.42" height="1.87" fill="#fbb4b6" />
<rect x="132.10" y="140.31" width="7.42" height="1.87" fill="#fefafa" />
<rect x="139.27" y="140.31" width="7.42" height="1.87" fill="#fef3f3" />
<rect x="146.43" y="140.31" width="7.42" height="1.87" fill="#f0f0fe" />
<rect x="89.10" y="141.93" width="7.42" height="1.87" fill="#dadafd" />
<rect x="96.27" y="141.93" width="7.42" height="1.87" fill="#4747f6" />
<rect x="103.43" y="141.93" width="7.42" height="1.87" fill="#a9a9fb" />
<rect x="110.60" y="141.93" width="7.42" height="1.87" fill="#fccccd" />
<rect x="117.77" y="141.93" width="7.42" height="1.87" fill="#f86265" />
<rect x="124.93" y="141.93" width="7.42" height="1.87" fill="#f63a3e" />
<rect x="132.10" y="141.93" width="7.42" height="1.87" fill="#b0b0fb" />
<rect x="139.27" y="141.93" width="7.42" height="1.87" fill="#fdfdfe" />
<rect x="146.43" y="141.93" width="7.42" height="1.87" fill="#fef6f6" />
<rect x="89.10" y="143.55" width="7.42" height="1.87" fill="#8989f9" />
<rect x="96.27" y="143.55" width="7.42" height="1.87" fill="#b1b1fb" />
<rect x="103.43" y="143.55" width="7.42" height="1.87" fill="#6464f8" />
<rect x="110.60" y="143.55" width="7.42" height="1.87" fill="#f87174" />
<rect x="117.77" y="143.55" width="7.42" height="1.87" fill="#f87679" />
<rect x="124.93" y="143.55" width="7.42" height="1.87" fill="#fa9395" />
<rect x="132.10" y="143.55" width="7.42" height="1.87" fill="#f0f0fe" />
<rect x="139.27" y="143.55" width="7.42" height="1.87" fill="#feefef" />
<rect x="146.43" y="143.55" width="7.42" height="1.87" fill="#e5e5fd" />
<rect x="89.10" y="145.17" width="7.42" height="1.87" fill="#9b9bfa" />
<rect x="96.27" y="145.17" width="7.42" height="1.87" fill="#8e8ef9" />
<rect x="103.43" y="145.17" width="7.42" height="1.87" fill="#6464f8" />
<rect x="110.60" y="145.17" width="7.42" height="1.87" fill="#fa8f92" />
<rect x="117.77" y="145.17" width="7.42" height="1.87" fill="#f97c7f" />
<rect x="124.93" y="145.17" width="7.42" height="1.87" fill="#f97a7d" />
<rect x="132.10" y="145.17" width="7.42" height="1.87" fill="#e7e7fd" />
<rect x="139.27" y="145.17" width="7.42" height="1.87" fill="#f8f8fe" />
<rect x="146.43" y="145.17" width="7.42" height="1.87" fill="#fef3f3" />
<rect x="89.10" y="146.79" width="7.42" height="1.87" fill="#9999fa" />
<rect x="96.27" y="146.79" width="7.42" height="1.87" fill="#c9c9fc" />
<rect x="103.43" y="146.79" width="7.42" height="1.87" fill="#f3f3fe" />
<rect x="110.60" y="146.79" width="7.42" height="1.87" fill="#fbadae" />
<rect x="117.77" y="146.79" width="7.42" height="1.87" fill="#fcc4c5" />
<rect x="124.93" y="146.79" width="7.42" height="1.87" fill="#f8777a" />
<rect x="132.10" y="146.79" width="7.42" height="1.87" fill="#fcc5c7" />
<rect x="139.27" y="146.79" width="7.42" height="1.87" fill="#fde5e6" />
<rect x="146.43" y="146.79" width="7.42" height="1.87" fill="#feecec" />
<rect x="89.10" y="148.42" width="7.42" height="1.87" fill="#7f7ff9" />
<rect x="96.27" y="148.42" width="7.42" height="1.87" fill="#8787f9" />
<rect x="103.43" y="148.42" width="7.42" height="1.87" fill="#cecefc" />
<rect x="110.60" y="148.42" width="7.42" height="1.87" fill="#fbadaf" />
<rect x="117.77" y="148.42" width="7.42" height="1.87" fill="#fcc0c1" />
<rect x="124.93" y="148.42" width="7.42" height="1.87" fill="#fbb5b7" />
<rect x="132.10" y="148.42" width="7.42" height="1.87" fill="#fba5a7" />
<rect x="139.27" y="148.42" width="7.42" height="1.87" fill="#fcc3c5" />
<rect x="146.43" y="148.42" width="7.42" height="1.87" fill="#dedefd" />
<rect x="89.10" y="150.04" width="7.42" height="1.87" fill="#7b7bf9" />
<rect x="96.27" y="150.04" width="7.42" height="1.87" fill="#a7a7fb" />
<rect x="103.43" y="150.04" width="7.42" height="1.87" fill="#9696fa" />
<rect x="110.60" y="150.04" width="7.42" height="1.87" fill="#f86265" />
<rect x="117.77" y="150.04" width="7.42" height="1.87" fill="#f98588" />
<rect x="124.93" y="150.04" width="7.42" height="1.87" fill="#fbb8ba" />
<rect x="132.10" y="150.04" width="7.42" height="1.87" fill="#fccdce" />
<rect x="139.27" y="150.04" width="7.42" height="1.87" fill="#e5e5fd" />
<rect x="146.43" y="150.04" width="7.42" height="1.87" fill="#fdfdfe" />
<rect x="89.10" y="151.66" width="7.42" height="1.87" fill="#9393fa" />
<rect x="96.27" y="151.66" width="7.42" height="1.87" fill="#9494fa" />
<rect x="103.43" y="151.66" width="7.42" height="1.87" fill="#bbbbfb" />
<rect x="110.60" y="151.66" width="7.42" height="1.87" fill="#fba5a7" />
<rect x="117.77" y="151.66" width="7.42" height="1.87" fill="#fcc1c2" />
<rect x="124.93" y="151.66" width="7.42" height="1.87" fill="#fddedf" />
<rect x="132.10" y="151.66" width="7.42" height="1.87" fill="#d9d9fd" />
<rect x="139.27" y="151.66" width="7.42" height="1.87" fill="#dfdffd" />
<rect x="146.43" y="151.66" width="7.42" height="1.87" fill="#f5f5fe" />
<rect x="89.10" y="153.28" width="7.42" height="1.87" fill="#9595fa" />
<rect x="96.27" y="153.28" width="7.42" height="1.87" fill="#b2b2fb" />
<rect x="103.43" y="153.28" width="7.42" height="1.87" fill="#b4b4fb" />
<rect x="110.60" y="153.28" width="7.42" height="1.87" fill="#fba9ab" />
<rect x="117.77" y="153.28" width="7.42" height="1.87" fill="#fa9b9d" />
<rect x="124.93" y="153.28" width="7.42" height="1.87" fill="#fddbdc" />
<rect x="132.10" y="153.28" width="7.42" height="1.87" fill="#fefefe" />
<rect x="139.27" y="153.28" width="7.42" height="1.87" fill="#fef4f4" />
<rect x="146.43" y="153.28" width="7.42" height="1.87" fill="#fef6f6" />
<rect x="89.10" y="154.90" width="7.42" height="1.87" fill="#9090fa" />
<rect x="96.27" y="154.90" width="7.42" height="1.87" fill="#9999fa" />
<rect x="103.43" y="154.90" width="7.42" height="1.87" fill="#cfcffc" />
<rect x="110.60" y="154.90" width="7.42" height="1.87" fill="#f98d90" />
<rect x="117.77" y="154.90" width="7.42" height="1.87" fill="#f86a6d" />
<rect x="124.93" y="154.90" width="7.42" height="1.87" fill="#f98083" />
<rect x="132.10" y="154.90" width="7.42" height="1.87" fill="#fef2f2" />
<rect x="139.27" y="154.90" width="7.42" height="1.87" fill="#fdd8d9" />
<rect x="146.43" y="154.90" width="7.42" height="1.87" fill="#e2e2fd" />
<rect x="89.10" y="156.52" width="7.42" height="1.87" fill="#8888f9" />
<rect x="96.27" y="156.52" width="7.42" height="1.87" fill="#8484f9" />
<rect x="103.43" y="156.52" width="7.42" height="1.87" fill="#9595fa" />
<rect x="110.60" y="156.52" width="7.42" height="1.87" fill="#f7595d" />
<rect x="117.77" y="156.52" width="7.42" height="1.87" fill="#f6474b" />
<rect x="124.93" y="156.52" width="7.42" height="1.87" fill="#fa9395" />
<rect x="132.10" y="156.52" width="7.42" height="1.87" fill="#fde6e6" />
<rect x="139.27" y="156.52" width="7.42" height="1.87" fill="#fddcdd" />
<rect x="146.43" y="156.52" width="7.42" height="1.87" fill="#feeced" />
<rect x="89.10" y="158.14" width="7.42" height="1.87" fill="#bcbcfc" />
<rect x="96.27" y="158.14" width="7.42" height="1.87" fill="#7474f8" />
<rect x="103.43" y="158.14" width="7.42" height="1.87" fill="#9a9afa" />
<rect x="110.60" y="158.14" width="7.42" height="1.87" fill="#f97f82" />
<rect x="117.77" y="158.14" width="7.42" height="1.87" fill="#f75256" />
<rect x="124.93" y="158.14" width="7.42" height="1.87" fill="#fa9093" />
<rect x="132.10" y="158.14" width="7.42" height="1.87" fill="#e7e7fd" />
<rect x="139.27" y="158.14" width="7.42" height="1.87" fill="#ededfe" />
<rect x="146.43" y="158.14" width="7.42" height="1.87" fill="#dfdffd" />
<rect x="89.10" y="159.77" width="7.42" height="1.87" fill="#7777f8" />
<rect x="96.27" y="159.77" width="7.42" height="1.87" fill="#d2d2fd" />
<rect x="103.43" y="159.77" width="7.42" height="1.87" fill="#9b9bfa" />
<rect x="110.60" y="159.77" width="7.42" height="1.87" fill="#f98d90" />
<rect x="117.77" y="159.77" width="7.42" height="1.87" fill="#f63a3e" />
<rect x="124.93" y="159.77" width="7.42" height="1.87" fill="#f86c6f" />
<rect x="132.10" y="159.77" width="7.42" height="1.87" fill="#feeeee" />
<rect x="139.27" y="159.77" width="7.42" height="1.87" fill="#e4e4fd" />
<rect x="146.43" y="159.77" width="7.42" height="1.87" fill="#fefafa" />
<rect x="89.10" y="161.39" width="7.42" height="1.87" fill="#cacafc" />
<rect x="96.27" y="161.39" width="7.42" height="1.87" fill="#b4b4fb" />
<rect x="103.43" y="161.39" width="7.42" height="1.87" fill="#dadafd" />
<rect x="110.60" y="161.39" width="7.42" height="1.87" fill="#f98b8d" />
<rect x="117.77" y="161.39" width="7.42" height="1.87" fill="#f87174" />
<rect x="124.93" y="161.39" width="7.42" height="1.87" fill="#fa9a9d" />
<rect x="132.10" y="161.39" width="7.42" height="1.87" fill="#feeaeb" />
<rect x="139.27" y="161.39" width="7.42" height="1.87" fill="#fdd8d9" />
<rect x="146.43" y="161.39" width="7.42" height="1.87" fill="#c5c5fc" />
<rect x="89.10" y="163.01" width="7.42" height="1.87" fill="#9292fa" />
<rect x="96.27" y="163.01" width="7.42" height="1.87" fill="#a7a7fb" />
<rect x="103.43" y="163.01" width="7.42" height="1.87" fill="#9c9cfa" />
<rect x="110.60" y="163.01" width="7.42" height="1.87" fill="#fa989b" />
<rect x="117.77" y="163.01" width="7.42" height="1.87" fill="#f8686c" />
<rect x="124.93" y="163.01" width="7.42" height="1.87" fill="#f75054" />
<rect x="132.10" y="163.01" width="7.42" height="1.87" fill="#fde4e4" />
<rect x="139.27" y="163.01" width="7.42" height="1.87" fill="#fef9f9" />
<rect x="146.43" y="163.01" width="7.42" height="1.87" fill="#c1c1fc" />
<rect x="89.10" y="164.63" width="7.42" height="1.87" fill="#d5d5fd" />
<rect x="96.27" y="164.63" width="7.42" height="1.87" fill="#a1a1fa" />
<rect x="103.43" y="164.63" width="7.42" height="1.87" fill="#afaffb" />
<rect x="110.60" y="164.63" width="7.42" height="1.87" fill="#fbb4b5" />
<rect x="117.77" y="164.63" width="7.42" height="1.87" fill="#f98587" />
<rect x="124.93" y="164.63" width="7.42" height="1.87" fill="#fbb9ba" />
<rect x="132.10" y="164.63" width="7.42" height="1.87" fill="#fef6f7" />
<rect x="139.27" y="164.63" width="7.42" height="1.87" fill="#fef4f5" />
<rect x="146.43" y="164.63" width="7.42" height="1.87" fill="#f7f7fe" />
<rect x="89.10" y="166.25" width="7.42" height="1.87" fill="#9d9dfa" />
<rect x="96.27" y="166.25" width="7.42" height="1.87" fill="#8282f9" />
<rect x="103.43" y="166.25" width="7.42" height="1.87" fill="#e0e0fd" />
<rect x="110.60" y="166.25" width="7.42" height="1.87" fill="#faa4a6" />
<rect x="117.77" y="166.25" width="7.42" height="1.87" fill="#fcc0c2" />
<rect x="124.93" y="166.25" width="7.42" height="1.87" fill="#fa9a9c" />
<rect x="132.10" y="166.25" width="7.42" height="1.87" fill="#eaeafe" />
<rect x="139.27" y="166.25" width="7.42" height="1.87" fill="#d7d7fd" />
<rect x="146.43" y="166.25" width="7.42" height="1.87" fill="#eaeafe" />
<rect x="89.10" y="167.87" width="7.42" height="1.87" fill="#9d9dfa" />
<rect x="96.27" y="167.87" width="7.42" height="1.87" fill="#7777f8" />
<rect x="103.43" y="167.87" width="7.42" height="1.87" fill="#ababfb" />
<rect x="110.60" y="167.87" width="7.42" height="1.87" fill="#f75e61" />
<rect x="117.77" y="167.87" width="7.42" height="1.87" fill="#f86c6f" />
<rect x="124.93" y="167.87" width="7.42" height="1.87" fill="#fa999b" />
<rect x="132.10" y="167.87" width="7.42" height="1.87" fill="#fef5f5" />
<rect x="139.27" y="167.87" width="7.42" height="1.87" fill="#f5f5fe" />
<rect x="146.43" y="167.87" width="7.42" height="1.87" fill="#f4f4fe" />
<rect x="89.10" y="169.49" width="7.42" height="1.87" fill="#acacfb" />
<rect x="96.27" y="169.49" width="7.42" height="1.87" fill="#9c9cfa" />
<rect x="103.43" y="169.49" width="7.42" height="1.87" fill="#5f5ff7" />
<rect x="110.60" y="169.49" width="7.42" height="1.87" fill="#fa8f91" />
<rect x="117.77" y="169.49" width="7.42" height="1.87" fill="#faa1a3" />
<rect x="124.93" y="169.49" width="7.42" height="1.87" fill="#f97e81" />
<rect x="132.10" y="169.49" width="7.42" height="1.87" fill="#f0f0fe" />
<rect x="139.27" y="169.49" width="7.42" height="1.87" fill="#fefefe" />
<rect x="146.43" y="169.49" width="7.42" height="1.87" fill="#fcbebf" />
<rect x="89.10" y="171.11" width="7.42" height="1.87" fill="#7070f8" />
<rect x="96.27" y="171.11" width="7.42" height="1.87" fill="#7979f9" />
<rect x="103.43" y="171.11" width="7.42" height="1.87" fill="#8080f9" />
<rect x="110.60" y="171.11" width="7.42" height="1.87" fill="#fddfe0" />
<rect x="117.77" y="171.11" width="7.42" height="1.87" fill="#fcc2c3" />
<rect x="124.93" y="171.11" width="7.42" height="1.87" fill="#f9878a" />
<rect x="132.10" y="171.11" width="7.42" height="1.87" fill="#efeffe" />
<rect x="139.27" y="171.11" width="7.42" height="1.87" fill="#babafb" />
<rect x="146.43" y="171.11" width="7.42" height="1.87" fill="#c3c3fc" />
<rect x="89.10" y="172.74" width="7.42" height="1.87" fill="#a8a8fb" />
<rect x="96.27" y="172.74" width="7.42" height="1.87" fill="#8585f9" />
<rect x="103.43" y="172.74" width="7.42" height="1.87" fill="#a3a3fa" />
<rect x="110.60" y="172.74" width="7.42" height="1.87" fill="#f98386" />
<rect x="117.77" y="172.74" width="7.42" height="1.87" fill="#f75559" />
<rect x="124.93" y="172.74" width="7.42" height="1.87" fill="#f75256" />
<rect x="132.10" y="172.74" width="7.42" height="1.87" fill="#fdd6d7" />
<rect x="139.27" y="172.74" width="7.42" height="1.87" fill="#fefefe" />
<rect x="146.43" y="172.74" width="7.42" height="1.87" fill="#fcfcfe" />
<rect x="89.10" y="174.36" width="7.42" height="1.87" fill="#d0d0fc" />
<rect x="96.27" y="174.36" width="7.42" height="1.87" fill="#cfcffc" />
<rect x="103.43" y="174.36" width="7.42" height="1.87" fill="#a5a5fb" />
<rect x="110.60" y="174.36" width="7.42" height="1.87" fill="#f97f81" />
<rect x="117.77" y="174.36" width="7.42" height="1.87" fill="#f9797c" />
<rect x="124.93" y="174.36" width="7.42" height="1.87" fill="#fa9294" />
<rect x="132.10" y="174.36" width="7.42" height="1.87" fill="#f3f3fe" />
<rect x="139.27" y="174.36" width="7.42" height="1.87" fill="#ccccfc" />
<rect x="146.43" y="174.36" width="7.42" height="1.87" fill="#e3e3fd" />
<rect x="89.10" y="175.98" width="7.42" height="1.87" fill="#6060f7" />
<rect x="96.27" y="175.98" width="7.42" height="1.87" fill="#c8c8fc" />
<rect x="103.43" y="175.98" width="7.42" height="1.87" fill="#c2c2fc" />
<rect x="110.60" y="175.98" width="7.42" height="1.87" fill="#fbb7b8" />
<rect x="117.77" y="175.98" width="7.42" height="1.87" fill="#f75457" />
<rect x="124.93" y="175.98" width="7.42" height="1.87" fill="#f87679" />
<rect x="132.10" y="175.98" width="7.42" height="1.87" fill="#c4c4fc" />
<rect x="139.27" y="175.98" width="7.42" height="1.87" fill="#fcc6c7" />
<rect x="146.43" y="175.98" width="7.42" height="1.87" fill="#feeced" />
<line x1="82.50" y1="75.40" x2="82.50" y2="129.10" stroke="#b4b4b4" stroke-width="0.8" />
<line x1="82.10" y1="75.40" x2="89.10" y2="75.40" stroke="#b4b4b4" stroke-width="0.8" />
<line x1="82.10" y1="129.10" x2="89.10" y2="129.10" stroke="#b4b4b4" stroke-width="0.8" />
<rect x="155.5" y="57.8" width="3.4" height="50.2" fill="url(#hmgrad)"/>
<text x="160.90" y="66.90" font-size="6.6" text-anchor="start" font-weight="normal" fill="#000" stroke="#000" stroke-width="0.15" >2</text>
<text x="160.90" y="76.30" font-size="6.6" text-anchor="start" font-weight="normal" fill="#000" stroke="#000" stroke-width="0.15" >1</text>
<text x="160.90" y="85.50" font-size="6.6" text-anchor="start" font-weight="normal" fill="#000" stroke="#000" stroke-width="0.15" >0</text>
<text x="160.60" y="94.90" font-size="6.6" text-anchor="start" font-weight="normal" fill="#000" stroke="#000" stroke-width="0.15" textLength="6.40" lengthAdjust="spacingAndGlyphs" >−1</text>
<text x="160.60" y="104.10" font-size="6.6" text-anchor="start" font-weight="normal" fill="#000" stroke="#000" stroke-width="0.15" textLength="6.40" lengthAdjust="spacingAndGlyphs" >−2</text>
<text transform="translate(90.40,46.60) rotate(-45)" x="0" y="0" font-size="7.9" text-anchor="start" font-weight="normal" fill="#000" stroke="#000" stroke-width="0.15">Wild-type</text>
<text transform="translate(114.60,46.00) rotate(-45)" x="0" y="0" font-size="7.9" text-anchor="start" font-weight="normal" fill="#000" stroke="#000" stroke-width="0.15">LCK/R26<tspan font-size="5.0" dy="-3.8">Tax</tspan></text>
<text transform="translate(136.40,41.40) rotate(-45)" x="0" y="0" font-size="7.9" text-anchor="start" font-weight="normal" fill="#000" stroke="#000" stroke-width="0.15">ORP4L<tspan font-size="5.0" dy="-3.8">cko;</tspan></text>
<text transform="translate(143.00,48.00) rotate(-45)" x="0" y="0" font-size="7.9" text-anchor="start" font-weight="normal" fill="#000" stroke="#000" stroke-width="0.15">LCK/R26<tspan font-size="5.0" dy="-3.8">Tax</tspan></text>
<text x="181.30" y="16.60" font-size="12.2" text-anchor="start" font-weight="bold" fill="#000" >C</text>
<g style="isolation:isolate">
<circle cx="222.5" cy="122.2" r="41.3" fill="#e8a2ae" />
<circle cx="259.2" cy="122.0" r="38.3" fill="#a6c0d4" style="mix-blend-mode:multiply"/>
<circle cx="243.7" cy="76.4" r="23.5" fill="#b0e2b4" style="mix-blend-mode:multiply"/>
</g>
<text x="243.60" y="48.50" font-size="10.0" text-anchor="middle" font-weight="bold" fill="#000" textLength="16.20" lengthAdjust="spacingAndGlyphs" >ATL</text>
<text x="244.20" y="77.30" font-size="9.1" text-anchor="middle" font-weight="normal" fill="#1a1a1a" stroke="#1a1a1a" stroke-width="0.15" >344</text>
<text x="231.20" y="90.60" font-size="9.1" text-anchor="middle" font-weight="normal" fill="#1a1a1a" stroke="#1a1a1a" stroke-width="0.15" >60</text>
<text x="256.40" y="92.40" font-size="9.1" text-anchor="middle" font-weight="normal" fill="#1a1a1a" stroke="#1a1a1a" stroke-width="0.15" >47</text>
<text x="243.30" y="97.70" font-size="9.1" text-anchor="middle" font-weight="normal" fill="#1a1a1a" stroke="#1a1a1a" stroke-width="0.15" >51</text>
<text x="203.60" y="124.80" font-size="9.1" text-anchor="middle" font-weight="normal" fill="#1a1a1a" stroke="#1a1a1a" stroke-width="0.15" >859</text>
<text x="243.90" y="124.80" font-size="9.1" text-anchor="middle" font-weight="normal" fill="#1a1a1a" stroke="#1a1a1a" stroke-width="0.15" >575</text>
<text x="281.60" y="124.80" font-size="9.1" text-anchor="middle" font-weight="normal" fill="#1a1a1a" stroke="#1a1a1a" stroke-width="0.15" >653</text>
<text x="216.50" y="176.90" font-size="10.0" text-anchor="middle" font-weight="bold" fill="#000" textLength="29.60" lengthAdjust="spacingAndGlyphs" >ORP4L</text>
<text x="241.20" y="176.90" font-size="10.0" text-anchor="start" font-weight="bold" fill="#000" textLength="38.00" lengthAdjust="spacingAndGlyphs" >LCK/R26</text>
<text x="279.80" y="172.40" font-size="6.6" text-anchor="start" font-weight="normal" fill="#000" stroke="#000" stroke-width="0.15" textLength="11.00" lengthAdjust="spacingAndGlyphs" >Tax</text>
<text x="310.60" y="16.40" font-size="12.2" text-anchor="start" font-weight="bold" fill="#000" >D</text>
<text x="365.60" y="16.90" font-size="10" text-anchor="start" font-weight="bold" fill="#000" textLength="143.00" lengthAdjust="spacingAndGlyphs" >KEGG enrichment scatter plot</text>
<text x="406.40" y="32.60" font-size="7.3" text-anchor="end" font-weight="normal" fill="#222" stroke="#222" stroke-width="0.15" textLength="31.30" lengthAdjust="spacingAndGlyphs" >Cell cycle</text>
<line x1="408.90" y1="30.40" x2="411.80" y2="30.40" stroke="#222" stroke-width="0.9" />
<text x="406.40" y="43.90" font-size="7.3" text-anchor="end" font-weight="normal" fill="#222" stroke="#222" stroke-width="0.15" textLength="75.30" lengthAdjust="spacingAndGlyphs" >Pyrimidine metabolism</text>
<line x1="408.90" y1="41.70" x2="411.80" y2="41.70" stroke="#222" stroke-width="0.9" />
<text x="406.40" y="55.70" font-size="7.3" text-anchor="end" font-weight="normal" fill="#222" stroke="#222" stroke-width="0.15" textLength="74.00" lengthAdjust="spacingAndGlyphs" >p53 signaling pathway</text>
<line x1="408.90" y1="53.50" x2="411.80" y2="53.50" stroke="#222" stroke-width="0.9" />
<text x="406.40" y="63.70" font-size="7.3" text-anchor="end" font-weight="normal" fill="#222" stroke="#222" stroke-width="0.15" textLength="81.40" lengthAdjust="spacingAndGlyphs" >Drug metabolism - other</text>
<text x="406.40" y="70.30" font-size="7.3" text-anchor="end" font-weight="normal" fill="#222" stroke="#222" stroke-width="0.15" textLength="28.60" lengthAdjust="spacingAndGlyphs" >enzymes</text>
<line x1="408.90" y1="64.80" x2="411.80" y2="64.80" stroke="#222" stroke-width="0.9" />
<text x="406.40" y="78.40" font-size="7.3" text-anchor="end" font-weight="normal" fill="#222" stroke="#222" stroke-width="0.15" textLength="51.00" lengthAdjust="spacingAndGlyphs" >Oocyte meiosis</text>
<line x1="408.90" y1="76.20" x2="411.80" y2="76.20" stroke="#222" stroke-width="0.9" />
<text x="406.40" y="87.00" font-size="7.3" text-anchor="end" font-weight="normal" fill="#222" stroke="#222" stroke-width="0.15" textLength="74.20" lengthAdjust="spacingAndGlyphs" >Human T-cell leukemia</text>
<text x="406.40" y="93.60" font-size="7.3" text-anchor="end" font-weight="normal" fill="#222" stroke="#222" stroke-width="0.15" textLength="51.80" lengthAdjust="spacingAndGlyphs" >virus 1 infection</text>
<line x1="408.90" y1="88.10" x2="411.80" y2="88.10" stroke="#222" stroke-width="0.9" />
<text x="406.40" y="101.90" font-size="7.3" text-anchor="end" font-weight="normal" fill="#222" stroke="#222" stroke-width="0.15" textLength="82.50" lengthAdjust="spacingAndGlyphs" >MAPK signaling pathway</text>
<line x1="408.90" y1="99.70" x2="411.80" y2="99.70" stroke="#222" stroke-width="0.9" />
<text x="406.40" y="113.50" font-size="7.3" text-anchor="end" font-weight="normal" fill="#222" stroke="#222" stroke-width="0.15" textLength="77.40" lengthAdjust="spacingAndGlyphs" >ErbB signaling pathway</text>
<line x1="408.90" y1="111.30" x2="411.80" y2="111.30" stroke="#222" stroke-width="0.9" />
<text x="406.40" y="121.20" font-size="7.3" text-anchor="end" font-weight="normal" fill="#222" stroke="#222" stroke-width="0.15" textLength="78.90" lengthAdjust="spacingAndGlyphs" >Progesterone-mediated</text>
<text x="406.40" y="127.80" font-size="7.3" text-anchor="end" font-weight="normal" fill="#222" stroke="#222" stroke-width="0.15" textLength="60.30" lengthAdjust="spacingAndGlyphs" >oocyte maturation</text>
<line x1="408.90" y1="122.30" x2="411.80" y2="122.30" stroke="#222" stroke-width="0.9" />
<text x="406.40" y="136.60" font-size="7.3" text-anchor="end" font-weight="normal" fill="#222" stroke="#222" stroke-width="0.15" textLength="79.50" lengthAdjust="spacingAndGlyphs" >FoxO signaling pathway</text>
<line x1="408.90" y1="134.40" x2="411.80" y2="134.40" stroke="#222" stroke-width="0.9" />
<text x="406.40" y="148.20" font-size="7.3" text-anchor="end" font-weight="normal" fill="#222" stroke="#222" stroke-width="0.15" textLength="66.20" lengthAdjust="spacingAndGlyphs" >Metabolic pathways</text>
<line x1="408.90" y1="146.00" x2="411.80" y2="146.00" stroke="#222" stroke-width="0.9" />
<text x="406.40" y="159.40" font-size="7.3" text-anchor="end" font-weight="normal" fill="#222" stroke="#222" stroke-width="0.15" textLength="65.10" lengthAdjust="spacingAndGlyphs" >Cellular senescence</text>
<line x1="408.90" y1="157.20" x2="411.80" y2="157.20" stroke="#222" stroke-width="0.9" />
<line x1="411.80" y1="25.80" x2="411.80" y2="170.50" stroke="#222" stroke-width="1.1" />
<line x1="411.30" y1="170.00" x2="471.50" y2="170.00" stroke="#222" stroke-width="1.1" />
<line x1="417.20" y1="170.00" x2="417.20" y2="172.80" stroke="#222" stroke-width="0.9" />
<text x="416.20" y="181.60" font-size="7.0" text-anchor="middle" font-weight="normal" fill="#222" stroke="#222" stroke-width="0.15" textLength="14.20" lengthAdjust="spacingAndGlyphs" >0.00</text>
<line x1="433.80" y1="170.00" x2="433.80" y2="172.80" stroke="#222" stroke-width="0.9" />
<text x="433.80" y="181.60" font-size="7.0" text-anchor="middle" font-weight="normal" fill="#222" stroke="#222" stroke-width="0.15" textLength="14.20" lengthAdjust="spacingAndGlyphs" >0.02</text>
<line x1="450.50" y1="170.00" x2="450.50" y2="172.80" stroke="#222" stroke-width="0.9" />
<text x="450.50" y="181.60" font-size="7.0" text-anchor="middle" font-weight="normal" fill="#222" stroke="#222" stroke-width="0.15" textLength="14.20" lengthAdjust="spacingAndGlyphs" >0.04</text>
<line x1="467.20" y1="170.00" x2="467.20" y2="172.80" stroke="#222" stroke-width="0.9" />
<text x="467.20" y="181.60" font-size="7.0" text-anchor="middle" font-weight="normal" fill="#222" stroke="#222" stroke-width="0.15" textLength="14.20" lengthAdjust="spacingAndGlyphs" >0.06</text>
<text x="442.00" y="195.40" font-size="8.6" text-anchor="middle" font-weight="normal" fill="#222" stroke="#222" stroke-width="0.15" textLength="33.60" lengthAdjust="spacingAndGlyphs" >Rich factor</text>
<text transform="translate(317.60,92.10) rotate(-90)" x="0" y="0" font-size="8.2" text-anchor="middle" font-weight="normal" fill="#222" stroke="#222" stroke-width="0.15" textLength="49.00" lengthAdjust="spacingAndGlyphs">Pathway name</text>
<circle cx="451.1" cy="30.5" r="4.15" fill="#c8102e"/>
<circle cx="461.4" cy="41.1" r="2.35" fill="#c8102e"/>
<circle cx="451.9" cy="53.5" r="2.35" fill="#c8102e"/>
<circle cx="448.7" cy="64.5" r="2.35" fill="#c8102e"/>
<circle cx="436.5" cy="76.3" r="2.35" fill="#c41e3a"/>
<circle cx="428.8" cy="88.1" r="2.35" fill="#e0788a"/>
<circle cx="425.4" cy="99.6" r="2.4" fill="#f5b40f"/>
<circle cx="436.5" cy="110.7" r="1.55" fill="#f5bc14"/>
<circle cx="434.2" cy="122.5" r="1.55" fill="#f0b020"/>
<circle cx="430.0" cy="134.2" r="1.45" fill="#4a88c0"/>
<circle cx="420.1" cy="145.3" r="4.15" fill="#1b4f8a"/>
<circle cx="427.7" cy="157.3" r="1.55" fill="#1b4f8a"/>
<text x="465.80" y="55.40" font-size="7.2" text-anchor="start" font-weight="bold" fill="#222" textLength="46.60" lengthAdjust="spacingAndGlyphs" >Gene number</text>
<circle cx="472.3" cy="68.7" r="1.4" fill="#111"/>
<text x="479.80" y="71.50" font-size="7.8" text-anchor="start" font-weight="normal" fill="#222" stroke="#222" stroke-width="0.15" >2</text>
<circle cx="472.3" cy="75.7" r="2.2" fill="#111"/>
<text x="479.80" y="78.50" font-size="7.8" text-anchor="start" font-weight="normal" fill="#222" stroke="#222" stroke-width="0.15" >3</text>
<circle cx="472.3" cy="83.1" r="3.0" fill="#111"/>
<text x="479.80" y="85.90" font-size="7.8" text-anchor="start" font-weight="normal" fill="#222" stroke="#222" stroke-width="0.15" >4</text>
<circle cx="472.3" cy="91.8" r="4.2" fill="#111"/>
<text x="479.80" y="94.60" font-size="7.8" text-anchor="start" font-weight="normal" fill="#222" stroke="#222" stroke-width="0.15" >5</text>
<text x="467.00" y="110.80" font-size="7.2" text-anchor="start" font-weight="normal" fill="#222" stroke="#222" stroke-width="0.15" textLength="24.00" lengthAdjust="spacingAndGlyphs" >p Value</text>
<rect x="467.6" y="118.8" width="6.7" height="33.2" fill="url(#pgrad)"/>
<text x="476.80" y="121.70" font-size="7.0" text-anchor="start" font-weight="normal" fill="#222" stroke="#222" stroke-width="0.15" textLength="22.80" lengthAdjust="spacingAndGlyphs" >0.0389</text>
<text x="476.80" y="137.90" font-size="7.0" text-anchor="start" font-weight="normal" fill="#222" stroke="#222" stroke-width="0.15" textLength="22.80" lengthAdjust="spacingAndGlyphs" >0.0195</text>
<text x="476.80" y="154.00" font-size="7.0" text-anchor="start" font-weight="normal" fill="#222" stroke="#222" stroke-width="0.15" textLength="22.80" lengthAdjust="spacingAndGlyphs" >0.0000</text>
<text x="7.40" y="202.90" font-size="12.2" text-anchor="start" font-weight="bold" fill="#000" >E</text>
<line x1="22.50" y1="221.90" x2="80.20" y2="234.60" stroke="#b8b8b8" stroke-width="0.7" />
<line x1="80.20" y1="234.60" x2="145.50" y2="258.50" stroke="#b8b8b8" stroke-width="0.7" />
<line x1="145.50" y1="258.50" x2="110.00" y2="292.40" stroke="#b8b8b8" stroke-width="0.7" />
<line x1="145.50" y1="258.50" x2="146.20" y2="313.80" stroke="#b8b8b8" stroke-width="0.7" />
<line x1="145.50" y1="258.50" x2="199.00" y2="270.00" stroke="#b8b8b8" stroke-width="0.7" />
<line x1="145.50" y1="258.50" x2="182.00" y2="291.80" stroke="#b8b8b8" stroke-width="0.7" />
<line x1="145.50" y1="258.50" x2="204.00" y2="297.10" stroke="#b8b8b8" stroke-width="0.7" />
<line x1="145.50" y1="258.50" x2="219.70" y2="262.40" stroke="#b8b8b8" stroke-width="0.7" />
<line x1="145.50" y1="258.50" x2="187.50" y2="311.80" stroke="#b8b8b8" stroke-width="0.7" />
<line x1="145.50" y1="258.50" x2="220.00" y2="283.80" stroke="#b8b8b8" stroke-width="0.7" />
<line x1="110.00" y1="292.40" x2="182.00" y2="291.80" stroke="#b8b8b8" stroke-width="0.7" />
<line x1="146.20" y1="313.80" x2="187.50" y2="311.80" stroke="#b8b8b8" stroke-width="0.7" />
<line x1="146.20" y1="313.80" x2="182.00" y2="291.80" stroke="#b8b8b8" stroke-width="0.7" />
<line x1="22.30" y1="339.20" x2="21.90" y2="396.90" stroke="#b8b8b8" stroke-width="0.7" />
<line x1="180.80" y1="400.80" x2="207.10" y2="337.20" stroke="#b8b8b8" stroke-width="0.7" />
<line x1="178.00" y1="350.30" x2="187.50" y2="311.80" stroke="#b8b8b8" stroke-width="0.7" />
<line x1="178.00" y1="350.30" x2="207.10" y2="337.20" stroke="#b8b8b8" stroke-width="0.7" />
<line x1="178.00" y1="350.30" x2="235.70" y2="343.60" stroke="#b8b8b8" stroke-width="0.7" />
<line x1="178.00" y1="350.30" x2="182.00" y2="291.80" stroke="#b8b8b8" stroke-width="0.7" />
<line x1="178.00" y1="350.30" x2="204.00" y2="297.10" stroke="#b8b8b8" stroke-width="0.7" />
<line x1="178.00" y1="350.30" x2="216.30" y2="314.70" stroke="#b8b8b8" stroke-width="0.7" />
<line x1="178.00" y1="350.30" x2="235.70" y2="320.50" stroke="#b8b8b8" stroke-width="0.7" />
<line x1="239.40" y1="217.90" x2="219.70" y2="262.40" stroke="#b8b8b8" stroke-width="0.7" />
<line x1="239.40" y1="217.90" x2="242.90" y2="262.90" stroke="#b8b8b8" stroke-width="0.7" />
<line x1="239.40" y1="217.90" x2="199.00" y2="270.00" stroke="#b8b8b8" stroke-width="0.7" />
<line x1="239.40" y1="217.90" x2="220.00" y2="283.80" stroke="#b8b8b8" stroke-width="0.7" />
<line x1="239.40" y1="217.90" x2="257.50" y2="274.50" stroke="#b8b8b8" stroke-width="0.7" />
<line x1="239.40" y1="217.90" x2="240.30" y2="293.20" stroke="#b8b8b8" stroke-width="0.7" />
<line x1="239.40" y1="217.90" x2="265.00" y2="294.50" stroke="#b8b8b8" stroke-width="0.7" />
<line x1="239.40" y1="217.90" x2="204.00" y2="297.10" stroke="#b8b8b8" stroke-width="0.7" />
<line x1="239.40" y1="217.90" x2="182.00" y2="291.80" stroke="#b8b8b8" stroke-width="0.7" />
<line x1="196.80" y1="242.80" x2="219.70" y2="262.40" stroke="#b8b8b8" stroke-width="0.7" />
<line x1="196.80" y1="242.80" x2="199.00" y2="270.00" stroke="#b8b8b8" stroke-width="0.7" />
<line x1="196.80" y1="242.80" x2="220.00" y2="283.80" stroke="#b8b8b8" stroke-width="0.7" />
<line x1="196.80" y1="242.80" x2="242.90" y2="262.90" stroke="#b8b8b8" stroke-width="0.7" />
<line x1="196.80" y1="242.80" x2="182.00" y2="291.80" stroke="#b8b8b8" stroke-width="0.7" />
<line x1="196.80" y1="242.80" x2="204.00" y2="297.10" stroke="#b8b8b8" stroke-width="0.7" />
<line x1="196.80" y1="242.80" x2="240.30" y2="293.20" stroke="#b8b8b8" stroke-width="0.7" />
<line x1="196.80" y1="242.80" x2="257.50" y2="274.50" stroke="#b8b8b8" stroke-width="0.7" />
<line x1="297.60" y1="302.00" x2="257.50" y2="274.50" stroke="#b8b8b8" stroke-width="0.7" />
<line x1="297.60" y1="302.00" x2="265.00" y2="294.50" stroke="#b8b8b8" stroke-width="0.7" />
<line x1="297.60" y1="302.00" x2="252.40" y2="306.90" stroke="#b8b8b8" stroke-width="0.7" />
<line x1="297.60" y1="302.00" x2="260.20" y2="327.10" stroke="#b8b8b8" stroke-width="0.7" />
<line x1="297.60" y1="302.00" x2="240.30" y2="293.20" stroke="#b8b8b8" stroke-width="0.7" />
<line x1="297.60" y1="302.00" x2="235.70" y2="320.50" stroke="#b8b8b8" stroke-width="0.7" />
<line x1="297.60" y1="302.00" x2="242.90" y2="262.90" stroke="#b8b8b8" stroke-width="0.7" />
<line x1="297.60" y1="302.00" x2="235.70" y2="343.60" stroke="#b8b8b8" stroke-width="0.7" />
<line x1="297.60" y1="302.00" x2="216.30" y2="314.70" stroke="#b8b8b8" stroke-width="0.7" />
<line x1="297.60" y1="302.00" x2="219.70" y2="262.40" stroke="#b8b8b8" stroke-width="0.7" />
<line x1="297.60" y1="302.00" x2="220.00" y2="283.80" stroke="#b8b8b8" stroke-width="0.7" />
<line x1="297.60" y1="302.00" x2="207.10" y2="337.20" stroke="#b8b8b8" stroke-width="0.7" />
<line x1="219.70" y1="262.40" x2="242.90" y2="262.90" stroke="#f41414" stroke-width="0.95" />
<line x1="219.70" y1="262.40" x2="199.00" y2="270.00" stroke="#f41414" stroke-width="0.95" />
<line x1="219.70" y1="262.40" x2="257.50" y2="274.50" stroke="#f41414" stroke-width="0.95" />
<line x1="219.70" y1="262.40" x2="220.00" y2="283.80" stroke="#f41414" stroke-width="0.95" />
<line x1="219.70" y1="262.40" x2="182.00" y2="291.80" stroke="#f41414" stroke-width="0.95" />
<line x1="219.70" y1="262.40" x2="240.30" y2="293.20" stroke="#f41414" stroke-width="0.95" />
<line x1="219.70" y1="262.40" x2="265.00" y2="294.50" stroke="#f41414" stroke-width="0.95" />
<line x1="219.70" y1="262.40" x2="204.00" y2="297.10" stroke="#f41414" stroke-width="0.95" />
<line x1="219.70" y1="262.40" x2="252.40" y2="306.90" stroke="#f41414" stroke-width="0.95" />
<line x1="219.70" y1="262.40" x2="187.50" y2="311.80" stroke="#f41414" stroke-width="0.95" />
<line x1="219.70" y1="262.40" x2="216.30" y2="314.70" stroke="#f41414" stroke-width="0.95" />
<line x1="219.70" y1="262.40" x2="235.70" y2="320.50" stroke="#f41414" stroke-width="0.95" />
<line x1="219.70" y1="262.40" x2="260.20" y2="327.10" stroke="#f41414" stroke-width="0.95" />
<line x1="219.70" y1="262.40" x2="207.10" y2="337.20" stroke="#f41414" stroke-width="0.95" />
<line x1="219.70" y1="262.40" x2="235.70" y2="343.60" stroke="#f41414" stroke-width="0.95" />
<line x1="242.90" y1="262.90" x2="199.00" y2="270.00" stroke="#f41414" stroke-width="0.95" />
<line x1="242.90" y1="262.90" x2="257.50" y2="274.50" stroke="#f41414" stroke-width="0.95" />
<line x1="242.90" y1="262.90" x2="220.00" y2="283.80" stroke="#f41414" stroke-width="0.95" />
<line x1="242.90" y1="262.90" x2="182.00" y2="291.80" stroke="#f41414" stroke-width="0.95" />
<line x1="242.90" y1="262.90" x2="240.30" y2="293.20" stroke="#f41414" stroke-width="0.95" />
<line x1="242.90" y1="262.90" x2="265.00" y2="294.50" stroke="#f41414" stroke-width="0.95" />
<line x1="242.90" y1="262.90" x2="204.00" y2="297.10" stroke="#f41414" stroke-width="0.95" />
<line x1="242.90" y1="262.90" x2="252.40" y2="306.90" stroke="#f41414" stroke-width="0.95" />
<line x1="242.90" y1="262.90" x2="187.50" y2="311.80" stroke="#f41414" stroke-width="0.95" />
<line x1="242.90" y1="262.90" x2="216.30" y2="314.70" stroke="#f41414" stroke-width="0.95" />
<line x1="242.90" y1="262.90" x2="235.70" y2="320.50" stroke="#f41414" stroke-width="0.95" />
<line x1="242.90" y1="262.90" x2="260.20" y2="327.10" stroke="#f41414" stroke-width="0.95" />
<line x1="242.90" y1="262.90" x2="207.10" y2="337.20" stroke="#f41414" stroke-width="0.95" />
<line x1="242.90" y1="262.90" x2="235.70" y2="343.60" stroke="#f41414" stroke-width="0.95" />
<line x1="199.00" y1="270.00" x2="257.50" y2="274.50" stroke="#f41414" stroke-width="0.95" />
<line x1="199.00" y1="270.00" x2="220.00" y2="283.80" stroke="#f41414" stroke-width="0.95" />
<line x1="199.00" y1="270.00" x2="182.00" y2="291.80" stroke="#f41414" stroke-width="0.95" />
<line x1="199.00" y1="270.00" x2="240.30" y2="293.20" stroke="#f41414" stroke-width="0.95" />
<line x1="199.00" y1="270.00" x2="265.00" y2="294.50" stroke="#f41414" stroke-width="0.95" />
<line x1="199.00" y1="270.00" x2="204.00" y2="297.10" stroke="#f41414" stroke-width="0.95" />
<line x1="199.00" y1="270.00" x2="252.40" y2="306.90" stroke="#f41414" stroke-width="0.95" />
<line x1="199.00" y1="270.00" x2="187.50" y2="311.80" stroke="#f41414" stroke-width="0.95" />
<line x1="199.00" y1="270.00" x2="216.30" y2="314.70" stroke="#f41414" stroke-width="0.95" />
<line x1="199.00" y1="270.00" x2="235.70" y2="320.50" stroke="#f41414" stroke-width="0.95" />
<line x1="199.00" y1="270.00" x2="260.20" y2="327.10" stroke="#f41414" stroke-width="0.95" />
<line x1="199.00" y1="270.00" x2="207.10" y2="337.20" stroke="#f41414" stroke-width="0.95" />
<line x1="199.00" y1="270.00" x2="235.70" y2="343.60" stroke="#f41414" stroke-width="0.95" />
<line x1="257.50" y1="274.50" x2="220.00" y2="283.80" stroke="#f41414" stroke-width="0.95" />
<line x1="257.50" y1="274.50" x2="182.00" y2="291.80" stroke="#f41414" stroke-width="0.95" />
<line x1="257.50" y1="274.50" x2="240.30" y2="293.20" stroke="#f41414" stroke-width="0.95" />
<line x1="257.50" y1="274.50" x2="265.00" y2="294.50" stroke="#f41414" stroke-width="0.95" />
<line x1="257.50" y1="274.50" x2="204.00" y2="297.10" stroke="#f41414" stroke-width="0.95" />
<line x1="257.50" y1="274.50" x2="252.40" y2="306.90" stroke="#f41414" stroke-width="0.95" />
<line x1="257.50" y1="274.50" x2="187.50" y2="311.80" stroke="#f41414" stroke-width="0.95" />
<line x1="257.50" y1="274.50" x2="216.30" y2="314.70" stroke="#f41414" stroke-width="0.95" />
<line x1="257.50" y1="274.50" x2="235.70" y2="320.50" stroke="#f41414" stroke-width="0.95" />
<line x1="257.50" y1="274.50" x2="260.20" y2="327.10" stroke="#f41414" stroke-width="0.95" />
<line x1="257.50" y1="274.50" x2="207.10" y2="337.20" stroke="#f41414" stroke-width="0.95" />
<line x1="257.50" y1="274.50" x2="235.70" y2="343.60" stroke="#f41414" stroke-width="0.95" />
<line x1="220.00" y1="283.80" x2="182.00" y2="291.80" stroke="#f41414" stroke-width="0.95" />
<line x1="220.00" y1="283.80" x2="240.30" y2="293.20" stroke="#f41414" stroke-width="0.95" />
<line x1="220.00" y1="283.80" x2="265.00" y2="294.50" stroke="#f41414" stroke-width="0.95" />
<line x1="220.00" y1="283.80" x2="204.00" y2="297.10" stroke="#f41414" stroke-width="0.95" />
<line x1="220.00" y1="283.80" x2="252.40" y2="306.90" stroke="#f41414" stroke-width="0.95" />
<line x1="220.00" y1="283.80" x2="187.50" y2="311.80" stroke="#f41414" stroke-width="0.95" />
<line x1="220.00" y1="283.80" x2="216.30" y2="314.70" stroke="#f41414" stroke-width="0.95" />
<line x1="220.00" y1="283.80" x2="235.70" y2="320.50" stroke="#f41414" stroke-width="0.95" />
<line x1="220.00" y1="283.80" x2="260.20" y2="327.10" stroke="#f41414" stroke-width="0.95" />
<line x1="220.00" y1="283.80" x2="207.10" y2="337.20" stroke="#f41414" stroke-width="0.95" />
<line x1="220.00" y1="283.80" x2="235.70" y2="343.60" stroke="#f41414" stroke-width="0.95" />
<line x1="182.00" y1="291.80" x2="240.30" y2="293.20" stroke="#f41414" stroke-width="0.95" />
<line x1="182.00" y1="291.80" x2="265.00" y2="294.50" stroke="#f41414" stroke-width="0.95" />
<line x1="182.00" y1="291.80" x2="204.00" y2="297.10" stroke="#f41414" stroke-width="0.95" />
<line x1="182.00" y1="291.80" x2="252.40" y2="306.90" stroke="#f41414" stroke-width="0.95" />
<line x1="182.00" y1="291.80" x2="187.50" y2="311.80" stroke="#f41414" stroke-width="0.95" />
<line x1="182.00" y1="291.80" x2="216.30" y2="314.70" stroke="#f41414" stroke-width="0.95" />
<line x1="182.00" y1="291.80" x2="235.70" y2="320.50" stroke="#f41414" stroke-width="0.95" />
<line x1="182.00" y1="291.80" x2="260.20" y2="327.10" stroke="#f41414" stroke-width="0.95" />
<line x1="182.00" y1="291.80" x2="207.10" y2="337.20" stroke="#f41414" stroke-width="0.95" />
<line x1="182.00" y1="291.80" x2="235.70" y2="343.60" stroke="#f41414" stroke-width="0.95" />
<line x1="240.30" y1="293.20" x2="265.00" y2="294.50" stroke="#f41414" stroke-width="0.95" />
<line x1="240.30" y1="293.20" x2="204.00" y2="297.10" stroke="#f41414" stroke-width="0.95" />
<line x1="240.30" y1="293.20" x2="252.40" y2="306.90" stroke="#f41414" stroke-width="0.95" />
<line x1="240.30" y1="293.20" x2="187.50" y2="311.80" stroke="#f41414" stroke-width="0.95" />
<line x1="240.30" y1="293.20" x2="216.30" y2="314.70" stroke="#f41414" stroke-width="0.95" />
<line x1="240.30" y1="293.20" x2="235.70" y2="320.50" stroke="#f41414" stroke-width="0.95" />
<line x1="240.30" y1="293.20" x2="260.20" y2="327.10" stroke="#f41414" stroke-width="0.95" />
<line x1="240.30" y1="293.20" x2="207.10" y2="337.20" stroke="#f41414" stroke-width="0.95" />
<line x1="240.30" y1="293.20" x2="235.70" y2="343.60" stroke="#f41414" stroke-width="0.95" />
<line x1="265.00" y1="294.50" x2="204.00" y2="297.10" stroke="#f41414" stroke-width="0.95" />
<line x1="265.00" y1="294.50" x2="252.40" y2="306.90" stroke="#f41414" stroke-width="0.95" />
<line x1="265.00" y1="294.50" x2="187.50" y2="311.80" stroke="#f41414" stroke-width="0.95" />
<line x1="265.00" y1="294.50" x2="216.30" y2="314.70" stroke="#f41414" stroke-width="0.95" />
<line x1="265.00" y1="294.50" x2="235.70" y2="320.50" stroke="#f41414" stroke-width="0.95" />
<line x1="265.00" y1="294.50" x2="260.20" y2="327.10" stroke="#f41414" stroke-width="0.95" />
<line x1="265.00" y1="294.50" x2="207.10" y2="337.20" stroke="#f41414" stroke-width="0.95" />
<line x1="265.00" y1="294.50" x2="235.70" y2="343.60" stroke="#f41414" stroke-width="0.95" />
<line x1="204.00" y1="297.10" x2="252.40" y2="306.90" stroke="#f41414" stroke-width="0.95" />
<line x1="204.00" y1="297.10" x2="187.50" y2="311.80" stroke="#f41414" stroke-width="0.95" />
<line x1="204.00" y1="297.10" x2="216.30" y2="314.70" stroke="#f41414" stroke-width="0.95" />
<line x1="204.00" y1="297.10" x2="235.70" y2="320.50" stroke="#f41414" stroke-width="0.95" />
<line x1="204.00" y1="297.10" x2="260.20" y2="327.10" stroke="#f41414" stroke-width="0.95" />
<line x1="204.00" y1="297.10" x2="207.10" y2="337.20" stroke="#f41414" stroke-width="0.95" />
<line x1="204.00" y1="297.10" x2="235.70" y2="343.60" stroke="#f41414" stroke-width="0.95" />
<line x1="252.40" y1="306.90" x2="187.50" y2="311.80" stroke="#f41414" stroke-width="0.95" />
<line x1="252.40" y1="306.90" x2="216.30" y2="314.70" stroke="#f41414" stroke-width="0.95" />
<line x1="252.40" y1="306.90" x2="235.70" y2="320.50" stroke="#f41414" stroke-width="0.95" />
<line x1="252.40" y1="306.90" x2="260.20" y2="327.10" stroke="#f41414" stroke-width="0.95" />
<line x1="252.40" y1="306.90" x2="207.10" y2="337.20" stroke="#f41414" stroke-width="0.95" />
<line x1="252.40" y1="306.90" x2="235.70" y2="343.60" stroke="#f41414" stroke-width="0.95" />
<line x1="187.50" y1="311.80" x2="216.30" y2="314.70" stroke="#f41414" stroke-width="0.95" />
<line x1="187.50" y1="311.80" x2="235.70" y2="320.50" stroke="#f41414" stroke-width="0.95" />
<line x1="187.50" y1="311.80" x2="260.20" y2="327.10" stroke="#f41414" stroke-width="0.95" />
<line x1="187.50" y1="311.80" x2="207.10" y2="337.20" stroke="#f41414" stroke-width="0.95" />
<line x1="187.50" y1="311.80" x2="235.70" y2="343.60" stroke="#f41414" stroke-width="0.95" />
<line x1="216.30" y1="314.70" x2="235.70" y2="320.50" stroke="#f41414" stroke-width="0.95" />
<line x1="216.30" y1="314.70" x2="260.20" y2="327.10" stroke="#f41414" stroke-width="0.95" />
<line x1="216.30" y1="314.70" x2="207.10" y2="337.20" stroke="#f41414" stroke-width="0.95" />
<line x1="216.30" y1="314.70" x2="235.70" y2="343.60" stroke="#f41414" stroke-width="0.95" />
<line x1="235.70" y1="320.50" x2="260.20" y2="327.10" stroke="#f41414" stroke-width="0.95" />
<line x1="235.70" y1="320.50" x2="207.10" y2="337.20" stroke="#f41414" stroke-width="0.95" />
<line x1="235.70" y1="320.50" x2="235.70" y2="343.60" stroke="#f41414" stroke-width="0.95" />
<line x1="260.20" y1="327.10" x2="207.10" y2="337.20" stroke="#f41414" stroke-width="0.95" />
<line x1="260.20" y1="327.10" x2="235.70" y2="343.60" stroke="#f41414" stroke-width="0.95" />
<line x1="207.10" y1="337.20" x2="235.70" y2="343.60" stroke="#f41414" stroke-width="0.95" />
<circle cx="22.5" cy="221.9" r="12.6" fill="#7db4a4"/>
<circle cx="80.2" cy="234.6" r="12.6" fill="#7db4a4"/>
<circle cx="145.5" cy="258.5" r="12.6" fill="#7db4a4"/>
<circle cx="110.0" cy="292.4" r="12.6" fill="#7db4a4"/>
<circle cx="146.2" cy="313.8" r="12.6" fill="#7db4a4"/>
<circle cx="239.4" cy="217.9" r="12.6" fill="#7db4a4"/>
<circle cx="196.8" cy="242.8" r="12.6" fill="#7db4a4"/>
<circle cx="297.6" cy="302.0" r="12.6" fill="#7db4a4"/>
<circle cx="178.0" cy="350.3" r="12.6" fill="#7db4a4"/>
<circle cx="180.8" cy="400.8" r="12.6" fill="#7db4a4"/>
<circle cx="22.3" cy="339.2" r="12.6" fill="#7db4a4"/>
<circle cx="21.9" cy="396.9" r="12.6" fill="#7db4a4"/>
<circle cx="219.7" cy="262.4" r="8.8" fill="#fbd98e"/>
<circle cx="242.9" cy="262.9" r="8.8" fill="#fbd98e"/>
<circle cx="199.0" cy="270.0" r="8.8" fill="#fbd98e"/>
<circle cx="257.5" cy="274.5" r="8.8" fill="#fbd98e"/>
<circle cx="220.0" cy="283.8" r="8.8" fill="#fbd98e"/>
<circle cx="182.0" cy="291.8" r="8.8" fill="#fbd98e"/>
<circle cx="240.3" cy="293.2" r="8.8" fill="#fbd98e"/>
<circle cx="265.0" cy="294.5" r="8.8" fill="#fbd98e"/>
<circle cx="204.0" cy="297.1" r="8.8" fill="#fbd98e"/>
<circle cx="252.4" cy="306.9" r="8.8" fill="#fbd98e"/>
<circle cx="187.5" cy="311.8" r="8.8" fill="#fbd98e"/>
<circle cx="216.3" cy="314.7" r="8.8" fill="#fbd98e"/>
<circle cx="235.7" cy="320.5" r="8.8" fill="#fbd98e"/>
<circle cx="260.2" cy="327.1" r="8.8" fill="#fbd98e"/>
<circle cx="207.1" cy="337.2" r="8.8" fill="#fbd98e"/>
<circle cx="235.7" cy="343.6" r="8.8" fill="#fbd98e"/>
<text x="22.50" y="224.40" font-size="7.1" text-anchor="middle" font-weight="normal" fill="#1a1a1a" stroke="#1a1a1a" stroke-width="0.15" textLength="31.59" lengthAdjust="spacingAndGlyphs" >RAD51AP1</text>
<text x="80.20" y="237.10" font-size="7.1" text-anchor="middle" font-weight="normal" fill="#1a1a1a" stroke="#1a1a1a" stroke-width="0.15" textLength="19.91" lengthAdjust="spacingAndGlyphs" >RAD51</text>
<text x="145.50" y="261.00" font-size="7.1" text-anchor="middle" font-weight="normal" fill="#1a1a1a" stroke="#1a1a1a" stroke-width="0.15" textLength="20.25" lengthAdjust="spacingAndGlyphs" >CDC45</text>
<text x="110.00" y="294.90" font-size="7.1" text-anchor="middle" font-weight="normal" fill="#1a1a1a" stroke="#1a1a1a" stroke-width="0.15" textLength="18.54" lengthAdjust="spacingAndGlyphs" >GINS2</text>
<text x="146.20" y="316.30" font-size="7.1" text-anchor="middle" font-weight="normal" fill="#1a1a1a" stroke="#1a1a1a" stroke-width="0.15" textLength="11.67" lengthAdjust="spacingAndGlyphs" >DTL</text>
<text x="239.40" y="220.40" font-size="7.1" text-anchor="middle" font-weight="normal" fill="#1a1a1a" stroke="#1a1a1a" stroke-width="0.15" textLength="14.76" lengthAdjust="spacingAndGlyphs" >E2F8</text>
<text x="196.80" y="245.30" font-size="7.1" text-anchor="middle" font-weight="normal" fill="#1a1a1a" stroke="#1a1a1a" stroke-width="0.15" textLength="21.62" lengthAdjust="spacingAndGlyphs" >NCAPH</text>
<text x="297.60" y="304.50" font-size="7.1" text-anchor="middle" font-weight="normal" fill="#1a1a1a" stroke="#1a1a1a" stroke-width="0.15" textLength="19.21" lengthAdjust="spacingAndGlyphs" >HMMR</text>
<text x="178.00" y="352.80" font-size="7.1" text-anchor="middle" font-weight="normal" fill="#1a1a1a" stroke="#1a1a1a" stroke-width="0.15" textLength="15.80" lengthAdjust="spacingAndGlyphs" >SKA1</text>
<text x="180.80" y="403.30" font-size="7.1" text-anchor="middle" font-weight="normal" fill="#1a1a1a" stroke="#1a1a1a" stroke-width="0.15" textLength="24.72" lengthAdjust="spacingAndGlyphs" >SHCBP1</text>
<text x="22.30" y="341.70" font-size="7.1" text-anchor="middle" font-weight="normal" fill="#1a1a1a" stroke="#1a1a1a" stroke-width="0.15" textLength="11.33" lengthAdjust="spacingAndGlyphs" >TX1</text>
<text x="21.90" y="399.40" font-size="7.1" text-anchor="middle" font-weight="normal" fill="#1a1a1a" stroke="#1a1a1a" stroke-width="0.15" textLength="13.04" lengthAdjust="spacingAndGlyphs" >CDA</text>
<text x="219.70" y="264.90" font-size="7.0" text-anchor="middle" font-weight="normal" fill="#1a1a1a" stroke="#1a1a1a" stroke-width="0.15" textLength="15.25" lengthAdjust="spacingAndGlyphs" >KIF11</text>
<text x="242.90" y="265.40" font-size="7.0" text-anchor="middle" font-weight="normal" fill="#1a1a1a" stroke="#1a1a1a" stroke-width="0.15" textLength="19.17" lengthAdjust="spacingAndGlyphs" >TOP2A</text>
<text x="199.00" y="272.50" font-size="7.0" text-anchor="middle" font-weight="normal" fill="#1a1a1a" stroke="#1a1a1a" stroke-width="0.15" textLength="16.66" lengthAdjust="spacingAndGlyphs" >RRM2</text>
<text x="257.50" y="277.00" font-size="7.0" text-anchor="middle" font-weight="normal" fill="#1a1a1a" stroke="#1a1a1a" stroke-width="0.15" textLength="15.69" lengthAdjust="spacingAndGlyphs" >KIF15</text>
<text x="220.00" y="286.30" font-size="7.0" text-anchor="middle" font-weight="normal" fill="#1a1a1a" stroke="#1a1a1a" stroke-width="0.15" textLength="19.28" lengthAdjust="spacingAndGlyphs" >BUB1B</text>
<text x="182.00" y="294.30" font-size="7.0" text-anchor="middle" font-weight="normal" fill="#1a1a1a" stroke="#1a1a1a" stroke-width="0.15" textLength="19.28" lengthAdjust="spacingAndGlyphs" >CDC20</text>
<text x="240.30" y="295.70" font-size="7.0" text-anchor="middle" font-weight="normal" fill="#1a1a1a" stroke="#1a1a1a" stroke-width="0.15" textLength="14.71" lengthAdjust="spacingAndGlyphs" >TPX2</text>
<text x="265.00" y="297.00" font-size="7.0" text-anchor="middle" font-weight="normal" fill="#1a1a1a" stroke="#1a1a1a" stroke-width="0.15" textLength="19.93" lengthAdjust="spacingAndGlyphs" >CDCA3</text>
<text x="204.00" y="299.60" font-size="7.0" text-anchor="middle" font-weight="normal" fill="#1a1a1a" stroke="#1a1a1a" stroke-width="0.15" textLength="19.93" lengthAdjust="spacingAndGlyphs" >CCNB1</text>
<text x="252.40" y="309.40" font-size="7.0" text-anchor="middle" font-weight="normal" fill="#1a1a1a" stroke="#1a1a1a" stroke-width="0.15" textLength="18.63" lengthAdjust="spacingAndGlyphs" >CEP55</text>
<text x="187.50" y="314.30" font-size="7.0" text-anchor="middle" font-weight="normal" fill="#1a1a1a" stroke="#1a1a1a" stroke-width="0.15" textLength="19.93" lengthAdjust="spacingAndGlyphs" >CCNB2</text>
<text x="216.30" y="317.20" font-size="7.0" text-anchor="middle" font-weight="normal" fill="#1a1a1a" stroke="#1a1a1a" stroke-width="0.15" textLength="16.66" lengthAdjust="spacingAndGlyphs" >ASPM</text>
<text x="235.70" y="323.00" font-size="7.0" text-anchor="middle" font-weight="normal" fill="#1a1a1a" stroke="#1a1a1a" stroke-width="0.15" textLength="19.93" lengthAdjust="spacingAndGlyphs" >CENPF</text>
<text x="260.20" y="329.60" font-size="7.0" text-anchor="middle" font-weight="normal" fill="#1a1a1a" stroke="#1a1a1a" stroke-width="0.15" textLength="23.53" lengthAdjust="spacingAndGlyphs" >NUSAP1</text>
<text x="207.10" y="339.70" font-size="7.0" text-anchor="middle" font-weight="normal" fill="#1a1a1a" stroke="#1a1a1a" stroke-width="0.15" textLength="19.61" lengthAdjust="spacingAndGlyphs" >KIF20A</text>
<text x="235.70" y="346.10" font-size="7.0" text-anchor="middle" font-weight="normal" fill="#1a1a1a" stroke="#1a1a1a" stroke-width="0.15" textLength="20.26" lengthAdjust="spacingAndGlyphs" >CENPE</text>
<text x="328.40" y="202.80" font-size="12.2" text-anchor="start" font-weight="bold" fill="#000" >F</text>
<line x1="368.70" y1="228.00" x2="416.10" y2="223.50" stroke="#111" stroke-width="0.85" />
<line x1="368.70" y1="228.00" x2="459.40" y2="233.20" stroke="#111" stroke-width="0.85" />
<line x1="368.70" y1="228.00" x2="381.60" y2="264.70" stroke="#111" stroke-width="0.85" />
<line x1="368.70" y1="228.00" x2="423.00" y2="260.50" stroke="#111" stroke-width="0.85" />
<line x1="368.70" y1="228.00" x2="466.50" y2="275.00" stroke="#111" stroke-width="0.85" />
<line x1="368.70" y1="228.00" x2="496.90" y2="268.00" stroke="#111" stroke-width="0.85" />
<line x1="368.70" y1="228.00" x2="347.00" y2="278.00" stroke="#111" stroke-width="0.85" />
<line x1="368.70" y1="228.00" x2="414.20" y2="299.20" stroke="#111" stroke-width="0.85" />
<line x1="368.70" y1="228.00" x2="339.20" y2="310.20" stroke="#111" stroke-width="0.85" />
<line x1="368.70" y1="228.00" x2="373.80" y2="314.60" stroke="#111" stroke-width="0.85" />
<line x1="368.70" y1="228.00" x2="488.00" y2="311.00" stroke="#111" stroke-width="0.85" />
<line x1="368.70" y1="228.00" x2="446.20" y2="319.00" stroke="#111" stroke-width="0.85" />
<line x1="368.70" y1="228.00" x2="380.60" y2="347.30" stroke="#111" stroke-width="0.85" />
<line x1="368.70" y1="228.00" x2="420.40" y2="350.20" stroke="#111" stroke-width="0.85" />
<line x1="368.70" y1="228.00" x2="465.00" y2="352.50" stroke="#111" stroke-width="0.85" />
<line x1="416.10" y1="223.50" x2="459.40" y2="233.20" stroke="#111" stroke-width="0.85" />
<line x1="416.10" y1="223.50" x2="381.60" y2="264.70" stroke="#111" stroke-width="0.85" />
<line x1="416.10" y1="223.50" x2="423.00" y2="260.50" stroke="#111" stroke-width="0.85" />
<line x1="416.10" y1="223.50" x2="466.50" y2="275.00" stroke="#111" stroke-width="0.85" />
<line x1="416.10" y1="223.50" x2="496.90" y2="268.00" stroke="#111" stroke-width="0.85" />
<line x1="416.10" y1="223.50" x2="347.00" y2="278.00" stroke="#111" stroke-width="0.85" />
<line x1="416.10" y1="223.50" x2="414.20" y2="299.20" stroke="#111" stroke-width="0.85" />
<line x1="416.10" y1="223.50" x2="339.20" y2="310.20" stroke="#111" stroke-width="0.85" />
<line x1="416.10" y1="223.50" x2="373.80" y2="314.60" stroke="#111" stroke-width="0.85" />
<line x1="416.10" y1="223.50" x2="488.00" y2="311.00" stroke="#111" stroke-width="0.85" />
<line x1="416.10" y1="223.50" x2="446.20" y2="319.00" stroke="#111" stroke-width="0.85" />
<line x1="416.10" y1="223.50" x2="380.60" y2="347.30" stroke="#111" stroke-width="0.85" />
<line x1="416.10" y1="223.50" x2="420.40" y2="350.20" stroke="#111" stroke-width="0.85" />
<line x1="416.10" y1="223.50" x2="465.00" y2="352.50" stroke="#111" stroke-width="0.85" />
<line x1="459.40" y1="233.20" x2="381.60" y2="264.70" stroke="#111" stroke-width="0.85" />
<line x1="459.40" y1="233.20" x2="423.00" y2="260.50" stroke="#111" stroke-width="0.85" />
<line x1="459.40" y1="233.20" x2="466.50" y2="275.00" stroke="#111" stroke-width="0.85" />
<line x1="459.40" y1="233.20" x2="496.90" y2="268.00" stroke="#111" stroke-width="0.85" />
<line x1="459.40" y1="233.20" x2="347.00" y2="278.00" stroke="#111" stroke-width="0.85" />
<line x1="459.40" y1="233.20" x2="414.20" y2="299.20" stroke="#111" stroke-width="0.85" />
<line x1="459.40" y1="233.20" x2="339.20" y2="310.20" stroke="#111" stroke-width="0.85" />
<line x1="459.40" y1="233.20" x2="373.80" y2="314.60" stroke="#111" stroke-width="0.85" />
<line x1="459.40" y1="233.20" x2="488.00" y2="311.00" stroke="#111" stroke-width="0.85" />
<line x1="459.40" y1="233.20" x2="446.20" y2="319.00" stroke="#111" stroke-width="0.85" />
<line x1="459.40" y1="233.20" x2="380.60" y2="347.30" stroke="#111" stroke-width="0.85" />
<line x1="459.40" y1="233.20" x2="420.40" y2="350.20" stroke="#111" stroke-width="0.85" />
<line x1="459.40" y1="233.20" x2="465.00" y2="352.50" stroke="#111" stroke-width="0.85" />
<line x1="381.60" y1="264.70" x2="423.00" y2="260.50" stroke="#111" stroke-width="0.85" />
<line x1="381.60" y1="264.70" x2="466.50" y2="275.00" stroke="#111" stroke-width="0.85" />
<line x1="381.60" y1="264.70" x2="496.90" y2="268.00" stroke="#111" stroke-width="0.85" />
<line x1="381.60" y1="264.70" x2="347.00" y2="278.00" stroke="#111" stroke-width="0.85" />
<line x1="381.60" y1="264.70" x2="414.20" y2="299.20" stroke="#111" stroke-width="0.85" />
<line x1="381.60" y1="264.70" x2="339.20" y2="310.20" stroke="#111" stroke-width="0.85" />
<line x1="381.60" y1="264.70" x2="373.80" y2="314.60" stroke="#111" stroke-width="0.85" />
<line x1="381.60" y1="264.70" x2="488.00" y2="311.00" stroke="#111" stroke-width="0.85" />
<line x1="381.60" y1="264.70" x2="446.20" y2="319.00" stroke="#111" stroke-width="0.85" />
<line x1="381.60" y1="264.70" x2="380.60" y2="347.30" stroke="#111" stroke-width="0.85" />
<line x1="381.60" y1="264.70" x2="420.40" y2="350.20" stroke="#111" stroke-width="0.85" />
<line x1="381.60" y1="264.70" x2="465.00" y2="352.50" stroke="#111" stroke-width="0.85" />
<line x1="423.00" y1="260.50" x2="466.50" y2="275.00" stroke="#111" stroke-width="0.85" />
<line x1="423.00" y1="260.50" x2="496.90" y2="268.00" stroke="#111" stroke-width="0.85" />
<line x1="423.00" y1="260.50" x2="347.00" y2="278.00" stroke="#111" stroke-width="0.85" />
<line x1="423.00" y1="260.50" x2="414.20" y2="299.20" stroke="#111" stroke-width="0.85" />
<line x1="423.00" y1="260.50" x2="339.20" y2="310.20" stroke="#111" stroke-width="0.85" />
<line x1="423.00" y1="260.50" x2="373.80" y2="314.60" stroke="#111" stroke-width="0.85" />
<line x1="423.00" y1="260.50" x2="488.00" y2="311.00" stroke="#111" stroke-width="0.85" />
<line x1="423.00" y1="260.50" x2="446.20" y2="319.00" stroke="#111" stroke-width="0.85" />
<line x1="423.00" y1="260.50" x2="380.60" y2="347.30" stroke="#111" stroke-width="0.85" />
<line x1="423.00" y1="260.50" x2="420.40" y2="350.20" stroke="#111" stroke-width="0.85" />
<line x1="423.00" y1="260.50" x2="465.00" y2="352.50" stroke="#111" stroke-width="0.85" />
<line x1="466.50" y1="275.00" x2="496.90" y2="268.00" stroke="#111" stroke-width="0.85" />
<line x1="466.50" y1="275.00" x2="347.00" y2="278.00" stroke="#111" stroke-width="0.85" />
<line x1="466.50" y1="275.00" x2="414.20" y2="299.20" stroke="#111" stroke-width="0.85" />
<line x1="466.50" y1="275.00" x2="339.20" y2="310.20" stroke="#111" stroke-width="0.85" />
<line x1="466.50" y1="275.00" x2="373.80" y2="314.60" stroke="#111" stroke-width="0.85" />
<line x1="466.50" y1="275.00" x2="488.00" y2="311.00" stroke="#111" stroke-width="0.85" />
<line x1="466.50" y1="275.00" x2="446.20" y2="319.00" stroke="#111" stroke-width="0.85" />
<line x1="466.50" y1="275.00" x2="380.60" y2="347.30" stroke="#111" stroke-width="0.85" />
<line x1="466.50" y1="275.00" x2="420.40" y2="350.20" stroke="#111" stroke-width="0.85" />
<line x1="466.50" y1="275.00" x2="465.00" y2="352.50" stroke="#111" stroke-width="0.85" />
<line x1="496.90" y1="268.00" x2="347.00" y2="278.00" stroke="#111" stroke-width="0.85" />
<line x1="496.90" y1="268.00" x2="414.20" y2="299.20" stroke="#111" stroke-width="0.85" />
<line x1="496.90" y1="268.00" x2="339.20" y2="310.20" stroke="#111" stroke-width="0.85" />
<line x1="496.90" y1="268.00" x2="373.80" y2="314.60" stroke="#111" stroke-width="0.85" />
<line x1="496.90" y1="268.00" x2="488.00" y2="311.00" stroke="#111" stroke-width="0.85" />
<line x1="496.90" y1="268.00" x2="446.20" y2="319.00" stroke="#111" stroke-width="0.85" />
<line x1="496.90" y1="268.00" x2="380.60" y2="347.30" stroke="#111" stroke-width="0.85" />
<line x1="496.90" y1="268.00" x2="420.40" y2="350.20" stroke="#111" stroke-width="0.85" />
<line x1="496.90" y1="268.00" x2="465.00" y2="352.50" stroke="#111" stroke-width="0.85" />
<line x1="347.00" y1="278.00" x2="414.20" y2="299.20" stroke="#111" stroke-width="0.85" />
<line x1="347.00" y1="278.00" x2="339.20" y2="310.20" stroke="#111" stroke-width="0.85" />
<line x1="347.00" y1="278.00" x2="373.80" y2="314.60" stroke="#111" stroke-width="0.85" />
<line x1="347.00" y1="278.00" x2="488.00" y2="311.00" stroke="#111" stroke-width="0.85" />
<line x1="347.00" y1="278.00" x2="446.20" y2="319.00" stroke="#111" stroke-width="0.85" />
<line x1="347.00" y1="278.00" x2="380.60" y2="347.30" stroke="#111" stroke-width="0.85" />
<line x1="347.00" y1="278.00" x2="420.40" y2="350.20" stroke="#111" stroke-width="0.85" />
<line x1="347.00" y1="278.00" x2="465.00" y2="352.50" stroke="#111" stroke-width="0.85" />
<line x1="414.20" y1="299.20" x2="339.20" y2="310.20" stroke="#111" stroke-width="0.85" />
<line x1="414.20" y1="299.20" x2="373.80" y2="314.60" stroke="#111" stroke-width="0.85" />
<line x1="414.20" y1="299.20" x2="488.00" y2="311.00" stroke="#111" stroke-width="0.85" />
<line x1="414.20" y1="299.20" x2="446.20" y2="319.00" stroke="#111" stroke-width="0.85" />
<line x1="414.20" y1="299.20" x2="380.60" y2="347.30" stroke="#111" stroke-width="0.85" />
<line x1="414.20" y1="299.20" x2="420.40" y2="350.20" stroke="#111" stroke-width="0.85" />
<line x1="414.20" y1="299.20" x2="465.00" y2="352.50" stroke="#111" stroke-width="0.85" />
<line x1="339.20" y1="310.20" x2="373.80" y2="314.60" stroke="#111" stroke-width="0.85" />
<line x1="339.20" y1="310.20" x2="488.00" y2="311.00" stroke="#111" stroke-width="0.85" />
<line x1="339.20" y1="310.20" x2="446.20" y2="319.00" stroke="#111" stroke-width="0.85" />
<line x1="339.20" y1="310.20" x2="380.60" y2="347.30" stroke="#111" stroke-width="0.85" />
<line x1="339.20" y1="310.20" x2="420.40" y2="350.20" stroke="#111" stroke-width="0.85" />
<line x1="339.20" y1="310.20" x2="465.00" y2="352.50" stroke="#111" stroke-width="0.85" />
<line x1="373.80" y1="314.60" x2="488.00" y2="311.00" stroke="#111" stroke-width="0.85" />
<line x1="373.80" y1="314.60" x2="446.20" y2="319.00" stroke="#111" stroke-width="0.85" />
<line x1="373.80" y1="314.60" x2="380.60" y2="347.30" stroke="#111" stroke-width="0.85" />
<line x1="373.80" y1="314.60" x2="420.40" y2="350.20" stroke="#111" stroke-width="0.85" />
<line x1="373.80" y1="314.60" x2="465.00" y2="352.50" stroke="#111" stroke-width="0.85" />
<line x1="488.00" y1="311.00" x2="446.20" y2="319.00" stroke="#111" stroke-width="0.85" />
<line x1="488.00" y1="311.00" x2="380.60" y2="347.30" stroke="#111" stroke-width="0.85" />
<line x1="488.00" y1="311.00" x2="420.40" y2="350.20" stroke="#111" stroke-width="0.85" />
<line x1="488.00" y1="311.00" x2="465.00" y2="352.50" stroke="#111" stroke-width="0.85" />
<line x1="446.20" y1="319.00" x2="380.60" y2="347.30" stroke="#111" stroke-width="0.85" />
<line x1="446.20" y1="319.00" x2="420.40" y2="350.20" stroke="#111" stroke-width="0.85" />
<line x1="446.20" y1="319.00" x2="465.00" y2="352.50" stroke="#111" stroke-width="0.85" />
<line x1="380.60" y1="347.30" x2="420.40" y2="350.20" stroke="#111" stroke-width="0.85" />
<line x1="380.60" y1="347.30" x2="465.00" y2="352.50" stroke="#111" stroke-width="0.85" />
<line x1="420.40" y1="350.20" x2="465.00" y2="352.50" stroke="#111" stroke-width="0.85" />
<ellipse cx="368.7" cy="228.0" rx="15.0" ry="12.5" fill="#f28c00"/>
<text x="368.70" y="231.20" font-size="9.0" text-anchor="middle" font-weight="normal" fill="#111" stroke="#111" stroke-width="0.15" textLength="27.13" lengthAdjust="spacingAndGlyphs" >CENPE</text>
<ellipse cx="416.1" cy="223.5" rx="15.0" ry="12.5" fill="#cc1432"/>
<text x="416.10" y="226.70" font-size="9.0" text-anchor="middle" font-weight="normal" fill="#fff" stroke="#fff" stroke-width="0.15" textLength="20.43" lengthAdjust="spacingAndGlyphs" >KIF11</text>
<ellipse cx="459.4" cy="233.2" rx="15.0" ry="12.5" fill="#cc1432"/>
<text x="459.40" y="236.40" font-size="9.0" text-anchor="middle" font-weight="normal" fill="#fff" stroke="#fff" stroke-width="0.15" textLength="25.82" lengthAdjust="spacingAndGlyphs" >BUB1B</text>
<ellipse cx="381.6" cy="264.7" rx="15.0" ry="12.5" fill="#cc1432"/>
<text x="381.60" y="267.90" font-size="9.0" text-anchor="middle" font-weight="normal" fill="#fff" stroke="#fff" stroke-width="0.15" textLength="25.68" lengthAdjust="spacingAndGlyphs" >TOP2A</text>
<ellipse cx="423.0" cy="260.5" rx="15.0" ry="12.5" fill="#cc1432"/>
<text x="423.00" y="263.70" font-size="9.0" text-anchor="middle" font-weight="normal" fill="#fff" stroke="#fff" stroke-width="0.15" textLength="22.32" lengthAdjust="spacingAndGlyphs" >ASPM</text>
<ellipse cx="466.5" cy="275.0" rx="15.0" ry="12.5" fill="#be692d"/>
<text x="466.50" y="278.20" font-size="9.0" text-anchor="middle" font-weight="normal" fill="#fff" stroke="#fff" stroke-width="0.15" textLength="19.70" lengthAdjust="spacingAndGlyphs" >TPX2</text>
<ellipse cx="496.9" cy="268.0" rx="15.0" ry="12.5" fill="#f6b91e"/>
<text x="496.90" y="271.20" font-size="9.0" text-anchor="middle" font-weight="normal" fill="#111" stroke="#111" stroke-width="0.15" textLength="24.95" lengthAdjust="spacingAndGlyphs" >CEP55</text>
<ellipse cx="347.0" cy="278.0" rx="15.0" ry="12.5" fill="#cc1432"/>
<text x="347.00" y="281.20" font-size="9.0" text-anchor="middle" font-weight="normal" fill="#fff" stroke="#fff" stroke-width="0.15" textLength="21.01" lengthAdjust="spacingAndGlyphs" >KIF15</text>
<ellipse cx="414.2" cy="299.2" rx="15.0" ry="12.5" fill="#cc1432"/>
<text x="414.20" y="302.40" font-size="9.0" text-anchor="middle" font-weight="normal" fill="#fff" stroke="#fff" stroke-width="0.15" textLength="26.69" lengthAdjust="spacingAndGlyphs" >CCNB1</text>
<ellipse cx="339.2" cy="310.2" rx="15.0" ry="12.5" fill="#fcd986"/>
<text x="339.20" y="313.40" font-size="9.0" text-anchor="middle" font-weight="normal" fill="#111" stroke="#111" stroke-width="0.15" textLength="26.69" lengthAdjust="spacingAndGlyphs" >CDCA3</text>
<ellipse cx="373.8" cy="314.6" rx="15.0" ry="12.5" fill="#cc1432"/>
<text x="373.80" y="317.80" font-size="9.0" text-anchor="middle" font-weight="normal" fill="#fff" stroke="#fff" stroke-width="0.15" textLength="26.69" lengthAdjust="spacingAndGlyphs" >CENPF</text>
<ellipse cx="488.0" cy="311.0" rx="15.0" ry="12.5" fill="#cc1432"/>
<text x="488.00" y="314.20" font-size="9.0" text-anchor="middle" font-weight="normal" fill="#fff" stroke="#fff" stroke-width="0.15" textLength="31.51" lengthAdjust="spacingAndGlyphs" >NUSAP1</text>
<ellipse cx="446.2" cy="319.0" rx="15.0" ry="12.5" fill="#cc1432"/>
<text x="446.20" y="322.20" font-size="9.0" text-anchor="middle" font-weight="normal" fill="#fff" stroke="#fff" stroke-width="0.15" textLength="26.69" lengthAdjust="spacingAndGlyphs" >CCNB2</text>
<ellipse cx="380.6" cy="347.3" rx="15.0" ry="12.5" fill="#cc1432"/>
<text x="380.60" y="350.50" font-size="9.0" text-anchor="middle" font-weight="normal" fill="#fff" stroke="#fff" stroke-width="0.15" textLength="25.82" lengthAdjust="spacingAndGlyphs" >CDC20</text>
<ellipse cx="420.4" cy="350.2" rx="15.0" ry="12.5" fill="#cc1432"/>
<text x="420.40" y="353.40" font-size="9.0" text-anchor="middle" font-weight="normal" fill="#fff" stroke="#fff" stroke-width="0.15" textLength="26.26" lengthAdjust="spacingAndGlyphs" >KIF20A</text>
<ellipse cx="465.0" cy="352.5" rx="15.0" ry="12.5" fill="#f28c00"/>
<text x="465.00" y="355.70" font-size="9.0" text-anchor="middle" font-weight="normal" fill="#111" stroke="#111" stroke-width="0.15" textLength="22.31" lengthAdjust="spacingAndGlyphs" >RRM2</text>
<text x="7.20" y="434.40" font-size="12.2" text-anchor="start" font-weight="bold" fill="#000" >G</text>
<rect x="57.70" y="436.20" width="4.30" height="4.20" fill="#d0102e" />
<text x="65.50" y="440.70" font-size="6.9" text-anchor="start" font-weight="normal" fill="#1a1a1a" stroke="#1a1a1a" stroke-width="0.15" textLength="20.20" lengthAdjust="spacingAndGlyphs" >T-cells</text>
<rect x="91.60" y="436.20" width="4.30" height="4.20" fill="#1f5a96" />
<text x="99.40" y="440.70" font-size="6.9" text-anchor="start" font-weight="normal" fill="#1a1a1a" stroke="#1a1a1a" stroke-width="0.15" textLength="12.70" lengthAdjust="spacingAndGlyphs" >ATL</text>
<text transform="translate(14.80,487.40) rotate(-90)" x="0" y="0" font-size="9.8" text-anchor="middle" font-weight="normal" fill="#1a1a1a" stroke="#1a1a1a" stroke-width="0.15" textLength="53.50" lengthAdjust="spacingAndGlyphs">Expression level</text>
<line x1="35.40" y1="447.90" x2="35.40" y2="527.80" stroke="#1a1a1a" stroke-width="1.1" />
<line x1="34.90" y1="527.20" x2="70.80" y2="527.20" stroke="#1a1a1a" stroke-width="1.1" />
<line x1="32.80" y1="450.40" x2="35.40" y2="450.40" stroke="#1a1a1a" stroke-width="0.9" />
<text x="30.00" y="453.25" font-size="8.0" text-anchor="end" font-weight="normal" fill="#1a1a1a" stroke="#1a1a1a" stroke-width="0.15" textLength="8.60" lengthAdjust="spacingAndGlyphs" >12</text>
<line x1="32.80" y1="476.00" x2="35.40" y2="476.00" stroke="#1a1a1a" stroke-width="0.9" />
<text x="30.00" y="478.85" font-size="8.0" text-anchor="end" font-weight="normal" fill="#1a1a1a" stroke="#1a1a1a" stroke-width="0.15" textLength="4.30" lengthAdjust="spacingAndGlyphs" >8</text>
<line x1="32.80" y1="501.60" x2="35.40" y2="501.60" stroke="#1a1a1a" stroke-width="0.9" />
<text x="30.00" y="504.45" font-size="8.0" text-anchor="end" font-weight="normal" fill="#1a1a1a" stroke="#1a1a1a" stroke-width="0.15" textLength="4.30" lengthAdjust="spacingAndGlyphs" >4</text>
<line x1="32.80" y1="527.20" x2="35.40" y2="527.20" stroke="#1a1a1a" stroke-width="0.9" />
<text x="30.00" y="530.05" font-size="8.0" text-anchor="end" font-weight="normal" fill="#1a1a1a" stroke="#1a1a1a" stroke-width="0.15" textLength="4.30" lengthAdjust="spacingAndGlyphs" >0</text>
<line x1="44.05" y1="486.10" x2="44.05" y2="504.30" stroke="#777" stroke-width="0.8" />
<line x1="40.89" y1="486.10" x2="47.21" y2="486.10" stroke="#555" stroke-width="0.8" />
<line x1="40.89" y1="504.30" x2="47.21" y2="504.30" stroke="#555" stroke-width="0.8" />
<rect x="38.40" y="488.30" width="11.30" height="10.40" fill="#ec9aa9" stroke="#4a4a4a" stroke-width="0.8"/>
<line x1="38.40" y1="495.50" x2="49.70" y2="495.50" stroke="#4a4a4a" stroke-width="0.8" />
<circle cx="44.05" cy="486.10" r="0.85" fill="#d0102e"/>
<circle cx="44.05" cy="504.30" r="0.85" fill="#d0102e"/>
<circle cx="48.53" cy="494.43" r="0.85" fill="#d0102e"/>
<circle cx="48.26" cy="493.83" r="0.85" fill="#d0102e"/>
<circle cx="48.09" cy="498.30" r="0.85" fill="#d0102e"/>
<circle cx="44.85" cy="498.57" r="0.85" fill="#d0102e"/>
<circle cx="45.12" cy="492.94" r="0.85" fill="#d0102e"/>
<circle cx="41.06" cy="489.82" r="0.85" fill="#d0102e"/>
<circle cx="43.69" cy="498.53" r="0.85" fill="#d0102e"/>
<line x1="61.70" y1="463.40" x2="61.70" y2="487.70" stroke="#777" stroke-width="0.8" />
<line x1="58.40" y1="463.40" x2="65.00" y2="463.40" stroke="#555" stroke-width="0.8" />
<line x1="58.40" y1="487.70" x2="65.00" y2="487.70" stroke="#555" stroke-width="0.8" />
<rect x="55.80" y="466.20" width="11.80" height="14.30" fill="#8db0d2" stroke="#3a3a4a" stroke-width="0.8"/>
<line x1="55.80" y1="474.50" x2="67.60" y2="474.50" stroke="#3a3a4a" stroke-width="0.8" />
<circle cx="61.70" cy="463.40" r="0.85" fill="#1f5a96"/>
<circle cx="61.70" cy="487.70" r="0.85" fill="#1f5a96"/>
<circle cx="56.86" cy="466.52" r="0.85" fill="#1f5a96"/>
<circle cx="64.95" cy="467.32" r="0.85" fill="#1f5a96"/>
<circle cx="57.68" cy="469.18" r="0.85" fill="#1f5a96"/>
<circle cx="64.97" cy="476.14" r="0.85" fill="#1f5a96"/>
<circle cx="64.27" cy="469.46" r="0.85" fill="#1f5a96"/>
<circle cx="64.51" cy="473.36" r="0.85" fill="#1f5a96"/>
<circle cx="62.09" cy="478.97" r="0.85" fill="#1f5a96"/>
<circle cx="61.04" cy="475.21" r="0.85" fill="#1f5a96"/>
<circle cx="64.20" cy="475.60" r="0.85" fill="#1f5a96"/>
<circle cx="62.23" cy="479.31" r="0.85" fill="#1f5a96"/>
<circle cx="57.58" cy="479.75" r="0.85" fill="#1f5a96"/>
<circle cx="58.20" cy="474.67" r="0.85" fill="#1f5a96"/>
<circle cx="59.76" cy="466.75" r="0.85" fill="#1f5a96"/>
<circle cx="63.02" cy="468.72" r="0.85" fill="#1f5a96"/>
<circle cx="60.56" cy="471.55" r="0.85" fill="#1f5a96"/>
<circle cx="65.64" cy="470.72" r="0.85" fill="#1f5a96"/>
<text x="61.90" y="462.20" font-size="9.0" text-anchor="middle" font-weight="bold" fill="#1a1a1a" textLength="11.60" lengthAdjust="spacingAndGlyphs" >***</text>
<text x="51.90" y="540.40" font-size="10.2" text-anchor="middle" font-weight="normal" fill="#1a1a1a" stroke="#1a1a1a" stroke-width="0.15" textLength="22.90" lengthAdjust="spacingAndGlyphs" >CCNB1</text>
<line x1="89.20" y1="447.90" x2="89.20" y2="527.80" stroke="#1a1a1a" stroke-width="1.1" />
<line x1="88.70" y1="527.20" x2="124.60" y2="527.20" stroke="#1a1a1a" stroke-width="1.1" />
<line x1="86.60" y1="450.40" x2="89.20" y2="450.40" stroke="#1a1a1a" stroke-width="0.9" />
<text x="83.80" y="453.25" font-size="8.0" text-anchor="end" font-weight="normal" fill="#1a1a1a" stroke="#1a1a1a" stroke-width="0.15" textLength="8.60" lengthAdjust="spacingAndGlyphs" >15</text>
<line x1="86.60" y1="476.00" x2="89.20" y2="476.00" stroke="#1a1a1a" stroke-width="0.9" />
<text x="83.80" y="478.85" font-size="8.0" text-anchor="end" font-weight="normal" fill="#1a1a1a" stroke="#1a1a1a" stroke-width="0.15" textLength="8.60" lengthAdjust="spacingAndGlyphs" >10</text>
<line x1="86.60" y1="501.60" x2="89.20" y2="501.60" stroke="#1a1a1a" stroke-width="0.9" />
<text x="83.80" y="504.45" font-size="8.0" text-anchor="end" font-weight="normal" fill="#1a1a1a" stroke="#1a1a1a" stroke-width="0.15" textLength="4.30" lengthAdjust="spacingAndGlyphs" >5</text>
<line x1="86.60" y1="527.20" x2="89.20" y2="527.20" stroke="#1a1a1a" stroke-width="0.9" />
<text x="83.80" y="530.05" font-size="8.0" text-anchor="end" font-weight="normal" fill="#1a1a1a" stroke="#1a1a1a" stroke-width="0.15" textLength="4.30" lengthAdjust="spacingAndGlyphs" >0</text>
<line x1="97.95" y1="489.50" x2="97.95" y2="510.70" stroke="#777" stroke-width="0.8" />
<line x1="94.79" y1="489.50" x2="101.11" y2="489.50" stroke="#555" stroke-width="0.8" />
<line x1="94.79" y1="510.70" x2="101.11" y2="510.70" stroke="#555" stroke-width="0.8" />
<rect x="92.30" y="491.40" width="11.30" height="10.20" fill="#ec9aa9" stroke="#4a4a4a" stroke-width="0.8"/>
<circle cx="97.95" cy="489.50" r="0.85" fill="#d0102e"/>
<circle cx="97.95" cy="510.70" r="0.85" fill="#d0102e"/>
<circle cx="100.80" cy="500.23" r="0.85" fill="#d0102e"/>
<circle cx="99.53" cy="494.64" r="0.85" fill="#d0102e"/>
<circle cx="100.57" cy="492.07" r="0.85" fill="#d0102e"/>
<circle cx="96.53" cy="493.80" r="0.85" fill="#d0102e"/>
<circle cx="98.62" cy="496.10" r="0.85" fill="#d0102e"/>
<circle cx="102.30" cy="491.40" r="0.85" fill="#d0102e"/>
<line x1="115.35" y1="472.00" x2="115.35" y2="497.30" stroke="#777" stroke-width="0.8" />
<line x1="111.96" y1="472.00" x2="118.74" y2="472.00" stroke="#555" stroke-width="0.8" />
<line x1="111.96" y1="497.30" x2="118.74" y2="497.30" stroke="#555" stroke-width="0.8" />
<rect x="109.30" y="477.30" width="12.10" height="12.70" fill="#8db0d2" stroke="#3a3a4a" stroke-width="0.8"/>
<line x1="109.30" y1="484.00" x2="121.40" y2="484.00" stroke="#3a3a4a" stroke-width="0.8" />
<circle cx="115.35" cy="472.00" r="0.85" fill="#1f5a96"/>
<circle cx="115.35" cy="497.30" r="0.85" fill="#1f5a96"/>
<circle cx="112.22" cy="478.33" r="0.85" fill="#1f5a96"/>
<circle cx="118.10" cy="482.75" r="0.85" fill="#1f5a96"/>
<circle cx="119.35" cy="482.35" r="0.85" fill="#1f5a96"/>
<circle cx="110.73" cy="482.15" r="0.85" fill="#1f5a96"/>
<circle cx="118.21" cy="487.10" r="0.85" fill="#1f5a96"/>
<circle cx="119.36" cy="480.27" r="0.85" fill="#1f5a96"/>
<circle cx="113.72" cy="479.22" r="0.85" fill="#1f5a96"/>
<circle cx="111.60" cy="487.05" r="0.85" fill="#1f5a96"/>
<circle cx="119.53" cy="484.00" r="0.85" fill="#1f5a96"/>
<circle cx="119.74" cy="488.83" r="0.85" fill="#1f5a96"/>
<circle cx="117.76" cy="489.21" r="0.85" fill="#1f5a96"/>
<circle cx="116.14" cy="485.11" r="0.85" fill="#1f5a96"/>
<circle cx="115.30" cy="487.84" r="0.85" fill="#1f5a96"/>
<circle cx="112.53" cy="480.52" r="0.85" fill="#1f5a96"/>
<circle cx="112.49" cy="482.35" r="0.85" fill="#1f5a96"/>
<circle cx="113.56" cy="478.17" r="0.85" fill="#1f5a96"/>
<text x="115.70" y="469.70" font-size="9.0" text-anchor="middle" font-weight="bold" fill="#1a1a1a" textLength="11.60" lengthAdjust="spacingAndGlyphs" >***</text>
<text x="106.30" y="540.40" font-size="10.2" text-anchor="middle" font-weight="normal" fill="#1a1a1a" stroke="#1a1a1a" stroke-width="0.15" textLength="23.20" lengthAdjust="spacingAndGlyphs" >CCNB2</text>
<line x1="141.50" y1="447.90" x2="141.50" y2="527.80" stroke="#1a1a1a" stroke-width="1.1" />
<line x1="141.00" y1="527.20" x2="175.40" y2="527.20" stroke="#1a1a1a" stroke-width="1.1" />
<line x1="138.90" y1="450.40" x2="141.50" y2="450.40" stroke="#1a1a1a" stroke-width="0.9" />
<text x="136.10" y="453.25" font-size="8.0" text-anchor="end" font-weight="normal" fill="#1a1a1a" stroke="#1a1a1a" stroke-width="0.15" textLength="8.60" lengthAdjust="spacingAndGlyphs" >15</text>
<line x1="138.90" y1="476.00" x2="141.50" y2="476.00" stroke="#1a1a1a" stroke-width="0.9" />
<text x="136.10" y="478.85" font-size="8.0" text-anchor="end" font-weight="normal" fill="#1a1a1a" stroke="#1a1a1a" stroke-width="0.15" textLength="8.60" lengthAdjust="spacingAndGlyphs" >10</text>
<line x1="138.90" y1="501.60" x2="141.50" y2="501.60" stroke="#1a1a1a" stroke-width="0.9" />
<text x="136.10" y="504.45" font-size="8.0" text-anchor="end" font-weight="normal" fill="#1a1a1a" stroke="#1a1a1a" stroke-width="0.15" textLength="4.30" lengthAdjust="spacingAndGlyphs" >5</text>
<line x1="138.90" y1="527.20" x2="141.50" y2="527.20" stroke="#1a1a1a" stroke-width="0.9" />
<text x="136.10" y="530.05" font-size="8.0" text-anchor="end" font-weight="normal" fill="#1a1a1a" stroke="#1a1a1a" stroke-width="0.15" textLength="4.30" lengthAdjust="spacingAndGlyphs" >0</text>
<line x1="150.85" y1="488.10" x2="150.85" y2="500.80" stroke="#777" stroke-width="0.8" />
<line x1="147.46" y1="488.10" x2="154.24" y2="488.10" stroke="#555" stroke-width="0.8" />
<line x1="147.46" y1="500.80" x2="154.24" y2="500.80" stroke="#555" stroke-width="0.8" />
<rect x="144.80" y="489.50" width="12.10" height="6.40" fill="#ec9aa9" stroke="#4a4a4a" stroke-width="0.8"/>
<line x1="144.80" y1="492.00" x2="156.90" y2="492.00" stroke="#4a4a4a" stroke-width="0.8" />
<circle cx="150.85" cy="488.10" r="0.85" fill="#d0102e"/>
<circle cx="150.85" cy="500.80" r="0.85" fill="#d0102e"/>
<circle cx="146.71" cy="495.88" r="0.85" fill="#d0102e"/>
<circle cx="147.96" cy="494.19" r="0.85" fill="#d0102e"/>
<circle cx="154.49" cy="493.51" r="0.85" fill="#d0102e"/>
<circle cx="147.60" cy="492.00" r="0.85" fill="#d0102e"/>
<circle cx="150.37" cy="495.33" r="0.85" fill="#d0102e"/>
<circle cx="151.08" cy="490.39" r="0.85" fill="#d0102e"/>
<line x1="168.35" y1="466.30" x2="168.35" y2="490.50" stroke="#777" stroke-width="0.8" />
<line x1="164.96" y1="466.30" x2="171.74" y2="466.30" stroke="#555" stroke-width="0.8" />
<line x1="164.96" y1="490.50" x2="171.74" y2="490.50" stroke="#555" stroke-width="0.8" />
<rect x="162.30" y="469.80" width="12.10" height="14.00" fill="#8db0d2" stroke="#3a3a4a" stroke-width="0.8"/>
<line x1="162.30" y1="476.50" x2="174.40" y2="476.50" stroke="#3a3a4a" stroke-width="0.8" />
<circle cx="168.35" cy="466.30" r="0.85" fill="#1f5a96"/>
<circle cx="168.35" cy="490.50" r="0.85" fill="#1f5a96"/>
<circle cx="165.93" cy="482.13" r="0.85" fill="#1f5a96"/>
<circle cx="165.24" cy="473.90" r="0.85" fill="#1f5a96"/>
<circle cx="169.44" cy="482.30" r="0.85" fill="#1f5a96"/>
<circle cx="164.10" cy="479.97" r="0.85" fill="#1f5a96"/>
<circle cx="170.20" cy="475.02" r="0.85" fill="#1f5a96"/>
<circle cx="166.77" cy="474.48" r="0.85" fill="#1f5a96"/>
<circle cx="170.41" cy="479.23" r="0.85" fill="#1f5a96"/>
<circle cx="169.73" cy="472.34" r="0.85" fill="#1f5a96"/>
<circle cx="171.40" cy="483.22" r="0.85" fill="#1f5a96"/>
<circle cx="172.10" cy="477.89" r="0.85" fill="#1f5a96"/>
<circle cx="164.99" cy="482.82" r="0.85" fill="#1f5a96"/>
<circle cx="167.18" cy="474.27" r="0.85" fill="#1f5a96"/>
<circle cx="167.66" cy="481.01" r="0.85" fill="#1f5a96"/>
<circle cx="167.16" cy="478.94" r="0.85" fill="#1f5a96"/>
<circle cx="168.84" cy="470.76" r="0.85" fill="#1f5a96"/>
<circle cx="169.99" cy="471.82" r="0.85" fill="#1f5a96"/>
<text x="167.70" y="463.70" font-size="9.0" text-anchor="middle" font-weight="bold" fill="#1a1a1a" textLength="11.60" lengthAdjust="spacingAndGlyphs" >***</text>
<text x="160.20" y="540.40" font-size="10.2" text-anchor="middle" font-weight="normal" fill="#1a1a1a" stroke="#1a1a1a" stroke-width="0.15" textLength="19.70" lengthAdjust="spacingAndGlyphs" >RRM2</text>
<text x="186.60" y="434.40" font-size="12.2" text-anchor="start" font-weight="bold" fill="#000" >H</text>
<rect x="217.90" y="436.20" width="4.30" height="4.20" fill="#d0102e" />
<text x="225.70" y="440.70" font-size="6.9" text-anchor="start" font-weight="normal" fill="#1a1a1a" stroke="#1a1a1a" stroke-width="0.15" textLength="20.20" lengthAdjust="spacingAndGlyphs" >T-cells</text>
<rect x="251.10" y="436.20" width="4.30" height="4.20" fill="#1f5a96" />
<text x="258.90" y="440.70" font-size="6.9" text-anchor="start" font-weight="normal" fill="#1a1a1a" stroke="#1a1a1a" stroke-width="0.15" textLength="12.50" lengthAdjust="spacingAndGlyphs" >ATL</text>
<rect x="279.30" y="436.20" width="4.30" height="4.20" fill="#38c048" />
<text x="287.10" y="440.70" font-size="6.9" text-anchor="start" font-weight="normal" fill="#1a1a1a" stroke="#1a1a1a" stroke-width="0.15" textLength="45.50" lengthAdjust="spacingAndGlyphs" >ATL/shORP4L</text>
<rect x="338.60" y="436.20" width="4.30" height="4.20" fill="#5b2a86" />
<text x="346.40" y="440.70" font-size="6.9" text-anchor="start" font-weight="normal" fill="#1a1a1a" stroke="#1a1a1a" stroke-width="0.15" textLength="32.50" lengthAdjust="spacingAndGlyphs" >ATL/PFTα</text>
<text transform="translate(194.00,487.20) rotate(-90)" x="0" y="0" font-size="9.8" text-anchor="middle" font-weight="normal" fill="#1a1a1a" stroke="#1a1a1a" stroke-width="0.15" textLength="53.50" lengthAdjust="spacingAndGlyphs">Expression level</text>
<line x1="213.80" y1="446.90" x2="213.80" y2="527.90" stroke="#1a1a1a" stroke-width="1.1" />
<line x1="213.30" y1="527.30" x2="262.90" y2="527.30" stroke="#1a1a1a" stroke-width="1.1" />
<line x1="211.20" y1="450.40" x2="213.80" y2="450.40" stroke="#1a1a1a" stroke-width="0.9" />
<text x="208.40" y="453.25" font-size="8.0" text-anchor="end" font-weight="normal" fill="#1a1a1a" stroke="#1a1a1a" stroke-width="0.15" textLength="8.60" lengthAdjust="spacingAndGlyphs" >25</text>
<line x1="211.20" y1="465.80" x2="213.80" y2="465.80" stroke="#1a1a1a" stroke-width="0.9" />
<text x="208.40" y="468.65" font-size="8.0" text-anchor="end" font-weight="normal" fill="#1a1a1a" stroke="#1a1a1a" stroke-width="0.15" textLength="8.60" lengthAdjust="spacingAndGlyphs" >20</text>
<line x1="211.20" y1="481.20" x2="213.80" y2="481.20" stroke="#1a1a1a" stroke-width="0.9" />
<text x="208.40" y="484.05" font-size="8.0" text-anchor="end" font-weight="normal" fill="#1a1a1a" stroke="#1a1a1a" stroke-width="0.15" textLength="8.60" lengthAdjust="spacingAndGlyphs" >15</text>
<line x1="211.20" y1="496.50" x2="213.80" y2="496.50" stroke="#1a1a1a" stroke-width="0.9" />
<text x="208.40" y="499.35" font-size="8.0" text-anchor="end" font-weight="normal" fill="#1a1a1a" stroke="#1a1a1a" stroke-width="0.15" textLength="8.60" lengthAdjust="spacingAndGlyphs" >10</text>
<line x1="211.20" y1="511.90" x2="213.80" y2="511.90" stroke="#1a1a1a" stroke-width="0.9" />
<text x="208.40" y="514.75" font-size="8.0" text-anchor="end" font-weight="normal" fill="#1a1a1a" stroke="#1a1a1a" stroke-width="0.15" textLength="4.30" lengthAdjust="spacingAndGlyphs" >5</text>
<line x1="211.20" y1="527.30" x2="213.80" y2="527.30" stroke="#1a1a1a" stroke-width="0.9" />
<text x="208.40" y="530.15" font-size="8.0" text-anchor="end" font-weight="normal" fill="#1a1a1a" stroke="#1a1a1a" stroke-width="0.15" textLength="4.30" lengthAdjust="spacingAndGlyphs" >0</text>
<line x1="219.60" y1="510.50" x2="219.60" y2="516.80" stroke="#777" stroke-width="0.8" />
<line x1="217.08" y1="510.50" x2="222.12" y2="510.50" stroke="#555" stroke-width="0.8" />
<line x1="217.08" y1="516.80" x2="222.12" y2="516.80" stroke="#555" stroke-width="0.8" />
<rect x="216.80" y="511.80" width="5.60" height="1.80" fill="#a084c0" stroke="#4a4a4a" stroke-width="0.8"/>
<line x1="216.80" y1="512.60" x2="222.40" y2="512.60" stroke="#4a4a4a" stroke-width="0.8" />
<circle cx="219.60" cy="510.50" r="0.85" fill="#5b2a86"/>
<circle cx="219.60" cy="516.80" r="0.85" fill="#5b2a86"/>
<circle cx="220.51" cy="512.79" r="0.85" fill="#5b2a86"/>
<line x1="232.10" y1="467.70" x2="232.10" y2="508.40" stroke="#777" stroke-width="0.8" />
<line x1="229.64" y1="467.70" x2="234.56" y2="467.70" stroke="#555" stroke-width="0.8" />
<line x1="229.64" y1="508.40" x2="234.56" y2="508.40" stroke="#555" stroke-width="0.8" />
<rect x="227.70" y="471.90" width="8.80" height="21.80" fill="#8db0d2" stroke="#3a3a4a" stroke-width="0.8"/>
<line x1="227.70" y1="481.20" x2="236.50" y2="481.20" stroke="#3a3a4a" stroke-width="0.8" />
<circle cx="232.10" cy="467.70" r="0.85" fill="#1f5a96"/>
<circle cx="232.10" cy="508.40" r="0.85" fill="#1f5a96"/>
<circle cx="233.02" cy="474.48" r="0.85" fill="#1f5a96"/>
<circle cx="229.61" cy="473.86" r="0.85" fill="#1f5a96"/>
<circle cx="232.51" cy="485.60" r="0.85" fill="#1f5a96"/>
<circle cx="233.66" cy="479.09" r="0.85" fill="#1f5a96"/>
<line x1="244.40" y1="506.50" x2="244.40" y2="523.00" stroke="#777" stroke-width="0.8" />
<line x1="242.10" y1="506.50" x2="246.70" y2="506.50" stroke="#555" stroke-width="0.8" />
<line x1="242.10" y1="523.00" x2="246.70" y2="523.00" stroke="#555" stroke-width="0.8" />
<rect x="240.30" y="506.70" width="8.20" height="11.90" fill="#9fe3a0" stroke="#4a4a4a" stroke-width="0.8"/>
<line x1="240.30" y1="512.80" x2="248.50" y2="512.80" stroke="#4a4a4a" stroke-width="0.8" />
<circle cx="244.40" cy="506.50" r="0.85" fill="#2fbf3f"/>
<circle cx="244.40" cy="523.00" r="0.85" fill="#2fbf3f"/>
<circle cx="242.94" cy="506.95" r="0.85" fill="#2fbf3f"/>
<circle cx="242.02" cy="507.50" r="0.85" fill="#2fbf3f"/>
<circle cx="244.31" cy="510.76" r="0.85" fill="#2fbf3f"/>
<circle cx="241.56" cy="512.81" r="0.85" fill="#2fbf3f"/>
<line x1="256.35" y1="510.80" x2="256.35" y2="521.40" stroke="#777" stroke-width="0.8" />
<line x1="253.91" y1="510.80" x2="258.79" y2="510.80" stroke="#555" stroke-width="0.8" />
<line x1="253.91" y1="521.40" x2="258.79" y2="521.40" stroke="#555" stroke-width="0.8" />
<rect x="252.00" y="513.90" width="8.70" height="5.80" fill="#a084c0" stroke="#4a4a4a" stroke-width="0.8"/>
<line x1="252.00" y1="516.80" x2="260.70" y2="516.80" stroke="#4a4a4a" stroke-width="0.8" />
<circle cx="256.35" cy="510.80" r="0.85" fill="#5b2a86"/>
<circle cx="256.35" cy="521.40" r="0.85" fill="#5b2a86"/>
<circle cx="258.81" cy="514.14" r="0.85" fill="#5b2a86"/>
<circle cx="259.20" cy="515.01" r="0.85" fill="#5b2a86"/>
<circle cx="259.30" cy="514.73" r="0.85" fill="#5b2a86"/>
<circle cx="256.14" cy="519.60" r="0.85" fill="#5b2a86"/>
<text x="232.10" y="465.20" font-size="9.0" text-anchor="middle" font-weight="bold" fill="#1a1a1a" textLength="11.60" lengthAdjust="spacingAndGlyphs" >***</text>
<text x="237.90" y="540.40" font-size="10.2" text-anchor="middle" font-weight="normal" fill="#1a1a1a" stroke="#1a1a1a" stroke-width="0.15" textLength="22.90" lengthAdjust="spacingAndGlyphs" >CCNB1</text>
<line x1="281.30" y1="446.90" x2="281.30" y2="527.70" stroke="#1a1a1a" stroke-width="1.1" />
<line x1="280.80" y1="527.10" x2="329.50" y2="527.10" stroke="#1a1a1a" stroke-width="1.1" />
<line x1="278.70" y1="450.40" x2="281.30" y2="450.40" stroke="#1a1a1a" stroke-width="0.9" />
<text x="275.90" y="453.25" font-size="8.0" text-anchor="end" font-weight="normal" fill="#1a1a1a" stroke="#1a1a1a" stroke-width="0.15" textLength="8.60" lengthAdjust="spacingAndGlyphs" >15</text>
<line x1="278.70" y1="475.80" x2="281.30" y2="475.80" stroke="#1a1a1a" stroke-width="0.9" />
<text x="275.90" y="478.65" font-size="8.0" text-anchor="end" font-weight="normal" fill="#1a1a1a" stroke="#1a1a1a" stroke-width="0.15" textLength="8.60" lengthAdjust="spacingAndGlyphs" >10</text>
<line x1="278.70" y1="501.40" x2="281.30" y2="501.40" stroke="#1a1a1a" stroke-width="0.9" />
<text x="275.90" y="504.25" font-size="8.0" text-anchor="end" font-weight="normal" fill="#1a1a1a" stroke="#1a1a1a" stroke-width="0.15" textLength="4.30" lengthAdjust="spacingAndGlyphs" >5</text>
<line x1="278.70" y1="527.10" x2="281.30" y2="527.10" stroke="#1a1a1a" stroke-width="0.9" />
<text x="275.90" y="529.95" font-size="8.0" text-anchor="end" font-weight="normal" fill="#1a1a1a" stroke="#1a1a1a" stroke-width="0.15" textLength="4.30" lengthAdjust="spacingAndGlyphs" >0</text>
<line x1="287.50" y1="505.00" x2="287.50" y2="513.80" stroke="#777" stroke-width="0.8" />
<line x1="284.98" y1="505.00" x2="290.02" y2="505.00" stroke="#555" stroke-width="0.8" />
<line x1="284.98" y1="513.80" x2="290.02" y2="513.80" stroke="#555" stroke-width="0.8" />
<rect x="284.70" y="507.20" width="5.60" height="1.80" fill="#a084c0" stroke="#4a4a4a" stroke-width="0.8"/>
<line x1="284.70" y1="508.00" x2="290.30" y2="508.00" stroke="#4a4a4a" stroke-width="0.8" />
<circle cx="287.50" cy="505.00" r="0.85" fill="#5b2a86"/>
<circle cx="287.50" cy="513.80" r="0.85" fill="#5b2a86"/>
<circle cx="287.42" cy="508.57" r="0.85" fill="#5b2a86"/>
<line x1="299.15" y1="458.00" x2="299.15" y2="500.00" stroke="#777" stroke-width="0.8" />
<line x1="296.83" y1="458.00" x2="301.47" y2="458.00" stroke="#555" stroke-width="0.8" />
<line x1="296.83" y1="500.00" x2="301.47" y2="500.00" stroke="#555" stroke-width="0.8" />
<rect x="295.00" y="473.00" width="8.30" height="21.50" fill="#8db0d2" stroke="#3a3a4a" stroke-width="0.8"/>
<line x1="295.00" y1="486.30" x2="303.30" y2="486.30" stroke="#3a3a4a" stroke-width="0.8" />
<circle cx="299.15" cy="458.00" r="0.85" fill="#1f5a96"/>
<circle cx="299.15" cy="500.00" r="0.85" fill="#1f5a96"/>
<circle cx="298.81" cy="487.03" r="0.85" fill="#1f5a96"/>
<circle cx="300.45" cy="489.33" r="0.85" fill="#1f5a96"/>
<circle cx="298.11" cy="482.60" r="0.85" fill="#1f5a96"/>
<circle cx="300.89" cy="475.97" r="0.85" fill="#1f5a96"/>
<line x1="311.25" y1="502.00" x2="311.25" y2="518.80" stroke="#777" stroke-width="0.8" />
<line x1="309.15" y1="502.00" x2="313.35" y2="502.00" stroke="#555" stroke-width="0.8" />
<line x1="309.15" y1="518.80" x2="313.35" y2="518.80" stroke="#555" stroke-width="0.8" />
<rect x="307.50" y="507.50" width="7.50" height="10.50" fill="#9fe3a0" stroke="#4a4a4a" stroke-width="0.8"/>
<line x1="307.50" y1="512.50" x2="315.00" y2="512.50" stroke="#4a4a4a" stroke-width="0.8" />
<circle cx="311.25" cy="502.00" r="0.85" fill="#2fbf3f"/>
<circle cx="311.25" cy="518.80" r="0.85" fill="#2fbf3f"/>
<circle cx="311.66" cy="517.38" r="0.85" fill="#2fbf3f"/>
<circle cx="309.96" cy="510.11" r="0.85" fill="#2fbf3f"/>
<circle cx="308.61" cy="516.74" r="0.85" fill="#2fbf3f"/>
<line x1="323.25" y1="507.50" x2="323.25" y2="522.50" stroke="#777" stroke-width="0.8" />
<line x1="321.15" y1="507.50" x2="325.35" y2="507.50" stroke="#555" stroke-width="0.8" />
<line x1="321.15" y1="522.50" x2="325.35" y2="522.50" stroke="#555" stroke-width="0.8" />
<rect x="319.50" y="512.00" width="7.50" height="9.30" fill="#a084c0" stroke="#4a4a4a" stroke-width="0.8"/>
<line x1="319.50" y1="516.50" x2="327.00" y2="516.50" stroke="#4a4a4a" stroke-width="0.8" />
<circle cx="323.25" cy="507.50" r="0.85" fill="#5b2a86"/>
<circle cx="323.25" cy="522.50" r="0.85" fill="#5b2a86"/>
<circle cx="324.31" cy="517.19" r="0.85" fill="#5b2a86"/>
<circle cx="325.61" cy="520.71" r="0.85" fill="#5b2a86"/>
<circle cx="320.98" cy="515.14" r="0.85" fill="#5b2a86"/>
<circle cx="325.56" cy="514.41" r="0.85" fill="#5b2a86"/>
<text x="299.30" y="455.70" font-size="9.0" text-anchor="middle" font-weight="bold" fill="#1a1a1a" textLength="11.60" lengthAdjust="spacingAndGlyphs" >***</text>
<text x="305.50" y="540.40" font-size="10.2" text-anchor="middle" font-weight="normal" fill="#1a1a1a" stroke="#1a1a1a" stroke-width="0.15" textLength="23.20" lengthAdjust="spacingAndGlyphs" >CCNB2</text>
<line x1="347.20" y1="446.90" x2="347.20" y2="527.70" stroke="#1a1a1a" stroke-width="1.1" />
<line x1="346.70" y1="527.10" x2="396.20" y2="527.10" stroke="#1a1a1a" stroke-width="1.1" />
<line x1="344.60" y1="450.40" x2="347.20" y2="450.40" stroke="#1a1a1a" stroke-width="0.9" />
<text x="341.80" y="453.25" font-size="8.0" text-anchor="end" font-weight="normal" fill="#1a1a1a" stroke="#1a1a1a" stroke-width="0.15" textLength="8.60" lengthAdjust="spacingAndGlyphs" >15</text>
<line x1="344.60" y1="475.80" x2="347.20" y2="475.80" stroke="#1a1a1a" stroke-width="0.9" />
<text x="341.80" y="478.65" font-size="8.0" text-anchor="end" font-weight="normal" fill="#1a1a1a" stroke="#1a1a1a" stroke-width="0.15" textLength="8.60" lengthAdjust="spacingAndGlyphs" >10</text>
<line x1="344.60" y1="501.40" x2="347.20" y2="501.40" stroke="#1a1a1a" stroke-width="0.9" />
<text x="341.80" y="504.25" font-size="8.0" text-anchor="end" font-weight="normal" fill="#1a1a1a" stroke="#1a1a1a" stroke-width="0.15" textLength="4.30" lengthAdjust="spacingAndGlyphs" >5</text>
<line x1="344.60" y1="527.10" x2="347.20" y2="527.10" stroke="#1a1a1a" stroke-width="0.9" />
<text x="341.80" y="529.95" font-size="8.0" text-anchor="end" font-weight="normal" fill="#1a1a1a" stroke="#1a1a1a" stroke-width="0.15" textLength="4.30" lengthAdjust="spacingAndGlyphs" >0</text>
<line x1="353.70" y1="514.10" x2="353.70" y2="520.00" stroke="#777" stroke-width="0.8" />
<line x1="351.18" y1="514.10" x2="356.22" y2="514.10" stroke="#555" stroke-width="0.8" />
<line x1="351.18" y1="520.00" x2="356.22" y2="520.00" stroke="#555" stroke-width="0.8" />
<rect x="350.90" y="514.60" width="5.60" height="1.40" fill="#a084c0" stroke="#4a4a4a" stroke-width="0.8"/>
<line x1="350.90" y1="515.30" x2="356.50" y2="515.30" stroke="#4a4a4a" stroke-width="0.8" />
<circle cx="353.70" cy="514.10" r="0.85" fill="#5b2a86"/>
<circle cx="353.70" cy="520.00" r="0.85" fill="#5b2a86"/>
<circle cx="354.94" cy="515.12" r="0.85" fill="#5b2a86"/>
<line x1="365.45" y1="473.20" x2="365.45" y2="509.60" stroke="#777" stroke-width="0.8" />
<line x1="363.07" y1="473.20" x2="367.83" y2="473.20" stroke="#555" stroke-width="0.8" />
<line x1="363.07" y1="509.60" x2="367.83" y2="509.60" stroke="#555" stroke-width="0.8" />
<rect x="361.20" y="484.10" width="8.50" height="21.30" fill="#8db0d2" stroke="#3a3a4a" stroke-width="0.8"/>
<line x1="361.20" y1="498.50" x2="369.70" y2="498.50" stroke="#3a3a4a" stroke-width="0.8" />
<circle cx="365.45" cy="473.20" r="0.85" fill="#1f5a96"/>
<circle cx="365.45" cy="509.60" r="0.85" fill="#1f5a96"/>
<circle cx="366.71" cy="486.72" r="0.85" fill="#1f5a96"/>
<circle cx="367.44" cy="494.79" r="0.85" fill="#1f5a96"/>
<circle cx="368.27" cy="498.55" r="0.85" fill="#1f5a96"/>
<circle cx="365.23" cy="489.54" r="0.85" fill="#1f5a96"/>
<line x1="377.75" y1="513.00" x2="377.75" y2="524.00" stroke="#777" stroke-width="0.8" />
<line x1="375.48" y1="513.00" x2="380.02" y2="513.00" stroke="#555" stroke-width="0.8" />
<line x1="375.48" y1="524.00" x2="380.02" y2="524.00" stroke="#555" stroke-width="0.8" />
<rect x="373.70" y="513.60" width="8.10" height="6.90" fill="#9fe3a0" stroke="#4a4a4a" stroke-width="0.8"/>
<line x1="373.70" y1="517.00" x2="381.80" y2="517.00" stroke="#4a4a4a" stroke-width="0.8" />
<circle cx="377.75" cy="513.00" r="0.85" fill="#2fbf3f"/>
<circle cx="377.75" cy="524.00" r="0.85" fill="#2fbf3f"/>
<circle cx="379.29" cy="519.05" r="0.85" fill="#2fbf3f"/>
<circle cx="379.20" cy="518.16" r="0.85" fill="#2fbf3f"/>
<circle cx="380.76" cy="514.34" r="0.85" fill="#2fbf3f"/>
<line x1="389.95" y1="510.10" x2="389.95" y2="522.70" stroke="#777" stroke-width="0.8" />
<line x1="387.63" y1="510.10" x2="392.27" y2="510.10" stroke="#555" stroke-width="0.8" />
<line x1="387.63" y1="522.70" x2="392.27" y2="522.70" stroke="#555" stroke-width="0.8" />
<rect x="385.80" y="516.20" width="8.30" height="5.10" fill="#a084c0" stroke="#4a4a4a" stroke-width="0.8"/>
<line x1="385.80" y1="518.80" x2="394.10" y2="518.80" stroke="#4a4a4a" stroke-width="0.8" />
<circle cx="389.95" cy="510.10" r="0.85" fill="#5b2a86"/>
<circle cx="389.95" cy="522.70" r="0.85" fill="#5b2a86"/>
<circle cx="390.89" cy="520.92" r="0.85" fill="#5b2a86"/>
<circle cx="389.46" cy="517.03" r="0.85" fill="#5b2a86"/>
<circle cx="390.23" cy="521.29" r="0.85" fill="#5b2a86"/>
<circle cx="391.72" cy="517.69" r="0.85" fill="#5b2a86"/>
<text x="365.90" y="470.20" font-size="9.0" text-anchor="middle" font-weight="bold" fill="#1a1a1a" textLength="11.60" lengthAdjust="spacingAndGlyphs" >***</text>
<text x="371.90" y="540.40" font-size="10.2" text-anchor="middle" font-weight="normal" fill="#1a1a1a" stroke="#1a1a1a" stroke-width="0.15" textLength="19.70" lengthAdjust="spacingAndGlyphs" >RRM2</text>
<rect x="403.8" y="426.7" width="2.5" height="7.8" fill="#000"/>
<rect x="431.70" y="473.00" width="81.30" height="11.40" fill="#c6c6c6" />
<rect x="434.09" y="477.17" width="7.42" height="2.26" rx="0.8" fill="rgb(107,107,107)" opacity="0.71" filter="url(#blur1)"/>
<rect x="443.61" y="477.19" width="7.38" height="2.22" rx="0.8" fill="rgb(114,114,114)" opacity="0.69" filter="url(#blur1)"/>
<rect x="453.54" y="476.89" width="7.92" height="2.81" rx="0.8" fill="rgb(14,14,14)" opacity="0.96" filter="url(#blur1)"/>
<rect x="463.02" y="476.88" width="7.95" height="2.84" rx="0.8" fill="rgb(9,9,9)" opacity="0.97" filter="url(#blur1)"/>
<rect x="472.89" y="477.17" width="7.42" height="2.26" rx="0.8" fill="rgb(107,107,107)" opacity="0.71" filter="url(#blur1)"/>
<rect x="482.65" y="477.12" width="7.50" height="2.35" rx="0.8" fill="rgb(92,92,92)" opacity="0.75" filter="url(#blur1)"/>
<rect x="492.77" y="477.15" width="7.45" height="2.29" rx="0.8" fill="rgb(101,101,101)" opacity="0.72" filter="url(#blur1)"/>
<rect x="502.49" y="477.17" width="7.42" height="2.26" rx="0.8" fill="rgb(107,107,107)" opacity="0.71" filter="url(#blur1)"/>
<rect x="432.20" y="473.50" width="80.30" height="10.40" fill="none" stroke="#222" stroke-width="1.1"/>
<text x="427.80" y="481.50" font-size="7.9" text-anchor="end" font-weight="normal" fill="#111" stroke="#111" stroke-width="0.15" >CCNB1</text>
<rect x="431.70" y="486.40" width="81.30" height="11.70" fill="#c2c2c2" />
<rect x="434.23" y="490.87" width="7.15" height="1.97" rx="0.8" fill="rgb(157,157,157)" opacity="0.57" filter="url(#blur1)"/>
<rect x="443.69" y="490.83" width="7.22" height="2.04" rx="0.8" fill="rgb(144,144,144)" opacity="0.61" filter="url(#blur1)"/>
<rect x="453.54" y="490.44" width="7.92" height="2.81" rx="0.8" fill="rgb(14,14,14)" opacity="0.96" filter="url(#blur1)"/>
<rect x="463.04" y="490.44" width="7.92" height="2.81" rx="0.8" fill="rgb(14,14,14)" opacity="0.96" filter="url(#blur1)"/>
<rect x="472.93" y="490.76" width="7.35" height="2.19" rx="0.8" fill="rgb(120,120,120)" opacity="0.68" filter="url(#blur1)"/>
<rect x="482.72" y="490.76" width="7.35" height="2.19" rx="0.8" fill="rgb(120,120,120)" opacity="0.68" filter="url(#blur1)"/>
<rect x="492.82" y="490.76" width="7.35" height="2.19" rx="0.8" fill="rgb(120,120,120)" opacity="0.68" filter="url(#blur1)"/>
<rect x="502.52" y="490.75" width="7.36" height="2.20" rx="0.8" fill="rgb(118,118,118)" opacity="0.68" filter="url(#blur1)"/>
<rect x="432.20" y="486.90" width="80.30" height="10.70" fill="none" stroke="#222" stroke-width="1.1"/>
<text x="427.80" y="495.05" font-size="7.9" text-anchor="end" font-weight="normal" fill="#111" stroke="#111" stroke-width="0.15" >CCNB2</text>
<rect x="431.70" y="500.20" width="81.30" height="11.50" fill="#e0e0e0" />
<rect x="434.24" y="504.58" width="7.12" height="1.93" rx="0.8" fill="rgb(162,162,162)" opacity="0.56" filter="url(#blur1)"/>
<rect x="443.65" y="504.49" width="7.30" height="2.13" rx="0.8" fill="rgb(129,129,129)" opacity="0.65" filter="url(#blur1)"/>
<rect x="453.57" y="504.18" width="7.85" height="2.74" rx="0.8" fill="rgb(27,27,27)" opacity="0.93" filter="url(#blur1)"/>
<rect x="463.02" y="504.13" width="7.95" height="2.84" rx="0.8" fill="rgb(9,9,9)" opacity="0.97" filter="url(#blur1)"/>
<rect x="472.80" y="504.32" width="7.60" height="2.46" rx="0.8" fill="rgb(74,74,74)" opacity="0.80" filter="url(#blur1)"/>
<rect x="482.65" y="504.38" width="7.50" height="2.35" rx="0.8" fill="rgb(92,92,92)" opacity="0.75" filter="url(#blur1)"/>
<rect x="492.90" y="504.54" width="7.20" height="2.02" rx="0.8" fill="rgb(148,148,148)" opacity="0.60" filter="url(#blur1)"/>
<rect x="502.62" y="504.57" width="7.15" height="1.97" rx="0.8" fill="rgb(157,157,157)" opacity="0.57" filter="url(#blur1)"/>
<rect x="432.20" y="500.70" width="80.30" height="10.50" fill="none" stroke="#222" stroke-width="1.1"/>
<text x="427.80" y="508.75" font-size="7.9" text-anchor="end" font-weight="normal" fill="#111" stroke="#111" stroke-width="0.15" >RRM2</text>
<rect x="431.70" y="515.00" width="81.30" height="11.90" fill="#cbcbcb" />
<rect x="432.90" y="519.75" width="9.8" height="3.2" rx="1.4" fill="#222" filter="url(#blur1)"/>
<rect x="442.40" y="519.75" width="9.8" height="3.2" rx="1.4" fill="#222" filter="url(#blur1)"/>
<rect x="452.60" y="519.75" width="9.8" height="3.2" rx="1.4" fill="#222" filter="url(#blur1)"/>
<rect x="462.10" y="519.75" width="9.8" height="3.2" rx="1.4" fill="#222" filter="url(#blur1)"/>
<rect x="471.70" y="519.75" width="9.8" height="3.2" rx="1.4" fill="#222" filter="url(#blur1)"/>
<rect x="481.50" y="519.75" width="9.8" height="3.2" rx="1.4" fill="#222" filter="url(#blur1)"/>
<rect x="491.60" y="519.75" width="9.8" height="3.2" rx="1.4" fill="#222" filter="url(#blur1)"/>
<rect x="501.30" y="519.75" width="9.8" height="3.2" rx="1.4" fill="#222" filter="url(#blur1)"/>
<rect x="432.20" y="515.50" width="80.30" height="10.90" fill="none" stroke="#222" stroke-width="1.1"/>
<text x="427.80" y="523.75" font-size="7.9" text-anchor="end" font-weight="normal" fill="#111" stroke="#111" stroke-width="0.15" >Actin</text>
<line x1="434.60" y1="469.30" x2="448.30" y2="469.30" stroke="#111" stroke-width="0.9" />
<line x1="453.70" y1="469.30" x2="467.90" y2="469.30" stroke="#111" stroke-width="0.9" />
<line x1="474.50" y1="469.30" x2="488.80" y2="469.30" stroke="#111" stroke-width="0.9" />
<line x1="494.10" y1="469.30" x2="508.10" y2="469.30" stroke="#111" stroke-width="0.9" />
<text transform="translate(444.00,465.50) rotate(-90)" x="0" y="0" font-size="6.9" text-anchor="start" font-weight="normal" fill="#111" stroke="#111" stroke-width="0.15" textLength="19.50" lengthAdjust="spacingAndGlyphs">T-cells</text>
<text transform="translate(463.00,465.50) rotate(-90)" x="0" y="0" font-size="6.9" text-anchor="start" font-weight="normal" fill="#111" stroke="#111" stroke-width="0.15" textLength="23.60" lengthAdjust="spacingAndGlyphs">ATL#13</text>
<text transform="translate(477.90,465.50) rotate(-90)" x="0" y="0" font-size="6.9" text-anchor="start" font-weight="normal" fill="#111" stroke="#111" stroke-width="0.15" textLength="23.60" lengthAdjust="spacingAndGlyphs">ATL#13</text>
<text transform="translate(487.30,465.50) rotate(-90)" x="0" y="0" font-size="6.9" text-anchor="start" font-weight="normal" fill="#111" stroke="#111" stroke-width="0.15" textLength="29.10" lengthAdjust="spacingAndGlyphs">shORP4L</text>
<text transform="translate(499.90,465.50) rotate(-90)" x="0" y="0" font-size="6.9" text-anchor="start" font-weight="normal" fill="#111" stroke="#111" stroke-width="0.15" textLength="23.60" lengthAdjust="spacingAndGlyphs">ATL#13</text>
<text transform="translate(508.30,465.50) rotate(-90)" x="0" y="0" font-size="6.9" text-anchor="start" font-weight="normal" fill="#111" stroke="#111" stroke-width="0.15" textLength="16.30" lengthAdjust="spacingAndGlyphs">PFTα</text>
<text x="7.20" y="562.80" font-size="12.2" text-anchor="start" font-weight="bold" fill="#000" >J</text>
<rect x="41.80" y="558.50" width="4.30" height="4.20" fill="#d0102e" />
<text x="49.60" y="563.00" font-size="6.9" text-anchor="start" font-weight="normal" fill="#1a1a1a" stroke="#1a1a1a" stroke-width="0.15" textLength="20.00" lengthAdjust="spacingAndGlyphs" >T-cells</text>
<rect x="76.10" y="558.50" width="4.30" height="4.20" fill="#1f5a96" />
<text x="83.90" y="563.00" font-size="6.9" text-anchor="start" font-weight="normal" fill="#1a1a1a" stroke="#1a1a1a" stroke-width="0.15" >LCK/R26<tspan font-size="4.6" dy="-3.2">Tax</tspan><tspan dy="3.2"></tspan></text>
<rect x="41.80" y="570.50" width="4.30" height="4.20" fill="#38c048" />
<text x="49.60" y="575.00" font-size="6.9" text-anchor="start" font-weight="normal" fill="#1a1a1a" stroke="#1a1a1a" stroke-width="0.15" >LCK/R26<tspan font-size="4.6" dy="-3.2">Tax</tspan><tspan dy="3.2">/shORP4L</tspan></text>
<rect x="126.20" y="570.50" width="4.30" height="4.20" fill="#5b2a86" />
<text x="134.00" y="575.00" font-size="6.9" text-anchor="start" font-weight="normal" fill="#1a1a1a" stroke="#1a1a1a" stroke-width="0.15" >LCK/R26<tspan font-size="4.6" dy="-3.2">Tax</tspan><tspan dy="3.2">/PFTα</tspan></text>
<text transform="translate(14.80,623.50) rotate(-90)" x="0" y="0" font-size="9.8" text-anchor="middle" font-weight="normal" fill="#1a1a1a" stroke="#1a1a1a" stroke-width="0.15" textLength="53.50" lengthAdjust="spacingAndGlyphs">Expression level</text>
<line x1="34.60" y1="583.10" x2="34.60" y2="664.40" stroke="#1a1a1a" stroke-width="1.1" />
<line x1="34.10" y1="663.80" x2="83.70" y2="663.80" stroke="#1a1a1a" stroke-width="1.1" />
<line x1="32.00" y1="586.90" x2="34.60" y2="586.90" stroke="#1a1a1a" stroke-width="0.9" />
<text x="29.20" y="589.75" font-size="8.0" text-anchor="end" font-weight="normal" fill="#1a1a1a" stroke="#1a1a1a" stroke-width="0.15" textLength="8.60" lengthAdjust="spacingAndGlyphs" >25</text>
<line x1="32.00" y1="602.30" x2="34.60" y2="602.30" stroke="#1a1a1a" stroke-width="0.9" />
<text x="29.20" y="605.15" font-size="8.0" text-anchor="end" font-weight="normal" fill="#1a1a1a" stroke="#1a1a1a" stroke-width="0.15" textLength="8.60" lengthAdjust="spacingAndGlyphs" >20</text>
<line x1="32.00" y1="617.70" x2="34.60" y2="617.70" stroke="#1a1a1a" stroke-width="0.9" />
<text x="29.20" y="620.55" font-size="8.0" text-anchor="end" font-weight="normal" fill="#1a1a1a" stroke="#1a1a1a" stroke-width="0.15" textLength="8.60" lengthAdjust="spacingAndGlyphs" >15</text>
<line x1="32.00" y1="633.10" x2="34.60" y2="633.10" stroke="#1a1a1a" stroke-width="0.9" />
<text x="29.20" y="635.95" font-size="8.0" text-anchor="end" font-weight="normal" fill="#1a1a1a" stroke="#1a1a1a" stroke-width="0.15" textLength="8.60" lengthAdjust="spacingAndGlyphs" >10</text>
<line x1="32.00" y1="648.50" x2="34.60" y2="648.50" stroke="#1a1a1a" stroke-width="0.9" />
<text x="29.20" y="651.35" font-size="8.0" text-anchor="end" font-weight="normal" fill="#1a1a1a" stroke="#1a1a1a" stroke-width="0.15" textLength="4.30" lengthAdjust="spacingAndGlyphs" >5</text>
<line x1="32.00" y1="663.80" x2="34.60" y2="663.80" stroke="#1a1a1a" stroke-width="0.9" />
<text x="29.20" y="666.65" font-size="8.0" text-anchor="end" font-weight="normal" fill="#1a1a1a" stroke="#1a1a1a" stroke-width="0.15" textLength="4.30" lengthAdjust="spacingAndGlyphs" >0</text>
<line x1="41.55" y1="642.70" x2="41.55" y2="652.90" stroke="#777" stroke-width="0.8" />
<line x1="39.28" y1="642.70" x2="43.82" y2="642.70" stroke="#555" stroke-width="0.8" />
<line x1="39.28" y1="652.90" x2="43.82" y2="652.90" stroke="#555" stroke-width="0.8" />
<rect x="37.50" y="645.20" width="8.10" height="7.70" fill="#ec9aa9" stroke="#4a4a4a" stroke-width="0.8"/>
<line x1="37.50" y1="650.50" x2="45.60" y2="650.50" stroke="#4a4a4a" stroke-width="0.8" />
<circle cx="41.55" cy="642.70" r="0.85" fill="#d0102e"/>
<circle cx="41.55" cy="652.90" r="0.85" fill="#d0102e"/>
<circle cx="39.77" cy="646.89" r="0.85" fill="#d0102e"/>
<circle cx="43.62" cy="649.48" r="0.85" fill="#d0102e"/>
<line x1="53.35" y1="603.80" x2="53.35" y2="620.20" stroke="#777" stroke-width="0.8" />
<line x1="50.91" y1="603.80" x2="55.79" y2="603.80" stroke="#555" stroke-width="0.8" />
<line x1="50.91" y1="620.20" x2="55.79" y2="620.20" stroke="#555" stroke-width="0.8" />
<rect x="49.00" y="606.20" width="8.70" height="11.50" fill="#8db0d2" stroke="#3a3a4a" stroke-width="0.8"/>
<line x1="49.00" y1="613.10" x2="57.70" y2="613.10" stroke="#3a3a4a" stroke-width="0.8" />
<circle cx="53.35" cy="603.80" r="0.85" fill="#1f5a96"/>
<circle cx="53.35" cy="620.20" r="0.85" fill="#1f5a96"/>
<circle cx="50.98" cy="606.83" r="0.85" fill="#1f5a96"/>
<circle cx="50.20" cy="611.17" r="0.85" fill="#1f5a96"/>
<line x1="65.85" y1="651.50" x2="65.85" y2="659.50" stroke="#777" stroke-width="0.8" />
<line x1="63.64" y1="651.50" x2="68.06" y2="651.50" stroke="#555" stroke-width="0.8" />
<line x1="63.64" y1="659.50" x2="68.06" y2="659.50" stroke="#555" stroke-width="0.8" />
<rect x="61.90" y="652.30" width="7.90" height="6.90" fill="#9fe3a0" stroke="#4a4a4a" stroke-width="0.8"/>
<line x1="61.90" y1="656.00" x2="69.80" y2="656.00" stroke="#4a4a4a" stroke-width="0.8" />
<circle cx="65.85" cy="651.50" r="0.85" fill="#2fbf3f"/>
<circle cx="65.85" cy="659.50" r="0.85" fill="#2fbf3f"/>
<circle cx="68.64" cy="656.33" r="0.85" fill="#2fbf3f"/>
<circle cx="63.59" cy="652.35" r="0.85" fill="#2fbf3f"/>
<line x1="77.70" y1="654.50" x2="77.70" y2="660.00" stroke="#777" stroke-width="0.8" />
<line x1="75.35" y1="654.50" x2="80.05" y2="654.50" stroke="#555" stroke-width="0.8" />
<line x1="75.35" y1="660.00" x2="80.05" y2="660.00" stroke="#555" stroke-width="0.8" />
<rect x="73.50" y="655.40" width="8.40" height="4.20" fill="#a084c0" stroke="#4a4a4a" stroke-width="0.8"/>
<line x1="73.50" y1="657.50" x2="81.90" y2="657.50" stroke="#4a4a4a" stroke-width="0.8" />
<circle cx="77.70" cy="654.50" r="0.85" fill="#5b2a86"/>
<circle cx="77.70" cy="660.00" r="0.85" fill="#5b2a86"/>
<circle cx="77.50" cy="658.53" r="0.85" fill="#5b2a86"/>
<circle cx="75.74" cy="658.18" r="0.85" fill="#5b2a86"/>
<text x="51.50" y="598.10" font-size="9.0" text-anchor="middle" font-weight="bold" fill="#1a1a1a" textLength="11.60" lengthAdjust="spacingAndGlyphs" >***</text>
<text x="59.20" y="676.70" font-size="10.2" text-anchor="middle" font-weight="normal" fill="#1a1a1a" stroke="#1a1a1a" stroke-width="0.15" textLength="22.90" lengthAdjust="spacingAndGlyphs" >CCNB1</text>
<line x1="103.80" y1="583.10" x2="103.80" y2="664.40" stroke="#1a1a1a" stroke-width="1.1" />
<line x1="103.30" y1="663.80" x2="152.90" y2="663.80" stroke="#1a1a1a" stroke-width="1.1" />
<line x1="101.20" y1="586.90" x2="103.80" y2="586.90" stroke="#1a1a1a" stroke-width="0.9" />
<text x="98.40" y="589.75" font-size="8.0" text-anchor="end" font-weight="normal" fill="#1a1a1a" stroke="#1a1a1a" stroke-width="0.15" textLength="8.60" lengthAdjust="spacingAndGlyphs" >15</text>
<line x1="101.20" y1="612.50" x2="103.80" y2="612.50" stroke="#1a1a1a" stroke-width="0.9" />
<text x="98.40" y="615.35" font-size="8.0" text-anchor="end" font-weight="normal" fill="#1a1a1a" stroke="#1a1a1a" stroke-width="0.15" textLength="8.60" lengthAdjust="spacingAndGlyphs" >10</text>
<line x1="101.20" y1="638.50" x2="103.80" y2="638.50" stroke="#1a1a1a" stroke-width="0.9" />
<text x="98.40" y="641.35" font-size="8.0" text-anchor="end" font-weight="normal" fill="#1a1a1a" stroke="#1a1a1a" stroke-width="0.15" textLength="4.30" lengthAdjust="spacingAndGlyphs" >5</text>
<line x1="101.20" y1="663.80" x2="103.80" y2="663.80" stroke="#1a1a1a" stroke-width="0.9" />
<text x="98.40" y="666.65" font-size="8.0" text-anchor="end" font-weight="normal" fill="#1a1a1a" stroke="#1a1a1a" stroke-width="0.15" textLength="4.30" lengthAdjust="spacingAndGlyphs" >0</text>
<line x1="109.60" y1="645.00" x2="109.60" y2="656.70" stroke="#777" stroke-width="0.8" />
<line x1="107.25" y1="645.00" x2="111.95" y2="645.00" stroke="#555" stroke-width="0.8" />
<line x1="107.25" y1="656.70" x2="111.95" y2="656.70" stroke="#555" stroke-width="0.8" />
<rect x="105.40" y="646.20" width="8.40" height="8.00" fill="#ec9aa9" stroke="#4a4a4a" stroke-width="0.8"/>
<line x1="105.40" y1="650.00" x2="113.80" y2="650.00" stroke="#4a4a4a" stroke-width="0.8" />
<circle cx="109.60" cy="645.00" r="0.85" fill="#d0102e"/>
<circle cx="109.60" cy="656.70" r="0.85" fill="#d0102e"/>
<circle cx="111.62" cy="652.11" r="0.85" fill="#d0102e"/>
<circle cx="111.26" cy="653.01" r="0.85" fill="#d0102e"/>
<line x1="121.55" y1="610.00" x2="121.55" y2="636.90" stroke="#777" stroke-width="0.8" />
<line x1="119.17" y1="610.00" x2="123.93" y2="610.00" stroke="#555" stroke-width="0.8" />
<line x1="119.17" y1="636.90" x2="123.93" y2="636.90" stroke="#555" stroke-width="0.8" />
<rect x="117.30" y="614.40" width="8.50" height="20.60" fill="#8db0d2" stroke="#3a3a4a" stroke-width="0.8"/>
<line x1="117.30" y1="627.90" x2="125.80" y2="627.90" stroke="#3a3a4a" stroke-width="0.8" />
<circle cx="121.55" cy="610.00" r="0.85" fill="#1f5a96"/>
<circle cx="121.55" cy="636.90" r="0.85" fill="#1f5a96"/>
<circle cx="124.74" cy="616.86" r="0.85" fill="#1f5a96"/>
<circle cx="123.30" cy="617.64" r="0.85" fill="#1f5a96"/>
<line x1="134.15" y1="649.00" x2="134.15" y2="657.20" stroke="#777" stroke-width="0.8" />
<line x1="131.71" y1="649.00" x2="136.59" y2="649.00" stroke="#555" stroke-width="0.8" />
<line x1="131.71" y1="657.20" x2="136.59" y2="657.20" stroke="#555" stroke-width="0.8" />
<rect x="129.80" y="649.60" width="8.70" height="7.10" fill="#9fe3a0" stroke="#4a4a4a" stroke-width="0.8"/>
<line x1="129.80" y1="653.00" x2="138.50" y2="653.00" stroke="#4a4a4a" stroke-width="0.8" />
<circle cx="134.15" cy="649.00" r="0.85" fill="#2fbf3f"/>
<circle cx="134.15" cy="657.20" r="0.85" fill="#2fbf3f"/>
<circle cx="135.09" cy="654.00" r="0.85" fill="#2fbf3f"/>
<circle cx="136.86" cy="656.15" r="0.85" fill="#2fbf3f"/>
<line x1="146.65" y1="643.30" x2="146.65" y2="657.30" stroke="#777" stroke-width="0.8" />
<line x1="144.21" y1="643.30" x2="149.09" y2="643.30" stroke="#555" stroke-width="0.8" />
<line x1="144.21" y1="657.30" x2="149.09" y2="657.30" stroke="#555" stroke-width="0.8" />
<rect x="142.30" y="646.50" width="8.70" height="10.80" fill="#a084c0" stroke="#4a4a4a" stroke-width="0.8"/>
<circle cx="146.65" cy="643.30" r="0.85" fill="#5b2a86"/>
<circle cx="146.65" cy="657.30" r="0.85" fill="#5b2a86"/>
<circle cx="144.99" cy="647.96" r="0.85" fill="#5b2a86"/>
<circle cx="145.64" cy="653.78" r="0.85" fill="#5b2a86"/>
<text x="122.30" y="608.10" font-size="9.0" text-anchor="middle" font-weight="bold" fill="#1a1a1a" textLength="11.60" lengthAdjust="spacingAndGlyphs" >***</text>
<text x="128.20" y="676.70" font-size="10.2" text-anchor="middle" font-weight="normal" fill="#1a1a1a" stroke="#1a1a1a" stroke-width="0.15" textLength="23.20" lengthAdjust="spacingAndGlyphs" >CCNB2</text>
<line x1="173.50" y1="583.10" x2="173.50" y2="664.40" stroke="#1a1a1a" stroke-width="1.1" />
<line x1="173.00" y1="663.80" x2="222.10" y2="663.80" stroke="#1a1a1a" stroke-width="1.1" />
<line x1="170.90" y1="586.90" x2="173.50" y2="586.90" stroke="#1a1a1a" stroke-width="0.9" />
<text x="168.10" y="589.75" font-size="8.0" text-anchor="end" font-weight="normal" fill="#1a1a1a" stroke="#1a1a1a" stroke-width="0.15" textLength="8.60" lengthAdjust="spacingAndGlyphs" >10</text>
<line x1="170.90" y1="602.30" x2="173.50" y2="602.30" stroke="#1a1a1a" stroke-width="0.9" />
<text x="168.10" y="605.15" font-size="8.0" text-anchor="end" font-weight="normal" fill="#1a1a1a" stroke="#1a1a1a" stroke-width="0.15" textLength="4.30" lengthAdjust="spacingAndGlyphs" >8</text>
<line x1="170.90" y1="617.70" x2="173.50" y2="617.70" stroke="#1a1a1a" stroke-width="0.9" />
<text x="168.10" y="620.55" font-size="8.0" text-anchor="end" font-weight="normal" fill="#1a1a1a" stroke="#1a1a1a" stroke-width="0.15" textLength="4.30" lengthAdjust="spacingAndGlyphs" >6</text>
<line x1="170.90" y1="633.10" x2="173.50" y2="633.10" stroke="#1a1a1a" stroke-width="0.9" />
<text x="168.10" y="635.95" font-size="8.0" text-anchor="end" font-weight="normal" fill="#1a1a1a" stroke="#1a1a1a" stroke-width="0.15" textLength="4.30" lengthAdjust="spacingAndGlyphs" >4</text>
<line x1="170.90" y1="648.50" x2="173.50" y2="648.50" stroke="#1a1a1a" stroke-width="0.9" />
<text x="168.10" y="651.35" font-size="8.0" text-anchor="end" font-weight="normal" fill="#1a1a1a" stroke="#1a1a1a" stroke-width="0.15" textLength="4.30" lengthAdjust="spacingAndGlyphs" >2</text>
<line x1="170.90" y1="663.80" x2="173.50" y2="663.80" stroke="#1a1a1a" stroke-width="0.9" />
<text x="168.10" y="666.65" font-size="8.0" text-anchor="end" font-weight="normal" fill="#1a1a1a" stroke="#1a1a1a" stroke-width="0.15" textLength="4.30" lengthAdjust="spacingAndGlyphs" >0</text>
<line x1="179.55" y1="650.00" x2="179.55" y2="658.50" stroke="#777" stroke-width="0.8" />
<line x1="177.23" y1="650.00" x2="181.87" y2="650.00" stroke="#555" stroke-width="0.8" />
<line x1="177.23" y1="658.50" x2="181.87" y2="658.50" stroke="#555" stroke-width="0.8" />
<rect x="175.40" y="650.40" width="8.30" height="7.70" fill="#ec9aa9" stroke="#4a4a4a" stroke-width="0.8"/>
<line x1="175.40" y1="654.50" x2="183.70" y2="654.50" stroke="#4a4a4a" stroke-width="0.8" />
<circle cx="179.55" cy="650.00" r="0.85" fill="#d0102e"/>
<circle cx="179.55" cy="658.50" r="0.85" fill="#d0102e"/>
<circle cx="178.61" cy="655.42" r="0.85" fill="#d0102e"/>
<circle cx="182.28" cy="654.30" r="0.85" fill="#d0102e"/>
<line x1="191.65" y1="606.20" x2="191.65" y2="627.90" stroke="#777" stroke-width="0.8" />
<line x1="189.33" y1="606.20" x2="193.97" y2="606.20" stroke="#555" stroke-width="0.8" />
<line x1="189.33" y1="627.90" x2="193.97" y2="627.90" stroke="#555" stroke-width="0.8" />
<rect x="187.50" y="610.00" width="8.30" height="16.50" fill="#8db0d2" stroke="#3a3a4a" stroke-width="0.8"/>
<line x1="187.50" y1="621.20" x2="195.80" y2="621.20" stroke="#3a3a4a" stroke-width="0.8" />
<circle cx="191.65" cy="606.20" r="0.85" fill="#1f5a96"/>
<circle cx="191.65" cy="627.90" r="0.85" fill="#1f5a96"/>
<circle cx="190.40" cy="616.30" r="0.85" fill="#1f5a96"/>
<circle cx="192.74" cy="612.82" r="0.85" fill="#1f5a96"/>
<line x1="203.85" y1="643.80" x2="203.85" y2="658.50" stroke="#777" stroke-width="0.8" />
<line x1="201.47" y1="643.80" x2="206.23" y2="643.80" stroke="#555" stroke-width="0.8" />
<line x1="201.47" y1="658.50" x2="206.23" y2="658.50" stroke="#555" stroke-width="0.8" />
<rect x="199.60" y="645.80" width="8.50" height="12.30" fill="#9fe3a0" stroke="#4a4a4a" stroke-width="0.8"/>
<line x1="199.60" y1="654.20" x2="208.10" y2="654.20" stroke="#4a4a4a" stroke-width="0.8" />
<circle cx="203.85" cy="643.80" r="0.85" fill="#2fbf3f"/>
<circle cx="203.85" cy="658.50" r="0.85" fill="#2fbf3f"/>
<circle cx="204.06" cy="657.42" r="0.85" fill="#2fbf3f"/>
<circle cx="203.63" cy="654.66" r="0.85" fill="#2fbf3f"/>
<line x1="215.85" y1="653.80" x2="215.85" y2="661.50" stroke="#777" stroke-width="0.8" />
<line x1="213.41" y1="653.80" x2="218.29" y2="653.80" stroke="#555" stroke-width="0.8" />
<line x1="213.41" y1="661.50" x2="218.29" y2="661.50" stroke="#555" stroke-width="0.8" />
<rect x="211.50" y="654.80" width="8.70" height="6.40" fill="#a084c0" stroke="#4a4a4a" stroke-width="0.8"/>
<line x1="211.50" y1="658.00" x2="220.20" y2="658.00" stroke="#4a4a4a" stroke-width="0.8" />
<circle cx="215.85" cy="653.80" r="0.85" fill="#5b2a86"/>
<circle cx="215.85" cy="661.50" r="0.85" fill="#5b2a86"/>
<circle cx="218.59" cy="657.72" r="0.85" fill="#5b2a86"/>
<circle cx="216.91" cy="660.31" r="0.85" fill="#5b2a86"/>
<text x="191.90" y="603.90" font-size="9.0" text-anchor="middle" font-weight="bold" fill="#1a1a1a" textLength="11.60" lengthAdjust="spacingAndGlyphs" >***</text>
<text x="198.10" y="676.70" font-size="10.2" text-anchor="middle" font-weight="normal" fill="#1a1a1a" stroke="#1a1a1a" stroke-width="0.15" textLength="19.70" lengthAdjust="spacingAndGlyphs" >RRM2</text>
<text x="250.60" y="562.00" font-size="12.2" text-anchor="start" font-weight="bold" fill="#000" >K</text>
<rect x="285.00" y="558.20" width="4.30" height="4.20" fill="#d0102e" />
<text x="292.80" y="562.70" font-size="6.9" text-anchor="start" font-weight="normal" fill="#1a1a1a" stroke="#1a1a1a" stroke-width="0.15" textLength="20.00" lengthAdjust="spacingAndGlyphs" >T-cells</text>
<rect x="319.20" y="558.20" width="4.30" height="4.20" fill="#1f5a96" />
<text x="327.00" y="562.70" font-size="6.9" text-anchor="start" font-weight="normal" fill="#1a1a1a" stroke="#1a1a1a" stroke-width="0.15" textLength="23.00" lengthAdjust="spacingAndGlyphs" >ORP4L</text>
<rect x="285.00" y="569.80" width="4.30" height="4.20" fill="#38c048" />
<text x="292.80" y="574.30" font-size="6.9" text-anchor="start" font-weight="normal" fill="#1a1a1a" stroke="#1a1a1a" stroke-width="0.15" textLength="54.50" lengthAdjust="spacingAndGlyphs" >ORP4L/shORP4L</text>
<rect x="355.00" y="569.80" width="4.30" height="4.20" fill="#5b2a86" />
<text x="362.80" y="574.30" font-size="6.9" text-anchor="start" font-weight="normal" fill="#1a1a1a" stroke="#1a1a1a" stroke-width="0.15" textLength="43.30" lengthAdjust="spacingAndGlyphs" >ORP4L/PFTα</text>
<text transform="translate(259.00,623.60) rotate(-90)" x="0" y="0" font-size="9.8" text-anchor="middle" font-weight="normal" fill="#1a1a1a" stroke="#1a1a1a" stroke-width="0.15" textLength="53.50" lengthAdjust="spacingAndGlyphs">Expression level</text>
<line x1="278.50" y1="583.10" x2="278.50" y2="664.40" stroke="#1a1a1a" stroke-width="1.1" />
<line x1="278.00" y1="663.80" x2="326.90" y2="663.80" stroke="#1a1a1a" stroke-width="1.1" />
<line x1="275.90" y1="586.90" x2="278.50" y2="586.90" stroke="#1a1a1a" stroke-width="0.9" />
<text x="273.10" y="589.75" font-size="8.0" text-anchor="end" font-weight="normal" fill="#1a1a1a" stroke="#1a1a1a" stroke-width="0.15" textLength="8.60" lengthAdjust="spacingAndGlyphs" >15</text>
<line x1="275.90" y1="612.50" x2="278.50" y2="612.50" stroke="#1a1a1a" stroke-width="0.9" />
<text x="273.10" y="615.35" font-size="8.0" text-anchor="end" font-weight="normal" fill="#1a1a1a" stroke="#1a1a1a" stroke-width="0.15" textLength="8.60" lengthAdjust="spacingAndGlyphs" >10</text>
<line x1="275.90" y1="638.10" x2="278.50" y2="638.10" stroke="#1a1a1a" stroke-width="0.9" />
<text x="273.10" y="640.95" font-size="8.0" text-anchor="end" font-weight="normal" fill="#1a1a1a" stroke="#1a1a1a" stroke-width="0.15" textLength="4.30" lengthAdjust="spacingAndGlyphs" >5</text>
<line x1="275.90" y1="663.80" x2="278.50" y2="663.80" stroke="#1a1a1a" stroke-width="0.9" />
<text x="273.10" y="666.65" font-size="8.0" text-anchor="end" font-weight="normal" fill="#1a1a1a" stroke="#1a1a1a" stroke-width="0.15" textLength="4.30" lengthAdjust="spacingAndGlyphs" >0</text>
<line x1="284.45" y1="640.00" x2="284.45" y2="650.00" stroke="#777" stroke-width="0.8" />
<line x1="282.18" y1="640.00" x2="286.72" y2="640.00" stroke="#555" stroke-width="0.8" />
<line x1="282.18" y1="650.00" x2="286.72" y2="650.00" stroke="#555" stroke-width="0.8" />
<rect x="280.40" y="641.90" width="8.10" height="8.10" fill="#ec9aa9" stroke="#4a4a4a" stroke-width="0.8"/>
<line x1="280.40" y1="646.50" x2="288.50" y2="646.50" stroke="#4a4a4a" stroke-width="0.8" />
<circle cx="284.45" cy="640.00" r="0.85" fill="#d0102e"/>
<circle cx="284.45" cy="650.00" r="0.85" fill="#d0102e"/>
<circle cx="285.49" cy="646.98" r="0.85" fill="#d0102e"/>
<circle cx="281.97" cy="647.98" r="0.85" fill="#d0102e"/>
<line x1="296.25" y1="593.70" x2="296.25" y2="615.80" stroke="#777" stroke-width="0.8" />
<line x1="293.81" y1="593.70" x2="298.69" y2="593.70" stroke="#555" stroke-width="0.8" />
<line x1="293.81" y1="615.80" x2="298.69" y2="615.80" stroke="#555" stroke-width="0.8" />
<rect x="291.90" y="595.20" width="8.70" height="16.00" fill="#8db0d2" stroke="#3a3a4a" stroke-width="0.8"/>
<line x1="291.90" y1="599.60" x2="300.60" y2="599.60" stroke="#3a3a4a" stroke-width="0.8" />
<circle cx="296.25" cy="593.70" r="0.85" fill="#1f5a96"/>
<circle cx="296.25" cy="615.80" r="0.85" fill="#1f5a96"/>
<circle cx="293.44" cy="601.51" r="0.85" fill="#1f5a96"/>
<circle cx="299.17" cy="602.37" r="0.85" fill="#1f5a96"/>
<line x1="308.55" y1="653.00" x2="308.55" y2="660.00" stroke="#777" stroke-width="0.8" />
<line x1="306.23" y1="653.00" x2="310.87" y2="653.00" stroke="#555" stroke-width="0.8" />
<line x1="306.23" y1="660.00" x2="310.87" y2="660.00" stroke="#555" stroke-width="0.8" />
<rect x="304.40" y="653.80" width="8.30" height="5.80" fill="#9fe3a0" stroke="#4a4a4a" stroke-width="0.8"/>
<line x1="304.40" y1="656.70" x2="312.70" y2="656.70" stroke="#4a4a4a" stroke-width="0.8" />
<circle cx="308.55" cy="653.00" r="0.85" fill="#2fbf3f"/>
<circle cx="308.55" cy="660.00" r="0.85" fill="#2fbf3f"/>
<circle cx="311.25" cy="658.62" r="0.85" fill="#2fbf3f"/>
<circle cx="310.76" cy="658.60" r="0.85" fill="#2fbf3f"/>
<line x1="320.75" y1="656.80" x2="320.75" y2="661.50" stroke="#777" stroke-width="0.8" />
<line x1="318.37" y1="656.80" x2="323.13" y2="656.80" stroke="#555" stroke-width="0.8" />
<line x1="318.37" y1="661.50" x2="323.13" y2="661.50" stroke="#555" stroke-width="0.8" />
<rect x="316.50" y="657.30" width="8.50" height="3.90" fill="#a084c0" stroke="#4a4a4a" stroke-width="0.8"/>
<line x1="316.50" y1="659.20" x2="325.00" y2="659.20" stroke="#4a4a4a" stroke-width="0.8" />
<circle cx="320.75" cy="656.80" r="0.85" fill="#5b2a86"/>
<circle cx="320.75" cy="661.50" r="0.85" fill="#5b2a86"/>
<circle cx="323.31" cy="659.56" r="0.85" fill="#5b2a86"/>
<circle cx="317.98" cy="657.50" r="0.85" fill="#5b2a86"/>
<text x="296.20" y="592.00" font-size="9.0" text-anchor="middle" font-weight="bold" fill="#1a1a1a" textLength="11.60" lengthAdjust="spacingAndGlyphs" >***</text>
<text x="302.50" y="676.70" font-size="10.2" text-anchor="middle" font-weight="normal" fill="#1a1a1a" stroke="#1a1a1a" stroke-width="0.15" textLength="22.90" lengthAdjust="spacingAndGlyphs" >CCNB1</text>
<line x1="345.40" y1="583.10" x2="345.40" y2="664.40" stroke="#1a1a1a" stroke-width="1.1" />
<line x1="344.90" y1="663.80" x2="394.10" y2="663.80" stroke="#1a1a1a" stroke-width="1.1" />
<line x1="342.80" y1="586.90" x2="345.40" y2="586.90" stroke="#1a1a1a" stroke-width="0.9" />
<text x="340.00" y="589.75" font-size="8.0" text-anchor="end" font-weight="normal" fill="#1a1a1a" stroke="#1a1a1a" stroke-width="0.15" textLength="8.60" lengthAdjust="spacingAndGlyphs" >12</text>
<line x1="342.80" y1="606.20" x2="345.40" y2="606.20" stroke="#1a1a1a" stroke-width="0.9" />
<text x="340.00" y="609.05" font-size="8.0" text-anchor="end" font-weight="normal" fill="#1a1a1a" stroke="#1a1a1a" stroke-width="0.15" textLength="4.30" lengthAdjust="spacingAndGlyphs" >9</text>
<line x1="342.80" y1="625.40" x2="345.40" y2="625.40" stroke="#1a1a1a" stroke-width="0.9" />
<text x="340.00" y="628.25" font-size="8.0" text-anchor="end" font-weight="normal" fill="#1a1a1a" stroke="#1a1a1a" stroke-width="0.15" textLength="4.30" lengthAdjust="spacingAndGlyphs" >6</text>
<line x1="342.80" y1="644.60" x2="345.40" y2="644.60" stroke="#1a1a1a" stroke-width="0.9" />
<text x="340.00" y="647.45" font-size="8.0" text-anchor="end" font-weight="normal" fill="#1a1a1a" stroke="#1a1a1a" stroke-width="0.15" textLength="4.30" lengthAdjust="spacingAndGlyphs" >3</text>
<line x1="342.80" y1="663.80" x2="345.40" y2="663.80" stroke="#1a1a1a" stroke-width="0.9" />
<text x="340.00" y="666.65" font-size="8.0" text-anchor="end" font-weight="normal" fill="#1a1a1a" stroke="#1a1a1a" stroke-width="0.15" textLength="4.30" lengthAdjust="spacingAndGlyphs" >0</text>
<line x1="351.55" y1="633.70" x2="351.55" y2="653.80" stroke="#777" stroke-width="0.8" />
<line x1="349.17" y1="633.70" x2="353.93" y2="633.70" stroke="#555" stroke-width="0.8" />
<line x1="349.17" y1="653.80" x2="353.93" y2="653.80" stroke="#555" stroke-width="0.8" />
<rect x="347.30" y="638.10" width="8.50" height="15.70" fill="#ec9aa9" stroke="#4a4a4a" stroke-width="0.8"/>
<circle cx="351.55" cy="633.70" r="0.85" fill="#d0102e"/>
<circle cx="351.55" cy="653.80" r="0.85" fill="#d0102e"/>
<circle cx="349.89" cy="642.35" r="0.85" fill="#d0102e"/>
<circle cx="353.45" cy="649.82" r="0.85" fill="#d0102e"/>
<line x1="363.65" y1="596.20" x2="363.65" y2="622.60" stroke="#777" stroke-width="0.8" />
<line x1="361.16" y1="596.20" x2="366.14" y2="596.20" stroke="#555" stroke-width="0.8" />
<line x1="361.16" y1="622.60" x2="366.14" y2="622.60" stroke="#555" stroke-width="0.8" />
<rect x="359.20" y="599.30" width="8.90" height="20.10" fill="#8db0d2" stroke="#3a3a4a" stroke-width="0.8"/>
<line x1="359.20" y1="604.00" x2="368.10" y2="604.00" stroke="#3a3a4a" stroke-width="0.8" />
<circle cx="363.65" cy="596.20" r="0.85" fill="#1f5a96"/>
<circle cx="363.65" cy="622.60" r="0.85" fill="#1f5a96"/>
<circle cx="366.57" cy="613.76" r="0.85" fill="#1f5a96"/>
<circle cx="364.34" cy="618.05" r="0.85" fill="#1f5a96"/>
<line x1="375.75" y1="638.00" x2="375.75" y2="653.30" stroke="#777" stroke-width="0.8" />
<line x1="373.37" y1="638.00" x2="378.13" y2="638.00" stroke="#555" stroke-width="0.8" />
<line x1="373.37" y1="653.30" x2="378.13" y2="653.30" stroke="#555" stroke-width="0.8" />
<rect x="371.50" y="639.50" width="8.50" height="13.40" fill="#9fe3a0" stroke="#4a4a4a" stroke-width="0.8"/>
<line x1="371.50" y1="646.50" x2="380.00" y2="646.50" stroke="#4a4a4a" stroke-width="0.8" />
<circle cx="375.75" cy="638.00" r="0.85" fill="#2fbf3f"/>
<circle cx="375.75" cy="653.30" r="0.85" fill="#2fbf3f"/>
<circle cx="375.23" cy="649.68" r="0.85" fill="#2fbf3f"/>
<circle cx="375.98" cy="643.99" r="0.85" fill="#2fbf3f"/>
<line x1="387.80" y1="647.00" x2="387.80" y2="657.10" stroke="#777" stroke-width="0.8" />
<line x1="385.45" y1="647.00" x2="390.15" y2="647.00" stroke="#555" stroke-width="0.8" />
<line x1="385.45" y1="657.10" x2="390.15" y2="657.10" stroke="#555" stroke-width="0.8" />
<rect x="383.60" y="648.00" width="8.40" height="7.00" fill="#a084c0" stroke="#4a4a4a" stroke-width="0.8"/>
<line x1="383.60" y1="651.50" x2="392.00" y2="651.50" stroke="#4a4a4a" stroke-width="0.8" />
<circle cx="387.80" cy="647.00" r="0.85" fill="#5b2a86"/>
<circle cx="387.80" cy="657.10" r="0.85" fill="#5b2a86"/>
<circle cx="390.68" cy="649.31" r="0.85" fill="#5b2a86"/>
<circle cx="386.50" cy="654.33" r="0.85" fill="#5b2a86"/>
<text x="364.50" y="592.00" font-size="9.0" text-anchor="middle" font-weight="bold" fill="#1a1a1a" textLength="11.60" lengthAdjust="spacingAndGlyphs" >***</text>
<text x="369.80" y="676.70" font-size="10.2" text-anchor="middle" font-weight="normal" fill="#1a1a1a" stroke="#1a1a1a" stroke-width="0.15" textLength="23.20" lengthAdjust="spacingAndGlyphs" >CCNB2</text>
<line x1="412.10" y1="583.10" x2="412.10" y2="664.50" stroke="#1a1a1a" stroke-width="1.1" />
<line x1="411.60" y1="663.90" x2="460.40" y2="663.90" stroke="#1a1a1a" stroke-width="1.1" />
<line x1="409.50" y1="586.60" x2="412.10" y2="586.60" stroke="#1a1a1a" stroke-width="0.9" />
<text x="406.70" y="589.45" font-size="8.0" text-anchor="end" font-weight="normal" fill="#1a1a1a" stroke="#1a1a1a" stroke-width="0.15" textLength="4.30" lengthAdjust="spacingAndGlyphs" >8</text>
<line x1="409.50" y1="606.10" x2="412.10" y2="606.10" stroke="#1a1a1a" stroke-width="0.9" />
<text x="406.70" y="608.95" font-size="8.0" text-anchor="end" font-weight="normal" fill="#1a1a1a" stroke="#1a1a1a" stroke-width="0.15" textLength="4.30" lengthAdjust="spacingAndGlyphs" >6</text>
<line x1="409.50" y1="625.30" x2="412.10" y2="625.30" stroke="#1a1a1a" stroke-width="0.9" />
<text x="406.70" y="628.15" font-size="8.0" text-anchor="end" font-weight="normal" fill="#1a1a1a" stroke="#1a1a1a" stroke-width="0.15" textLength="4.30" lengthAdjust="spacingAndGlyphs" >4</text>
<line x1="409.50" y1="644.40" x2="412.10" y2="644.40" stroke="#1a1a1a" stroke-width="0.9" />
<text x="406.70" y="647.25" font-size="8.0" text-anchor="end" font-weight="normal" fill="#1a1a1a" stroke="#1a1a1a" stroke-width="0.15" textLength="4.30" lengthAdjust="spacingAndGlyphs" >2</text>
<line x1="409.50" y1="663.90" x2="412.10" y2="663.90" stroke="#1a1a1a" stroke-width="0.9" />
<text x="406.70" y="666.75" font-size="8.0" text-anchor="end" font-weight="normal" fill="#1a1a1a" stroke="#1a1a1a" stroke-width="0.15" textLength="4.30" lengthAdjust="spacingAndGlyphs" >0</text>
<line x1="418.70" y1="641.00" x2="418.70" y2="655.40" stroke="#777" stroke-width="0.8" />
<line x1="416.46" y1="641.00" x2="420.94" y2="641.00" stroke="#555" stroke-width="0.8" />
<line x1="416.46" y1="655.40" x2="420.94" y2="655.40" stroke="#555" stroke-width="0.8" />
<rect x="414.70" y="643.10" width="8.00" height="10.60" fill="#ec9aa9" stroke="#4a4a4a" stroke-width="0.8"/>
<line x1="414.70" y1="649.50" x2="422.70" y2="649.50" stroke="#4a4a4a" stroke-width="0.8" />
<circle cx="418.70" cy="641.00" r="0.85" fill="#d0102e"/>
<circle cx="418.70" cy="655.40" r="0.85" fill="#d0102e"/>
<circle cx="416.71" cy="643.41" r="0.85" fill="#d0102e"/>
<circle cx="419.06" cy="652.03" r="0.85" fill="#d0102e"/>
<line x1="430.35" y1="600.80" x2="430.35" y2="624.10" stroke="#777" stroke-width="0.8" />
<line x1="427.86" y1="600.80" x2="432.84" y2="600.80" stroke="#555" stroke-width="0.8" />
<line x1="427.86" y1="624.10" x2="432.84" y2="624.10" stroke="#555" stroke-width="0.8" />
<rect x="425.90" y="603.60" width="8.90" height="18.40" fill="#8db0d2" stroke="#3a3a4a" stroke-width="0.8"/>
<line x1="425.90" y1="614.80" x2="434.80" y2="614.80" stroke="#3a3a4a" stroke-width="0.8" />
<circle cx="430.35" cy="600.80" r="0.85" fill="#1f5a96"/>
<circle cx="430.35" cy="624.10" r="0.85" fill="#1f5a96"/>
<circle cx="431.72" cy="620.81" r="0.85" fill="#1f5a96"/>
<circle cx="432.43" cy="620.80" r="0.85" fill="#1f5a96"/>
<line x1="442.60" y1="635.50" x2="442.60" y2="647.00" stroke="#777" stroke-width="0.8" />
<line x1="440.36" y1="635.50" x2="444.84" y2="635.50" stroke="#555" stroke-width="0.8" />
<line x1="440.36" y1="647.00" x2="444.84" y2="647.00" stroke="#555" stroke-width="0.8" />
<rect x="438.60" y="636.30" width="8.00" height="10.20" fill="#9fe3a0" stroke="#4a4a4a" stroke-width="0.8"/>
<line x1="438.60" y1="641.00" x2="446.60" y2="641.00" stroke="#4a4a4a" stroke-width="0.8" />
<circle cx="442.60" cy="635.50" r="0.85" fill="#2fbf3f"/>
<circle cx="442.60" cy="647.00" r="0.85" fill="#2fbf3f"/>
<circle cx="444.88" cy="639.19" r="0.85" fill="#2fbf3f"/>
<circle cx="442.36" cy="640.28" r="0.85" fill="#2fbf3f"/>
<line x1="454.45" y1="642.30" x2="454.45" y2="650.80" stroke="#777" stroke-width="0.8" />
<line x1="452.07" y1="642.30" x2="456.83" y2="642.30" stroke="#555" stroke-width="0.8" />
<line x1="452.07" y1="650.80" x2="456.83" y2="650.80" stroke="#555" stroke-width="0.8" />
<rect x="450.20" y="644.40" width="8.50" height="5.70" fill="#a084c0" stroke="#4a4a4a" stroke-width="0.8"/>
<line x1="450.20" y1="647.20" x2="458.70" y2="647.20" stroke="#4a4a4a" stroke-width="0.8" />
<circle cx="454.45" cy="642.30" r="0.85" fill="#5b2a86"/>
<circle cx="454.45" cy="650.80" r="0.85" fill="#5b2a86"/>
<circle cx="453.13" cy="650.05" r="0.85" fill="#5b2a86"/>
<circle cx="456.52" cy="650.04" r="0.85" fill="#5b2a86"/>
<text x="431.20" y="597.90" font-size="9.0" text-anchor="middle" font-weight="bold" fill="#1a1a1a" textLength="11.60" lengthAdjust="spacingAndGlyphs" >***</text>
<text x="436.40" y="676.70" font-size="10.2" text-anchor="middle" font-weight="normal" fill="#1a1a1a" stroke="#1a1a1a" stroke-width="0.15" textLength="19.70" lengthAdjust="spacingAndGlyphs" >RRM2</text>
<rect x="0.5" y="0.5" width="519" height="683" fill="none" stroke="#000" stroke-width="1.2"/>
</svg>
</body></html>
